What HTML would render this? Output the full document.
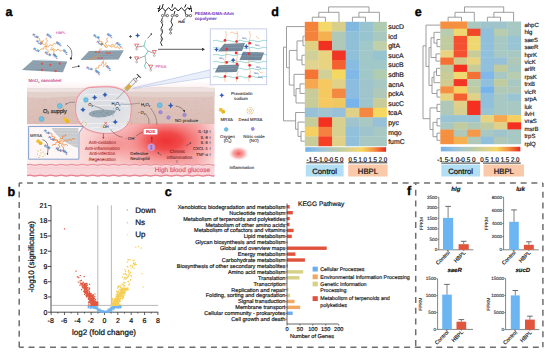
<!DOCTYPE html><html><head><meta charset="utf-8"><style>html,body{margin:0;padding:0;background:#fff;}svg{display:block;font-family:"Liberation Sans",sans-serif;text-rendering:geometricPrecision;}</style></head><body><svg width="550" height="352" viewBox="0 0 550 352"><defs><linearGradient id="derm" x1="0" x2="0" y1="0" y2="1"><stop offset="0" stop-color="#dfc7c0"/><stop offset="1" stop-color="#dbbdb5"/></linearGradient><linearGradient id="tis" x1="0" x2="1" y1="0" y2="0"><stop offset="0" stop-color="#fdf0f0"/><stop offset="0.28" stop-color="#fbdada"/><stop offset="0.9" stop-color="#f6b4b4"/><stop offset="1" stop-color="#fbdede"/></linearGradient><radialGradient id="gel" cx="0.5" cy="0.45" r="0.55"><stop offset="0" stop-color="#d8dadf"/><stop offset="0.85" stop-color="#e2e3e7"/><stop offset="1" stop-color="#ececef"/></radialGradient><radialGradient id="leg" cx="0.5" cy="0.5" r="0.5"><stop offset="0" stop-color="#f25a5a"/><stop offset="0.55" stop-color="#f79a9a" stop-opacity="0.8"/><stop offset="1" stop-color="#ffe8e8" stop-opacity="0"/></radialGradient><radialGradient id="inf1" cx="0.5" cy="0.5" r="0.5"><stop offset="0" stop-color="#ee3232"/><stop offset="0.25" stop-color="#f04444" stop-opacity="0.95"/><stop offset="0.6" stop-color="#f47c7c" stop-opacity="0.5"/><stop offset="1" stop-color="#f8a8a8" stop-opacity="0"/></radialGradient><linearGradient id="haze" x1="0" x2="0" y1="0" y2="1"><stop offset="0" stop-color="#fde8ea" stop-opacity="0"/><stop offset="1" stop-color="#fbe0e2" stop-opacity="1"/></linearGradient><clipPath id="skclip"><rect x="27.0" y="80" width="187.5" height="100"/></clipPath><clipPath id="tisclip"><rect x="27" y="123.5" width="187.5" height="41"/></clipPath></defs>
<rect x="27.00" y="80.00" width="187.50" height="8.50" fill="url(#haze)" opacity="0.5"/>
<path d="M27.0 88.4 Q60 87.6 90 88.6 T150 87.8 T214.5 88.2 V124.2 H27.0 Z" fill="url(#derm)"/>
<path d="M27.0 88.4 Q60 87.6 90 88.6 T150 87.8 T214.5 88.2 V96.5 Q170 97.2 130 96.4 T60 96.9 T27.0 96.6 Z" fill="#e7d6d1"/>
<path d="M27.0 88.4 Q60 87.6 90 88.6 T150 87.8 T214.5 88.2 V91.5 Q170 92 130 91.4 T60 91.8 T27.0 91.5 Z" fill="#ede2df"/>
<path d="M143.8 116.4h0.7v0.6h-0.7zM176.1 121.5h0.7v0.6h-0.7zM165.7 121.0h0.7v0.6h-0.7zM32.4 109.4h0.7v0.6h-0.7zM203.9 114.0h0.7v0.6h-0.7zM195.9 100.4h0.7v0.6h-0.7zM115.0 103.8h0.7v0.6h-0.7zM129.0 112.1h0.7v0.6h-0.7zM29.5 103.0h0.7v0.6h-0.7zM79.4 120.9h0.7v0.6h-0.7zM170.6 101.6h0.7v0.6h-0.7zM176.5 101.0h0.7v0.6h-0.7zM142.8 100.7h0.7v0.6h-0.7zM27.3 119.7h0.7v0.6h-0.7zM66.3 103.0h0.7v0.6h-0.7zM211.2 119.7h0.7v0.6h-0.7zM81.2 122.0h0.7v0.6h-0.7zM128.1 114.8h0.7v0.6h-0.7zM65.4 121.5h0.7v0.6h-0.7zM156.5 122.1h0.7v0.6h-0.7zM194.6 105.1h0.7v0.6h-0.7zM94.7 101.7h0.7v0.6h-0.7zM54.3 99.2h0.7v0.6h-0.7zM83.5 112.9h0.7v0.6h-0.7zM27.6 114.8h0.7v0.6h-0.7zM90.4 105.4h0.7v0.6h-0.7zM180.5 109.8h0.7v0.6h-0.7zM86.2 109.8h0.7v0.6h-0.7zM159.1 99.0h0.7v0.6h-0.7zM209.8 98.1h0.7v0.6h-0.7zM167.6 119.0h0.7v0.6h-0.7zM30.4 117.6h0.7v0.6h-0.7zM95.7 112.3h0.7v0.6h-0.7zM28.7 98.7h0.7v0.6h-0.7zM60.9 121.9h0.7v0.6h-0.7zM63.8 116.8h0.7v0.6h-0.7zM201.3 121.5h0.7v0.6h-0.7zM91.6 106.5h0.7v0.6h-0.7zM125.4 117.3h0.7v0.6h-0.7zM47.3 116.6h0.7v0.6h-0.7zM176.5 119.4h0.7v0.6h-0.7zM33.9 121.6h0.7v0.6h-0.7zM44.1 106.2h0.7v0.6h-0.7zM141.5 120.9h0.7v0.6h-0.7zM90.7 121.1h0.7v0.6h-0.7zM129.2 105.5h0.7v0.6h-0.7zM86.4 102.0h0.7v0.6h-0.7zM41.7 101.3h0.7v0.6h-0.7zM156.2 122.9h0.7v0.6h-0.7zM57.3 98.7h0.7v0.6h-0.7zM212.0 111.1h0.7v0.6h-0.7zM103.1 103.6h0.7v0.6h-0.7zM138.4 118.6h0.7v0.6h-0.7zM112.4 108.3h0.7v0.6h-0.7zM37.4 120.9h0.7v0.6h-0.7zM33.1 110.1h0.7v0.6h-0.7zM184.2 100.8h0.7v0.6h-0.7zM164.2 121.7h0.7v0.6h-0.7zM145.2 117.6h0.7v0.6h-0.7zM47.0 108.6h0.7v0.6h-0.7zM55.0 119.0h0.7v0.6h-0.7zM82.3 109.1h0.7v0.6h-0.7zM214.4 119.2h0.7v0.6h-0.7zM210.0 109.1h0.7v0.6h-0.7zM118.5 116.1h0.7v0.6h-0.7zM116.8 104.9h0.7v0.6h-0.7zM102.7 101.2h0.7v0.6h-0.7zM97.7 122.7h0.7v0.6h-0.7zM207.0 113.5h0.7v0.6h-0.7zM120.6 106.1h0.7v0.6h-0.7zM43.7 104.4h0.7v0.6h-0.7zM173.6 119.6h0.7v0.6h-0.7zM94.7 117.5h0.7v0.6h-0.7zM172.3 115.2h0.7v0.6h-0.7zM151.5 116.9h0.7v0.6h-0.7zM95.1 115.5h0.7v0.6h-0.7zM79.7 109.9h0.7v0.6h-0.7zM171.3 115.1h0.7v0.6h-0.7zM82.1 121.6h0.7v0.6h-0.7zM148.8 112.3h0.7v0.6h-0.7zM29.2 111.4h0.7v0.6h-0.7zM74.0 114.6h0.7v0.6h-0.7zM113.8 118.3h0.7v0.6h-0.7zM148.4 117.8h0.7v0.6h-0.7zM92.2 113.9h0.7v0.6h-0.7zM165.3 118.6h0.7v0.6h-0.7zM92.6 119.0h0.7v0.6h-0.7zM190.1 115.1h0.7v0.6h-0.7zM210.0 121.9h0.7v0.6h-0.7zM124.2 111.0h0.7v0.6h-0.7zM58.2 118.8h0.7v0.6h-0.7zM202.8 109.7h0.7v0.6h-0.7zM156.6 115.9h0.7v0.6h-0.7zM163.9 101.9h0.7v0.6h-0.7zM173.3 112.3h0.7v0.6h-0.7zM151.8 108.2h0.7v0.6h-0.7zM144.0 117.3h0.7v0.6h-0.7zM146.4 115.9h0.7v0.6h-0.7zM32.2 101.6h0.7v0.6h-0.7zM109.7 114.1h0.7v0.6h-0.7zM68.1 115.0h0.7v0.6h-0.7zM145.3 98.6h0.7v0.6h-0.7zM115.4 103.3h0.7v0.6h-0.7zM37.2 100.9h0.7v0.6h-0.7zM86.5 102.1h0.7v0.6h-0.7zM63.3 98.4h0.7v0.6h-0.7zM114.2 107.2h0.7v0.6h-0.7zM141.7 112.5h0.7v0.6h-0.7zM71.6 120.5h0.7v0.6h-0.7zM27.1 107.8h0.7v0.6h-0.7zM79.2 108.0h0.7v0.6h-0.7zM48.6 118.7h0.7v0.6h-0.7zM97.1 98.4h0.7v0.6h-0.7zM142.0 99.9h0.7v0.6h-0.7zM129.2 106.2h0.7v0.6h-0.7zM135.9 121.9h0.7v0.6h-0.7zM180.5 108.2h0.7v0.6h-0.7zM179.4 113.9h0.7v0.6h-0.7zM96.3 101.1h0.7v0.6h-0.7zM138.7 111.9h0.7v0.6h-0.7zM206.5 122.2h0.7v0.6h-0.7zM141.1 106.5h0.7v0.6h-0.7zM194.5 97.5h0.7v0.6h-0.7zM47.2 111.9h0.7v0.6h-0.7zM142.3 101.1h0.7v0.6h-0.7zM145.0 120.2h0.7v0.6h-0.7zM97.5 108.5h0.7v0.6h-0.7zM69.4 104.9h0.7v0.6h-0.7zM209.3 107.2h0.7v0.6h-0.7zM207.2 120.8h0.7v0.6h-0.7zM138.7 104.1h0.7v0.6h-0.7zM210.9 110.2h0.7v0.6h-0.7zM104.9 105.6h0.7v0.6h-0.7zM211.6 110.0h0.7v0.6h-0.7zM80.7 109.7h0.7v0.6h-0.7zM49.9 113.4h0.7v0.6h-0.7zM110.2 105.0h0.7v0.6h-0.7zM173.6 118.6h0.7v0.6h-0.7zM29.5 111.1h0.7v0.6h-0.7zM78.3 121.3h0.7v0.6h-0.7zM173.6 103.8h0.7v0.6h-0.7zM77.2 101.4h0.7v0.6h-0.7zM212.4 105.0h0.7v0.6h-0.7zM141.0 109.6h0.7v0.6h-0.7zM147.9 112.9h0.7v0.6h-0.7zM166.4 100.5h0.7v0.6h-0.7zM169.6 105.2h0.7v0.6h-0.7zM127.0 106.1h0.7v0.6h-0.7zM82.7 111.0h0.7v0.6h-0.7zM114.1 106.7h0.7v0.6h-0.7zM166.7 112.6h0.7v0.6h-0.7zM33.8 103.9h0.7v0.6h-0.7zM112.4 120.9h0.7v0.6h-0.7zM193.5 111.4h0.7v0.6h-0.7zM29.7 117.3h0.7v0.6h-0.7zM107.2 112.2h0.7v0.6h-0.7zM159.8 113.6h0.7v0.6h-0.7zM117.4 120.7h0.7v0.6h-0.7zM99.3 107.5h0.7v0.6h-0.7zM186.7 102.5h0.7v0.6h-0.7zM82.6 118.7h0.7v0.6h-0.7zM39.4 118.8h0.7v0.6h-0.7zM157.2 108.5h0.7v0.6h-0.7zM80.7 117.4h0.7v0.6h-0.7zM197.8 101.1h0.7v0.6h-0.7zM116.7 111.5h0.7v0.6h-0.7zM120.3 105.9h0.7v0.6h-0.7zM55.8 112.4h0.7v0.6h-0.7zM179.2 99.2h0.7v0.6h-0.7zM70.1 118.4h0.7v0.6h-0.7zM175.5 114.4h0.7v0.6h-0.7zM31.8 115.9h0.7v0.6h-0.7zM210.5 123.0h0.7v0.6h-0.7zM158.5 98.7h0.7v0.6h-0.7zM184.9 103.1h0.7v0.6h-0.7zM148.1 121.8h0.7v0.6h-0.7zM160.6 100.9h0.7v0.6h-0.7zM81.8 120.9h0.7v0.6h-0.7zM55.1 113.1h0.7v0.6h-0.7zM104.6 101.6h0.7v0.6h-0.7zM143.7 98.6h0.7v0.6h-0.7zM47.3 107.2h0.7v0.6h-0.7zM40.5 99.0h0.7v0.6h-0.7zM134.9 116.4h0.7v0.6h-0.7zM191.7 100.9h0.7v0.6h-0.7zM107.9 105.5h0.7v0.6h-0.7zM139.5 110.0h0.7v0.6h-0.7zM203.0 107.0h0.7v0.6h-0.7zM37.5 115.3h0.7v0.6h-0.7zM55.3 113.6h0.7v0.6h-0.7zM121.8 120.7h0.7v0.6h-0.7zM131.0 113.3h0.7v0.6h-0.7zM76.4 111.6h0.7v0.6h-0.7zM74.7 116.6h0.7v0.6h-0.7zM123.9 100.9h0.7v0.6h-0.7zM71.0 107.0h0.7v0.6h-0.7zM165.1 102.1h0.7v0.6h-0.7zM160.7 114.2h0.7v0.6h-0.7zM43.0 114.5h0.7v0.6h-0.7zM44.1 100.7h0.7v0.6h-0.7zM138.4 103.6h0.7v0.6h-0.7zM191.4 109.8h0.7v0.6h-0.7zM87.6 117.8h0.7v0.6h-0.7zM32.5 116.0h0.7v0.6h-0.7zM37.1 101.3h0.7v0.6h-0.7zM205.5 114.9h0.7v0.6h-0.7zM68.8 100.5h0.7v0.6h-0.7zM209.4 114.5h0.7v0.6h-0.7zM180.9 101.1h0.7v0.6h-0.7zM144.1 106.5h0.7v0.6h-0.7zM71.1 106.0h0.7v0.6h-0.7zM142.1 106.4h0.7v0.6h-0.7zM99.3 101.0h0.7v0.6h-0.7zM182.8 114.0h0.7v0.6h-0.7zM177.8 108.6h0.7v0.6h-0.7zM186.7 110.7h0.7v0.6h-0.7zM138.1 112.1h0.7v0.6h-0.7zM165.8 107.6h0.7v0.6h-0.7zM45.2 98.3h0.7v0.6h-0.7zM65.0 98.5h0.7v0.6h-0.7zM193.7 109.8h0.7v0.6h-0.7zM169.6 97.5h0.7v0.6h-0.7zM115.2 120.2h0.7v0.6h-0.7zM143.1 108.4h0.7v0.6h-0.7zM114.3 100.0h0.7v0.6h-0.7zM56.0 101.6h0.7v0.6h-0.7zM97.2 107.3h0.7v0.6h-0.7zM192.1 101.4h0.7v0.6h-0.7zM74.6 104.6h0.7v0.6h-0.7zM57.3 104.8h0.7v0.6h-0.7zM71.1 109.8h0.7v0.6h-0.7zM33.0 121.1h0.7v0.6h-0.7zM96.2 121.4h0.7v0.6h-0.7zM155.9 114.7h0.7v0.6h-0.7zM115.4 121.6h0.7v0.6h-0.7zM49.1 114.5h0.7v0.6h-0.7zM81.6 114.7h0.7v0.6h-0.7zM163.7 101.7h0.7v0.6h-0.7zM64.7 98.1h0.7v0.6h-0.7zM70.2 99.5h0.7v0.6h-0.7zM102.2 122.3h0.7v0.6h-0.7zM95.3 105.5h0.7v0.6h-0.7zM114.8 104.7h0.7v0.6h-0.7zM164.3 115.8h0.7v0.6h-0.7zM57.6 103.6h0.7v0.6h-0.7zM153.0 121.5h0.7v0.6h-0.7zM148.1 108.5h0.7v0.6h-0.7zM209.9 97.7h0.7v0.6h-0.7zM38.4 117.4h0.7v0.6h-0.7zM103.9 98.6h0.7v0.6h-0.7zM129.8 122.7h0.7v0.6h-0.7zM124.3 106.4h0.7v0.6h-0.7zM44.6 99.3h0.7v0.6h-0.7zM195.5 110.0h0.7v0.6h-0.7zM202.5 98.9h0.7v0.6h-0.7zM72.6 98.8h0.7v0.6h-0.7zM101.5 99.0h0.7v0.6h-0.7zM74.9 107.9h0.7v0.6h-0.7zM84.4 98.8h0.7v0.6h-0.7zM34.1 122.3h0.7v0.6h-0.7zM60.6 110.5h0.7v0.6h-0.7zM102.4 111.0h0.7v0.6h-0.7zM42.8 105.5h0.7v0.6h-0.7zM47.2 111.3h0.7v0.6h-0.7zM199.7 112.8h0.7v0.6h-0.7zM187.6 103.0h0.7v0.6h-0.7zM30.3 111.3h0.7v0.6h-0.7zM118.2 112.1h0.7v0.6h-0.7zM97.6 113.4h0.7v0.6h-0.7zM163.1 120.8h0.7v0.6h-0.7zM84.7 109.0h0.7v0.6h-0.7zM182.0 103.2h0.7v0.6h-0.7zM48.7 105.4h0.7v0.6h-0.7zM43.4 117.2h0.7v0.6h-0.7zM180.6 105.5h0.7v0.6h-0.7zM51.3 99.6h0.7v0.6h-0.7zM72.9 99.7h0.7v0.6h-0.7zM107.4 112.2h0.7v0.6h-0.7zM73.0 99.1h0.7v0.6h-0.7zM158.4 98.7h0.7v0.6h-0.7zM64.5 104.8h0.7v0.6h-0.7zM97.1 100.0h0.7v0.6h-0.7zM105.9 105.5h0.7v0.6h-0.7zM168.1 111.7h0.7v0.6h-0.7zM195.0 114.2h0.7v0.6h-0.7zM169.4 112.2h0.7v0.6h-0.7zM109.9 118.3h0.7v0.6h-0.7zM149.9 121.8h0.7v0.6h-0.7zM163.5 115.4h0.7v0.6h-0.7zM77.2 118.2h0.7v0.6h-0.7zM98.7 100.8h0.7v0.6h-0.7zM39.4 101.8h0.7v0.6h-0.7zM76.2 114.7h0.7v0.6h-0.7zM80.5 99.1h0.7v0.6h-0.7zM170.2 111.7h0.7v0.6h-0.7zM32.2 98.8h0.7v0.6h-0.7zM51.4 106.6h0.7v0.6h-0.7zM188.2 121.7h0.7v0.6h-0.7zM141.8 103.4h0.7v0.6h-0.7zM107.4 106.7h0.7v0.6h-0.7zM88.9 97.8h0.7v0.6h-0.7zM136.6 118.6h0.7v0.6h-0.7zM163.3 99.9h0.7v0.6h-0.7zM126.4 101.9h0.7v0.6h-0.7zM160.0 108.9h0.7v0.6h-0.7zM203.0 117.8h0.7v0.6h-0.7zM49.2 105.6h0.7v0.6h-0.7zM198.6 109.3h0.7v0.6h-0.7zM108.4 108.8h0.7v0.6h-0.7zM170.9 121.4h0.7v0.6h-0.7zM126.9 122.2h0.7v0.6h-0.7zM138.8 100.1h0.7v0.6h-0.7zM179.7 108.2h0.7v0.6h-0.7zM36.8 122.4h0.7v0.6h-0.7zM33.2 112.2h0.7v0.6h-0.7zM117.4 120.0h0.7v0.6h-0.7zM100.6 103.0h0.7v0.6h-0.7zM78.9 102.6h0.7v0.6h-0.7zM132.5 106.6h0.7v0.6h-0.7zM167.8 103.7h0.7v0.6h-0.7zM93.0 103.8h0.7v0.6h-0.7zM211.2 118.9h0.7v0.6h-0.7zM186.3 113.3h0.7v0.6h-0.7zM102.2 101.1h0.7v0.6h-0.7zM182.9 110.0h0.7v0.6h-0.7zM34.1 101.8h0.7v0.6h-0.7zM45.5 115.8h0.7v0.6h-0.7zM195.8 102.6h0.7v0.6h-0.7zM176.4 105.8h0.7v0.6h-0.7zM155.0 119.5h0.7v0.6h-0.7zM143.8 117.9h0.7v0.6h-0.7zM97.6 97.8h0.7v0.6h-0.7zM123.0 112.5h0.7v0.6h-0.7zM61.6 107.4h0.7v0.6h-0.7zM86.5 98.2h0.7v0.6h-0.7zM85.5 107.3h0.7v0.6h-0.7zM116.3 115.4h0.7v0.6h-0.7zM101.8 122.6h0.7v0.6h-0.7zM179.9 121.1h0.7v0.6h-0.7zM156.9 114.6h0.7v0.6h-0.7zM127.6 117.9h0.7v0.6h-0.7zM95.0 112.6h0.7v0.6h-0.7zM154.4 110.8h0.7v0.6h-0.7zM80.3 99.5h0.7v0.6h-0.7zM43.4 106.6h0.7v0.6h-0.7zM135.8 116.9h0.7v0.6h-0.7zM161.0 105.3h0.7v0.6h-0.7zM201.2 104.5h0.7v0.6h-0.7zM161.3 99.3h0.7v0.6h-0.7zM168.3 114.6h0.7v0.6h-0.7zM206.4 120.4h0.7v0.6h-0.7zM155.9 118.9h0.7v0.6h-0.7zM165.5 113.1h0.7v0.6h-0.7zM66.1 110.7h0.7v0.6h-0.7zM195.0 103.6h0.7v0.6h-0.7zM209.7 111.4h0.7v0.6h-0.7zM100.8 97.6h0.7v0.6h-0.7zM100.2 102.0h0.7v0.6h-0.7zM149.5 120.4h0.7v0.6h-0.7zM197.7 113.1h0.7v0.6h-0.7zM99.5 100.3h0.7v0.6h-0.7zM156.1 111.6h0.7v0.6h-0.7zM161.1 107.0h0.7v0.6h-0.7zM193.3 102.9h0.7v0.6h-0.7zM84.3 104.3h0.7v0.6h-0.7zM143.7 120.4h0.7v0.6h-0.7zM58.4 113.6h0.7v0.6h-0.7zM170.7 103.2h0.7v0.6h-0.7zM38.8 111.9h0.7v0.6h-0.7zM182.7 119.9h0.7v0.6h-0.7zM163.5 108.1h0.7v0.6h-0.7zM106.8 111.0h0.7v0.6h-0.7zM196.6 105.2h0.7v0.6h-0.7zM79.6 112.9h0.7v0.6h-0.7zM208.2 102.3h0.7v0.6h-0.7zM32.7 100.4h0.7v0.6h-0.7zM132.5 112.9h0.7v0.6h-0.7zM61.5 102.4h0.7v0.6h-0.7zM138.5 114.0h0.7v0.6h-0.7zM156.4 116.1h0.7v0.6h-0.7zM38.5 109.9h0.7v0.6h-0.7zM183.5 121.9h0.7v0.6h-0.7zM86.7 119.2h0.7v0.6h-0.7zM148.0 121.1h0.7v0.6h-0.7zM70.0 115.3h0.7v0.6h-0.7zM184.6 109.7h0.7v0.6h-0.7zM45.9 102.4h0.7v0.6h-0.7zM56.4 99.9h0.7v0.6h-0.7zM55.5 113.2h0.7v0.6h-0.7zM46.7 116.8h0.7v0.6h-0.7zM165.0 118.3h0.7v0.6h-0.7zM177.7 115.7h0.7v0.6h-0.7zM200.3 121.9h0.7v0.6h-0.7zM144.2 122.1h0.7v0.6h-0.7zM46.4 100.1h0.7v0.6h-0.7zM39.1 102.8h0.7v0.6h-0.7zM97.2 109.2h0.7v0.6h-0.7zM154.6 116.4h0.7v0.6h-0.7zM42.7 107.8h0.7v0.6h-0.7zM128.9 107.1h0.7v0.6h-0.7zM49.0 112.7h0.7v0.6h-0.7zM97.2 114.9h0.7v0.6h-0.7zM119.9 122.0h0.7v0.6h-0.7zM204.2 99.3h0.7v0.6h-0.7zM169.5 115.9h0.7v0.6h-0.7zM82.5 100.5h0.7v0.6h-0.7zM116.8 106.5h0.7v0.6h-0.7zM165.2 120.9h0.7v0.6h-0.7zM98.6 104.9h0.7v0.6h-0.7zM120.5 115.3h0.7v0.6h-0.7zM174.9 112.2h0.7v0.6h-0.7zM82.5 106.1h0.7v0.6h-0.7zM186.0 110.7h0.7v0.6h-0.7zM36.4 108.2h0.7v0.6h-0.7zM71.6 114.5h0.7v0.6h-0.7zM40.8 104.4h0.7v0.6h-0.7zM45.0 109.7h0.7v0.6h-0.7zM211.6 111.3h0.7v0.6h-0.7zM99.4 121.3h0.7v0.6h-0.7zM44.2 106.6h0.7v0.6h-0.7zM179.0 97.6h0.7v0.6h-0.7zM170.6 106.7h0.7v0.6h-0.7zM30.1 103.9h0.7v0.6h-0.7zM112.9 107.3h0.7v0.6h-0.7zM123.9 98.9h0.7v0.6h-0.7zM68.0 122.3h0.7v0.6h-0.7zM110.0 109.5h0.7v0.6h-0.7zM43.0 104.6h0.7v0.6h-0.7zM206.0 115.0h0.7v0.6h-0.7zM122.2 98.9h0.7v0.6h-0.7zM100.6 117.4h0.7v0.6h-0.7zM108.5 112.6h0.7v0.6h-0.7zM196.2 114.0h0.7v0.6h-0.7zM146.2 98.4h0.7v0.6h-0.7zM31.5 117.1h0.7v0.6h-0.7zM104.5 119.8h0.7v0.6h-0.7zM181.8 120.8h0.7v0.6h-0.7zM98.0 123.0h0.7v0.6h-0.7zM168.8 120.2h0.7v0.6h-0.7zM54.8 117.4h0.7v0.6h-0.7zM106.2 122.3h0.7v0.6h-0.7zM213.4 103.0h0.7v0.6h-0.7zM106.0 104.4h0.7v0.6h-0.7zM115.1 104.8h0.7v0.6h-0.7zM152.0 100.6h0.7v0.6h-0.7zM58.7 109.2h0.7v0.6h-0.7zM40.9 107.2h0.7v0.6h-0.7zM195.3 120.1h0.7v0.6h-0.7zM63.8 98.0h0.7v0.6h-0.7zM182.3 122.0h0.7v0.6h-0.7zM139.3 101.0h0.7v0.6h-0.7zM71.4 121.0h0.7v0.6h-0.7zM202.8 98.3h0.7v0.6h-0.7zM61.7 108.4h0.7v0.6h-0.7zM77.0 116.7h0.7v0.6h-0.7zM96.9 117.3h0.7v0.6h-0.7zM55.5 110.7h0.7v0.6h-0.7zM209.8 115.4h0.7v0.6h-0.7zM43.9 100.3h0.7v0.6h-0.7zM147.7 107.1h0.7v0.6h-0.7zM96.1 109.7h0.7v0.6h-0.7zM136.1 122.1h0.7v0.6h-0.7zM72.2 112.0h0.7v0.6h-0.7zM76.3 111.4h0.7v0.6h-0.7zM164.1 100.9h0.7v0.6h-0.7zM117.2 115.5h0.7v0.6h-0.7zM28.5 117.2h0.7v0.6h-0.7zM105.5 110.4h0.7v0.6h-0.7zM141.5 117.7h0.7v0.6h-0.7zM37.5 110.3h0.7v0.6h-0.7zM34.2 107.3h0.7v0.6h-0.7zM91.8 98.0h0.7v0.6h-0.7zM82.8 109.0h0.7v0.6h-0.7zM149.8 121.1h0.7v0.6h-0.7zM96.5 111.0h0.7v0.6h-0.7zM160.7 121.4h0.7v0.6h-0.7zM205.1 122.7h0.7v0.6h-0.7zM83.6 101.7h0.7v0.6h-0.7zM201.7 99.5h0.7v0.6h-0.7zM111.1 116.3h0.7v0.6h-0.7zM126.1 107.4h0.7v0.6h-0.7zM200.3 105.1h0.7v0.6h-0.7zM130.4 118.7h0.7v0.6h-0.7zM52.9 106.4h0.7v0.6h-0.7zM119.7 111.9h0.7v0.6h-0.7zM65.9 109.1h0.7v0.6h-0.7zM38.2 99.7h0.7v0.6h-0.7zM91.1 101.2h0.7v0.6h-0.7zM208.4 104.2h0.7v0.6h-0.7zM78.7 117.5h0.7v0.6h-0.7zM166.0 104.2h0.7v0.6h-0.7zM182.5 113.5h0.7v0.6h-0.7zM99.9 113.5h0.7v0.6h-0.7zM73.1 104.2h0.7v0.6h-0.7zM191.3 108.7h0.7v0.6h-0.7zM195.2 102.0h0.7v0.6h-0.7zM52.7 98.8h0.7v0.6h-0.7zM165.7 111.8h0.7v0.6h-0.7zM28.8 98.6h0.7v0.6h-0.7zM181.5 110.1h0.7v0.6h-0.7zM190.4 98.5h0.7v0.6h-0.7zM137.4 100.5h0.7v0.6h-0.7zM162.2 113.1h0.7v0.6h-0.7zM141.8 103.1h0.7v0.6h-0.7zM204.9 100.3h0.7v0.6h-0.7zM39.0 114.9h0.7v0.6h-0.7zM44.4 99.2h0.7v0.6h-0.7zM113.3 114.0h0.7v0.6h-0.7zM194.3 115.9h0.7v0.6h-0.7zM40.0 113.9h0.7v0.6h-0.7zM185.2 100.6h0.7v0.6h-0.7zM168.5 104.1h0.7v0.6h-0.7zM83.0 97.5h0.7v0.6h-0.7zM169.2 110.7h0.7v0.6h-0.7zM196.1 109.4h0.7v0.6h-0.7zM56.1 103.0h0.7v0.6h-0.7zM76.4 121.6h0.7v0.6h-0.7zM65.5 99.7h0.7v0.6h-0.7zM93.1 99.5h0.7v0.6h-0.7zM106.7 113.4h0.7v0.6h-0.7z" fill="#c7a9a1" opacity="0.5"/>
<path d="M27.0 92.5 Q80 93.1 130 92.5 T214.5 92.5" stroke="#d9c3bd" stroke-width="0.35" fill="none"/>
<path d="M27.0 93.7 Q80 94.3 130 93.7 T214.5 93.7" stroke="#d9c3bd" stroke-width="0.35" fill="none"/>
<path d="M27.0 94.9 Q80 95.5 130 94.9 T214.5 94.9" stroke="#d9c3bd" stroke-width="0.35" fill="none"/>
<path d="M27.0 96.1 Q80 96.7 130 96.1 T214.5 96.1" stroke="#d9c3bd" stroke-width="0.35" fill="none"/>
<rect x="27.00" y="124.00" width="187.50" height="40.80" fill="url(#tis)" />
<g clip-path="url(#tisclip)">
<ellipse cx="166" cy="141" rx="62" ry="34" fill="url(#inf1)"/>
<ellipse cx="112" cy="145" rx="36" ry="24" fill="url(#inf1)" opacity="0.3"/>
</g>
<rect x="27.00" y="164.60" width="187.50" height="11.60" fill="#f9d6da" />
<g clip-path="url(#skclip)">
<path d="M27.0 164.7 q2.62 -0.9 5.25 0 t5.25 0 q2.62 -0.9 5.25 0 t5.25 0 q2.62 -0.9 5.25 0 t5.25 0 q2.62 -0.9 5.25 0 t5.25 0 q2.62 -0.9 5.25 0 t5.25 0 q2.62 -0.9 5.25 0 t5.25 0 q2.62 -0.9 5.25 0 t5.25 0 q2.62 -0.9 5.25 0 t5.25 0 q2.62 -0.9 5.25 0 t5.25 0 q2.62 -0.9 5.25 0 t5.25 0 q2.62 -0.9 5.25 0 t5.25 0 q2.62 -0.9 5.25 0 t5.25 0 q2.62 -0.9 5.25 0 t5.25 0 q2.62 -0.9 5.25 0 t5.25 0 q2.62 -0.9 5.25 0 t5.25 0 q2.62 -0.9 5.25 0 t5.25 0 q2.62 -0.9 5.25 0 t5.25 0 q2.62 -0.9 5.25 0 t5.25 0" fill="none" stroke="#e78d98" stroke-width="1.1"/>
<path d="M27.0 168.0 q3.50 -0.5 7.00 0 t7.00 0 q3.50 -0.5 7.00 0 t7.00 0 q3.50 -0.5 7.00 0 t7.00 0 q3.50 -0.5 7.00 0 t7.00 0 q3.50 -0.5 7.00 0 t7.00 0 q3.50 -0.5 7.00 0 t7.00 0 q3.50 -0.5 7.00 0 t7.00 0 q3.50 -0.5 7.00 0 t7.00 0 q3.50 -0.5 7.00 0 t7.00 0 q3.50 -0.5 7.00 0 t7.00 0 q3.50 -0.5 7.00 0 t7.00 0 q3.50 -0.5 7.00 0 t7.00 0 q3.50 -0.5 7.00 0 t7.00 0 q3.50 -0.5 7.00 0 t7.00 0" fill="none" stroke="#f4c0c6" stroke-width="0.5"/>
<path d="M27.0 175.6 q2.62 -0.8 5.25 0 t5.25 0 q2.62 -0.8 5.25 0 t5.25 0 q2.62 -0.8 5.25 0 t5.25 0 q2.62 -0.8 5.25 0 t5.25 0 q2.62 -0.8 5.25 0 t5.25 0 q2.62 -0.8 5.25 0 t5.25 0 q2.62 -0.8 5.25 0 t5.25 0 q2.62 -0.8 5.25 0 t5.25 0 q2.62 -0.8 5.25 0 t5.25 0 q2.62 -0.8 5.25 0 t5.25 0 q2.62 -0.8 5.25 0 t5.25 0 q2.62 -0.8 5.25 0 t5.25 0 q2.62 -0.8 5.25 0 t5.25 0 q2.62 -0.8 5.25 0 t5.25 0 q2.62 -0.8 5.25 0 t5.25 0 q2.62 -0.8 5.25 0 t5.25 0 q2.62 -0.8 5.25 0 t5.25 0 q2.62 -0.8 5.25 0 t5.25 0" fill="none" stroke="#e6808e" stroke-width="1.3"/>
</g>
<text x="182.40" y="171.80" font-size="6.5" fill="#e05a6a" text-anchor="middle" font-weight="normal" font-style="normal"  stroke="#e05a6a" stroke-width="0.195">High blood glucose</text>
<path d="M133 88 L210.3 69.8 L210.3 77.2 Z" fill="#e3e9f7" opacity="0.75"/>
<line x1="133.00" y1="88.00" x2="210.30" y2="69.80" stroke="#aebde6" stroke-width="0.6" />
<line x1="133.00" y1="88.60" x2="210.30" y2="77.20" stroke="#aebde6" stroke-width="0.6" />
<path d="M82.7 91.2 C86 88.5 88 87.6 90.7 87.5 C97 87 104 86.8 109.8 86.9 C115 87.2 119 88.5 122.5 90.4 C126 93 128.5 96 129.7 99.9 C131 103 131.5 106 131.2 109.5 C131 113 130.8 117 129.7 120.6 C128 124 125.5 127 122.5 129.3 C118 132 114 133 109.8 133.3 C105 133.6 101 133.2 97 132.5 C93 131.6 89 130.4 85.9 128.5 C82.5 126 80.2 123.5 78.7 120.6 C76.5 117 75.6 113.5 75.6 109.5 C75.6 105.5 76 101.5 77.2 98.3 C78.5 95.5 80.5 93 82.7 91.2 Z" fill="none" stroke="#f3b6be" stroke-width="2.6" opacity="0.7"/>
<path d="M82.7 91.2 C86 88.5 88 87.6 90.7 87.5 C97 87 104 86.8 109.8 86.9 C115 87.2 119 88.5 122.5 90.4 C126 93 128.5 96 129.7 99.9 C131 103 131.5 106 131.2 109.5 C131 113 130.8 117 129.7 120.6 C128 124 125.5 127 122.5 129.3 C118 132 114 133 109.8 133.3 C105 133.6 101 133.2 97 132.5 C93 131.6 89 130.4 85.9 128.5 C82.5 126 80.2 123.5 78.7 120.6 C76.5 117 75.6 113.5 75.6 109.5 C75.6 105.5 76 101.5 77.2 98.3 C78.5 95.5 80.5 93 82.7 91.2 Z" fill="url(#gel)" stroke="#e78894" stroke-width="0.9"/>
<path d="M84 95 Q102.0 93.5 120 95" stroke="#f4f4f6" stroke-width="1.2" fill="none" opacity="0.8"/>
<path d="M80 101 Q103.0 99.5 126 101" stroke="#f4f4f6" stroke-width="1.2" fill="none" opacity="0.8"/>
<path d="M92 106 Q110.0 104.5 128 106" stroke="#f4f4f6" stroke-width="1.2" fill="none" opacity="0.8"/>
<path d="M84 124 Q103.0 122.5 122 124" stroke="#f4f4f6" stroke-width="1.2" fill="none" opacity="0.8"/>
<path d="M90 128 Q104.0 126.5 118 128" stroke="#f4f4f6" stroke-width="1.2" fill="none" opacity="0.8"/>
<path d="M89 113 C93 109.5 103 109.2 116 110.5 C115 114.5 108 117.5 98 117.4 C92 117.2 88 115.5 89 113 Z" fill="#93a5b0"/>
<path d="M106.0 111.9h0.6v0.5h-0.6zM94.2 113.5h0.6v0.5h-0.6zM106.8 113.2h0.6v0.5h-0.6zM104.2 115.6h0.6v0.5h-0.6zM94.3 112.3h0.6v0.5h-0.6zM102.4 113.7h0.6v0.5h-0.6zM111.7 113.8h0.6v0.5h-0.6zM106.2 113.1h0.6v0.5h-0.6zM109.0 115.2h0.6v0.5h-0.6zM97.8 111.5h0.6v0.5h-0.6zM97.0 112.8h0.6v0.5h-0.6zM111.5 112.3h0.6v0.5h-0.6zM105.5 114.2h0.6v0.5h-0.6zM113.0 111.6h0.6v0.5h-0.6zM108.7 112.7h0.6v0.5h-0.6zM93.4 114.2h0.6v0.5h-0.6zM110.4 113.9h0.6v0.5h-0.6zM92.1 115.9h0.6v0.5h-0.6zM99.8 114.2h0.6v0.5h-0.6zM107.7 112.3h0.6v0.5h-0.6zM100.4 112.6h0.6v0.5h-0.6zM93.2 111.3h0.6v0.5h-0.6zM107.5 113.1h0.6v0.5h-0.6zM111.0 111.3h0.6v0.5h-0.6zM97.9 111.9h0.6v0.5h-0.6zM112.7 115.0h0.6v0.5h-0.6zM111.6 113.5h0.6v0.5h-0.6zM93.4 113.1h0.6v0.5h-0.6zM96.2 111.1h0.6v0.5h-0.6zM104.0 112.4h0.6v0.5h-0.6zM93.5 113.6h0.6v0.5h-0.6zM112.5 115.7h0.6v0.5h-0.6zM101.7 111.5h0.6v0.5h-0.6zM108.7 111.6h0.6v0.5h-0.6zM103.4 111.4h0.6v0.5h-0.6zM113.7 113.7h0.6v0.5h-0.6zM101.1 112.4h0.6v0.5h-0.6zM103.7 115.9h0.6v0.5h-0.6zM100.8 112.0h0.6v0.5h-0.6zM102.8 115.6h0.6v0.5h-0.6z" fill="#6f838f"/>
<path d="M94.7 94.8 Q95.132 97.068 97.4 97.5 Q95.132 97.932 94.7 100.2 Q94.268 97.932 92.0 97.5 Q94.268 97.068 94.7 94.8 Z" fill="#2f5db5"/>
<path d="M105 92.1 Q105.432 94.368 107.7 94.8 Q105.432 95.232 105 97.5 Q104.568 95.232 102.3 94.8 Q104.568 94.368 105 92.1 Z" fill="#2f5db5"/>
<path d="M83 107.1 Q83.432 109.368 85.7 109.8 Q83.432 110.232 83 112.5 Q82.568 110.232 80.3 109.8 Q82.568 109.368 83 107.1 Z" fill="#2f5db5"/>
<path d="M115.3 119.2 Q115.732 121.468 118.0 121.9 Q115.732 122.33200000000001 115.3 124.60000000000001 Q114.868 122.33200000000001 112.6 121.9 Q114.868 121.468 115.3 119.2 Z" fill="#2f5db5"/>
<circle cx="85.9" cy="99.9" r="2.4" fill="#70c2e2" stroke="#3f9ccb" stroke-width="0.4"/>
<text x="88.3" y="106.2" font-size="4.2" fill="#222" stroke="#222" stroke-width="0.076">O<tspan font-size="2.52" dy="0.92">2</tspan><tspan dy="-0.92"></tspan></text>
<text x="111.4" y="104.6" font-size="4.2" fill="#222" stroke="#222" stroke-width="0.076">H<tspan font-size="2.5" dy="0.9">2</tspan><tspan dy="-0.9">O</tspan><tspan font-size="2.5" dy="0.9">2</tspan></text>
<text x="113" y="110.2" font-size="4.2" fill="#222" stroke="#222" stroke-width="0.076">· O<tspan font-size="2.52" dy="0.92">2</tspan><tspan dy="-0.92"></tspan></text>
<path d="M92 105 Q98 107 104 110" stroke="#333" stroke-width="0.35" fill="none"/>
<text x="100.20" y="127.70" font-size="4.0" fill="#222" text-anchor="start" font-weight="normal" font-style="normal"  stroke="#222" stroke-width="0.072">· OH</text>
<path d="M104.2 122 l3 2.6 M107.2 122 l-3 2.6" stroke="#e05050" stroke-width="0.7"/>
<circle cx="86.6" cy="124.0" r="0.45" fill="#d8a020"/>
<circle cx="85.8" cy="125.8" r="0.45" fill="#d8a020"/>
<circle cx="84.0" cy="126.6" r="0.45" fill="#d8a020"/>
<circle cx="82.2" cy="125.8" r="0.45" fill="#d8a020"/>
<circle cx="81.4" cy="124.0" r="0.45" fill="#d8a020"/>
<circle cx="82.2" cy="122.2" r="0.45" fill="#d8a020"/>
<circle cx="84.0" cy="121.4" r="0.45" fill="#d8a020"/>
<circle cx="85.8" cy="122.2" r="0.45" fill="#d8a020"/>
<circle cx="132.1" cy="123.0" r="0.45" fill="#d8a020"/>
<circle cx="131.3" cy="124.8" r="0.45" fill="#d8a020"/>
<circle cx="129.5" cy="125.6" r="0.45" fill="#d8a020"/>
<circle cx="127.7" cy="124.8" r="0.45" fill="#d8a020"/>
<circle cx="126.9" cy="123.0" r="0.45" fill="#d8a020"/>
<circle cx="127.7" cy="121.2" r="0.45" fill="#d8a020"/>
<circle cx="129.5" cy="120.4" r="0.45" fill="#d8a020"/>
<circle cx="131.3" cy="121.2" r="0.45" fill="#d8a020"/>
<circle cx="59.8" cy="105.9" r="2.5" fill="#70c2e2" stroke="#3f9ccb" stroke-width="0.4"/>
<circle cx="41.6" cy="119" r="2.5" fill="#70c2e2" stroke="#3f9ccb" stroke-width="0.4"/>
<circle cx="65.2" cy="119.4" r="2.0" fill="#f2c232"/>
<circle cx="67.5" cy="121.3" r="2.0" fill="#e9b624"/>
<text x="42.9" y="113" font-size="5.6" fill="#222" stroke="#222" stroke-width="0.168">O<tspan font-size="3.4" dy="1.1">2</tspan><tspan dy="-1.1"> supply</tspan></text>
<path d="M66 104 Q70 101.5 75 102.2" stroke="#333" stroke-width="0.4" fill="none"/>
<circle cx="66" cy="104" r="0.5" fill="#222"/>
<text x="140.9" y="105.8" font-size="4.3" fill="#222" stroke="#222" stroke-width="0.077">H<tspan font-size="2.6" dy="0.9">2</tspan><tspan dy="-0.9">O</tspan><tspan font-size="2.6" dy="0.9">2</tspan></text>
<text x="138" y="114.2" font-size="4.3" fill="#222" stroke="#222" stroke-width="0.077">· O<tspan font-size="2.58" dy="0.95">2</tspan><tspan dy="-0.95"></tspan></text>
<circle cx="159.8" cy="105.2" r="2.5" fill="#70c2e2" stroke="#3f9ccb" stroke-width="0.4"/>
<path d="M170.7 102.5 Q171.17999999999998 105.02 173.7 105.5 Q171.17999999999998 105.98 170.7 108.5 Q170.22 105.98 167.7 105.5 Q170.22 105.02 170.7 102.5 Z" fill="#2f5db5"/>
<circle cx="160.5" cy="112.2" r="1.8" fill="#a08ce0" stroke="#7f68c8" stroke-width="0.4"/>
<circle cx="168.5" cy="117.5" r="1.8" fill="#a08ce0" stroke="#7f68c8" stroke-width="0.4"/>
<circle cx="184.5" cy="115" r="1.8" fill="#a08ce0" stroke="#7f68c8" stroke-width="0.4"/>
<text x="175.00" y="121.50" font-size="4.3" fill="#222" text-anchor="start" font-weight="normal" font-style="normal"  stroke="#222" stroke-width="0.077">NO produce</text>
<path d="M175.8 106 Q182 107 184 111" stroke="#333" stroke-width="0.45" fill="none"/><path d="M182.9 110.6 L184.6 112.4 L185 110.1 Z" fill="#222"/>
<path d="M150.4 108 Q157 116 157 125" stroke="#444" stroke-width="0.4" fill="none"/>
<path d="M146 114 Q150 119 149 124" stroke="#444" stroke-width="0.4" fill="none"/>
<path d="M121 104 Q128 105 140 103" stroke="#444" stroke-width="0.35" fill="none"/>
<text x="125.2" y="139.5" font-size="4.3" fill="#222" stroke="#222" stroke-width="0.077">· OH<tspan font-size="2.6" dy="-1.4">−</tspan></text>
<path d="M110.6 129.3 Q115 136 122.5 137.3" stroke="#333" stroke-width="0.4" fill="none"/>
<path d="M136 136 Q140 133 143.5 131.5" stroke="#333" stroke-width="0.4" fill="none"/>
<rect x="143.3" y="128.4" width="14.5" height="6.4" rx="1.6" fill="#fff" stroke="#e86060" stroke-width="0.6"/>
<text x="150.55" y="133.20" font-size="4.2" fill="#e02830" text-anchor="middle" font-weight="bold" font-style="normal"  stroke="#e02830" stroke-width="0.076">ROS</text>
<path d="M151.8 142.4 V137.5" stroke="#7a2a2a" stroke-width="0.7"/>
<path d="M150.8 138.3 L151.8 136.6 L152.8 138.3 Z" fill="#7a2a2a"/>
<circle cx="151.3" cy="147.3" r="3.7" fill="#c99ad8"/>
<path d="M152.4 145.6 Q150.2 145 150.6 146.8 Q152.5 147.5 151.8 149 Q150.5 149.6 150 148.6" stroke="#8a4fb0" stroke-width="0.9" fill="none"/>
<text x="139.30" y="154.50" font-size="4.3" fill="#222" text-anchor="middle" font-weight="normal" font-style="normal"  stroke="#222" stroke-width="0.077">Defective</text>
<text x="140.00" y="159.60" font-size="4.3" fill="#222" text-anchor="middle" font-weight="normal" font-style="normal"  stroke="#222" stroke-width="0.077">Neutrophil</text>
<text x="177.50" y="153.00" font-size="4.5" fill="#7a1c1c" text-anchor="middle" font-weight="normal" font-style="normal"  stroke="#7a1c1c" stroke-width="0.081">Chronic</text>
<text x="179.60" y="158.60" font-size="4.5" fill="#7a1c1c" text-anchor="middle" font-weight="normal" font-style="normal"  stroke="#7a1c1c" stroke-width="0.081">inflammation</text>
<text x="211.20" y="133.00" font-size="4.2" fill="#222" text-anchor="end" font-weight="normal" font-style="normal"  stroke="#222" stroke-width="0.076">IL-1β ↑</text>
<text x="211.20" y="138.65" font-size="4.2" fill="#222" text-anchor="end" font-weight="normal" font-style="normal"  stroke="#222" stroke-width="0.076">IL-8 ↑</text>
<text x="211.20" y="144.30" font-size="4.2" fill="#222" text-anchor="end" font-weight="normal" font-style="normal"  stroke="#222" stroke-width="0.076">IL-6 ↑</text>
<text x="211.20" y="149.95" font-size="4.2" fill="#222" text-anchor="end" font-weight="normal" font-style="normal"  stroke="#222" stroke-width="0.076">CXCL-1 ↑</text>
<text x="211.20" y="155.60" font-size="4.2" fill="#222" text-anchor="end" font-weight="normal" font-style="normal"  stroke="#222" stroke-width="0.076">TNF-α ↑</text>
<path d="M161.5 155.3 l-3 -2" stroke="#333" stroke-width="0.45"/><path d="M157.4 152.6 l1.8 0 l-0.9 1.4 Z" fill="#333"/>
<path d="M186.2 145.8 l4.2 -2.6" stroke="#333" stroke-width="0.45"/><path d="M191.4 142.6 l-1.8 -0.1 l0.8 1.5 Z" fill="#333"/>
<path d="M177 163 l0 -3" stroke="#333" stroke-width="0.4"/>
<path d="M103.4 133.3 V138" stroke="#c03030" stroke-width="0.7"/>
<path d="M102.3 137.2 L103.4 139 L104.5 137.2 Z" fill="#c03030"/>
<text x="102.30" y="144.10" font-size="4.5" fill="#a8282a" text-anchor="middle" font-weight="normal" font-style="normal"  stroke="#a8282a" stroke-width="0.081">Anti-oxidation</text>
<text x="102.30" y="149.65" font-size="4.5" fill="#a8282a" text-anchor="middle" font-weight="normal" font-style="normal"  stroke="#a8282a" stroke-width="0.081">Anti-inflammation</text>
<text x="102.30" y="155.20" font-size="4.5" fill="#a8282a" text-anchor="middle" font-weight="normal" font-style="normal"  stroke="#a8282a" stroke-width="0.081">Anti-infection</text>
<text x="102.30" y="160.75" font-size="4.5" fill="#a8282a" text-anchor="middle" font-weight="normal" font-style="normal"  stroke="#a8282a" stroke-width="0.081">Regeneration</text>
<path d="M28.6 126.5 H83.5 L78.9 133 V159.2 H28.6 Z" fill="#fdf6f6" stroke="#7b98c8" stroke-width="0.9"/>
<path d="M51.5 127.9 H78.3 V148 C68 145 58 138 51.5 127.9 Z" fill="#c9cacd"/>
<path d="M52.0 130.0 H78.3" stroke="#dcdcde" stroke-width="0.5"/>
<path d="M56.5 133.6 H78.3" stroke="#dcdcde" stroke-width="0.5"/>
<path d="M61.0 137.2 H78.3" stroke="#dcdcde" stroke-width="0.5"/>
<path d="M65.5 140.8 H78.3" stroke="#dcdcde" stroke-width="0.5"/>
<path d="M70.0 144.4 H78.3" stroke="#dcdcde" stroke-width="0.5"/>
<text x="29.9" y="137.4" font-size="4.2" fill="#333" stroke="#333" stroke-width="0.076">MRSA</text>
<circle cx="38.2" cy="141.2" r="1.9" fill="#f2c232"/>
<circle cx="40.6" cy="143.2" r="1.9" fill="#e9b624"/>
<path d="M42.3 139.6 Q50 141 47.5 154" stroke="#333" stroke-width="0.55" fill="none"/>
<circle cx="47.5" cy="154" r="0.7" fill="#222"/>
<circle cx="38" cy="151" r="0.5" fill="#d8a020"/>
<circle cx="40.5" cy="150" r="0.5" fill="#d8a020"/>
<circle cx="43" cy="152" r="0.5" fill="#d8a020"/>
<circle cx="37.5" cy="154" r="0.5" fill="#d8a020"/>
<circle cx="40" cy="155.5" r="0.5" fill="#d8a020"/>
<circle cx="43" cy="156.5" r="0.5" fill="#d8a020"/>
<circle cx="45" cy="154" r="0.5" fill="#d8a020"/>
<circle cx="39" cy="157.5" r="0.5" fill="#d8a020"/>
<circle cx="41" cy="153" r="0.5" fill="#d8a020"/>
<path d="M58.0 142.0 L57.3 139.9 L54.7 139.6 L54.7 136.9 L52.0 136.6 L52.0 133.9 L50.0 133.0 M58.0 142.0 L56.8 140.1 L54.2 140.4 L53.0 138.5 M58.0 142.0 L60.0 141.3 L60.0 138.7 L62.6 138.6 L62.7 136.0 L65.3 136.0 L66.0 134.0 M58.0 142.0 L60.0 142.6 L61.6 140.4 L63.8 141.9 L65.4 139.8 L67.6 141.2 L69.2 139.1 L71.4 140.6 L73.0 138.4 L75.0 139.0 M58.0 142.0 L59.7 143.6 L62.3 142.8 L63.7 145.2 L66.3 144.4 L68.0 146.0 M62.0 144.0 L61.6 146.2 L63.9 147.8 L62.6 150.2 L64.0 152.0 M58.0 142.0 L56.0 142.3 L55.5 144.7 L53.0 144.3 L52.0 146.0 M60.0 143.0 L58.6 144.8 L59.9 147.2 L57.6 148.8 L58.0 151.0 " stroke="#f07c28" stroke-width="0.7" fill="none" stroke-linejoin="round"/>
<text transform="translate(43.6,131) rotate(35)" font-size="3.4" fill="#3565b0" font-weight="bold" stroke="#3565b0" stroke-width="0.061">H₂N</text>
<text transform="translate(48,137.5) rotate(35)" font-size="3.4" fill="#3565b0" font-weight="bold" stroke="#3565b0" stroke-width="0.061">H₂N</text>
<text transform="translate(43.8,146.3) rotate(30)" font-size="3.4" fill="#3565b0" font-weight="bold" stroke="#3565b0" stroke-width="0.061">H₂N</text>
<text transform="translate(55.4,149) rotate(30)" font-size="3.4" fill="#3565b0" font-weight="bold" stroke="#3565b0" stroke-width="0.061">H₂N</text>
<text transform="translate(62,151) rotate(40)" font-size="3.4" fill="#3565b0" font-weight="bold" stroke="#3565b0" stroke-width="0.061">NH₂</text>
<path d="M46.2 46.5 L45.4 44.4 L42.7 44.1 L42.5 41.4 L39.8 41.1 L39.6 38.4 L37.5 37.5 M46.2 46.5 L47.3 44.8 L45.6 42.8 L47.6 41.2 L45.9 39.2 L47.0 37.5 M44.0 40.5 L41.9 41.4 L41.0 43.5 M46.2 46.5 L48.4 46.9 L49.9 44.6 L52.3 45.9 L53.8 43.6 L56.0 44.0 M46.2 46.5 L44.2 46.7 L43.6 49.3 L41.1 48.7 L40.0 50.5 M46.2 46.5 L45.9 48.9 L48.3 50.6 L48.0 53.0 M50.0 49.0 L51.9 50.1 L54.1 48.6 L55.9 50.6 L58.1 49.1 L59.9 51.1 L62.0 50.5 M52.0 47.0 L51.9 49.3 L54.3 50.7 L53.4 53.3 L55.0 55.0 " stroke="#f0943c" stroke-width="0.7" fill="none" stroke-linejoin="round"/>
<text transform="translate(32,35) rotate(35)" font-size="3.4" fill="#3565b0" font-weight="bold" stroke="#3565b0" stroke-width="0.061">H₂N</text>
<text transform="translate(46,35) rotate(35)" font-size="3.4" fill="#3565b0" font-weight="bold" stroke="#3565b0" stroke-width="0.061">NH₂</text>
<text transform="translate(35.8,41.5) rotate(35)" font-size="3.4" fill="#3565b0" font-weight="bold" stroke="#3565b0" stroke-width="0.061">H₂N</text>
<text transform="translate(55.5,43.3) rotate(30)" font-size="3.4" fill="#3565b0" font-weight="bold" stroke="#3565b0" stroke-width="0.061">NH₂</text>
<text transform="translate(33,49.6) rotate(25)" font-size="3.4" fill="#3565b0" font-weight="bold" stroke="#3565b0" stroke-width="0.061">H₂N</text>
<text transform="translate(62.3,50.5) rotate(45)" font-size="3.4" fill="#3565b0" font-weight="bold" stroke="#3565b0" stroke-width="0.061">NH₂</text>
<text transform="translate(44.5,53.3) rotate(30)" font-size="3.4" fill="#3565b0" font-weight="bold" stroke="#3565b0" stroke-width="0.061">H₂N</text>
<text transform="translate(52.2,55) rotate(40)" font-size="3.4" fill="#3565b0" font-weight="bold" stroke="#3565b0" stroke-width="0.061">NH₂</text>
<text x="56.00" y="33.50" font-size="3.7" fill="#d0409e" text-anchor="start" font-weight="normal" font-style="normal"  stroke="#d0409e" stroke-width="0.067">HBPL</text>
<path d="M22 70 L33 60.3 L67.3 61.5 L62.8 72.3 Z" fill="#8499a7"/>
<path d="M23.0 69.3 Q45 66.0 63.5 71.5" stroke="#a3b4bf" stroke-width="0.45" fill="none"/>
<path d="M24.8 67.7 Q45 64.4 64.1 69.8" stroke="#a3b4bf" stroke-width="0.45" fill="none"/>
<path d="M26.6 66.1 Q45 62.8 64.7 68.1" stroke="#a3b4bf" stroke-width="0.45" fill="none"/>
<path d="M28.4 64.5 Q45 61.2 65.3 66.4" stroke="#a3b4bf" stroke-width="0.45" fill="none"/>
<path d="M30.2 62.9 Q45 59.6 65.9 64.7" stroke="#a3b4bf" stroke-width="0.45" fill="none"/>
<path d="M32.0 61.3 Q45 58.0 66.5 63.0" stroke="#a3b4bf" stroke-width="0.45" fill="none"/>
<circle cx="42" cy="63.7" r="1.15" fill="#e8504a"/>
<circle cx="50.3" cy="64.9" r="1.15" fill="#e8504a"/>
<circle cx="59.7" cy="63.7" r="1.15" fill="#e8504a"/>
<circle cx="42" cy="70" r="1.15" fill="#e8504a"/>
<circle cx="55.6" cy="71" r="1.15" fill="#e8504a"/>
<text x="28.6" y="81.6" font-size="4.4" fill="#c42c84" stroke="#c42c84" stroke-width="0.079">MnO<tspan font-size="2.8" dy="0.9">2</tspan><tspan dy="-0.9"> nanosheet</tspan></text>
<path d="M67 45 Q74 50 71 59" stroke="#222" stroke-width="0.55" fill="none"/>
<path d="M69.6 57.8 L71 60.2 L72.2 57.6 Z" fill="#222"/>
<path d="M72 67.6 L78.5 66.3" stroke="#222" stroke-width="0.55"/>
<path d="M77.8 65.3 L80.2 66 L78.2 67.3 Z" fill="#222"/>
<path d="M80.6 60 L89 51 L123.8 50.2 L118.5 59.5 Z" fill="#8499a7"/>
<path d="M81.5 59.3 Q100 57.0 119.0 58.8" stroke="#a3b4bf" stroke-width="0.45" fill="none"/>
<path d="M83.1 57.6 Q100 55.3 119.9 57.0" stroke="#a3b4bf" stroke-width="0.45" fill="none"/>
<path d="M84.7 55.9 Q100 53.6 120.8 55.2" stroke="#a3b4bf" stroke-width="0.45" fill="none"/>
<path d="M86.3 54.2 Q100 51.9 121.7 53.4" stroke="#a3b4bf" stroke-width="0.45" fill="none"/>
<path d="M87.9 52.5 Q100 50.2 122.6 51.6" stroke="#a3b4bf" stroke-width="0.45" fill="none"/>
<path d="M105.0 47.0 L104.5 44.9 L101.9 44.3 L102.1 41.7 L99.5 41.1 L99.0 39.0 M105.0 47.0 L106.5 45.4 L105.3 42.9 L107.7 41.6 L106.5 39.1 L108.0 37.5 M103.0 44.0 L102.9 42.9 L102.0 43.5 M105.0 47.0 L107.1 47.4 L108.4 45.1 L110.7 46.4 L112.1 44.1 L114.4 45.4 L116.0 44.0 M110.0 46.0 L111.7 47.2 L113.9 45.8 L115.4 48.0 L117.6 46.5 L119.1 48.7 L121.3 47.3 L123.0 48.5 M102.0 49.0 L99.9 49.2 L99.1 51.8 L97.0 52.0 M106.0 50.0 L105.6 52.2 L107.0 54.0 M100.0 55.0 L97.9 55.0 L97.1 57.5 L94.6 56.7 L93.7 59.1 L91.3 58.4 L90.0 60.0 M104.0 60.0 L102.8 62.2 L104.2 64.8 L103.0 67.0 M104.0 62.0 L101.9 62.7 L101.6 65.3 L98.9 65.3 L98.6 68.0 L95.9 68.0 L95.0 70.0 M106.0 62.0 L105.6 64.7 L107.0 67.0 " stroke="#f0943c" stroke-width="0.7" fill="none" stroke-linejoin="round"/>
<text transform="translate(93,36) rotate(30)" font-size="3.4" fill="#3565b0" font-weight="bold" stroke="#3565b0" stroke-width="0.061">H₂N</text>
<text transform="translate(106.6,34.7) rotate(35)" font-size="3.4" fill="#3565b0" font-weight="bold" stroke="#3565b0" stroke-width="0.061">NH₂</text>
<text transform="translate(96.3,42.3) rotate(35)" font-size="3.4" fill="#3565b0" font-weight="bold" stroke="#3565b0" stroke-width="0.061">H₂N</text>
<text transform="translate(115.5,43.6) rotate(35)" font-size="3.4" fill="#3565b0" font-weight="bold" stroke="#3565b0" stroke-width="0.061">NH₂</text>
<text transform="translate(86,68.5) rotate(20)" font-size="3.4" fill="#3565b0" font-weight="bold" stroke="#3565b0" stroke-width="0.061">H₂N</text>
<text transform="translate(94.5,71.3) rotate(40)" font-size="3.4" fill="#3565b0" font-weight="bold" stroke="#3565b0" stroke-width="0.061">NH₂</text>
<text transform="translate(105.5,66.5) rotate(45)" font-size="3.4" fill="#3565b0" font-weight="bold" stroke="#3565b0" stroke-width="0.061">NH₂</text>
<text x="95.00" y="53.00" font-size="2.9" fill="#e04040" text-anchor="start" font-weight="bold" font-style="normal"  stroke="#e04040" stroke-width="0.052">O-O</text>
<text x="105.90" y="54.30" font-size="2.9" fill="#e04040" text-anchor="start" font-weight="bold" font-style="normal"  stroke="#e04040" stroke-width="0.052">O-O</text>
<text x="97.70" y="59.00" font-size="2.9" fill="#e04040" text-anchor="start" font-weight="bold" font-style="normal"  stroke="#e04040" stroke-width="0.052">O-O</text>
<path d="M129.1 36.5 h2.8 M130.5 35.1 v2.8" stroke="#222" stroke-width="0.65"/>
<path d="M137.6 32.9 Q138.016 35.084 140.2 35.5 Q138.016 35.916 137.6 38.1 Q137.184 35.916 135.0 35.5 Q137.184 35.084 137.6 32.9 Z" fill="#2f5db5"/>
<path d="M129.1 57.6 h2.8 M130.5 56.2 v2.8" stroke="#222" stroke-width="0.65"/>
<path d="M145.6 40.3 L144 46 L148 51 L145 56 L146 62 L144.5 66 L146 69" stroke="#5abcb4" stroke-width="0.8" fill="none"/>
<path d="M144 46 L137 47 M148 51 L153 53 M145 56 L137 59 M146 62 L150 66" stroke="#555" stroke-width="0.5" fill="none"/>
<path d="M134.6 44.1 H138.6 L136.6 47.6 Z" fill="none" stroke="#e04040" stroke-width="0.7"/>
<circle cx="136.6" cy="49.1" r="0.9" fill="none" stroke="#555" stroke-width="0.4"/>
<path d="M152.3 50.5 H156.3 L154.3 54.0 Z" fill="none" stroke="#e04040" stroke-width="0.7"/>
<circle cx="154.3" cy="55.5" r="0.9" fill="none" stroke="#555" stroke-width="0.4"/>
<path d="M134.6 56.9 H138.6 L136.6 60.4 Z" fill="none" stroke="#e04040" stroke-width="0.7"/>
<circle cx="136.6" cy="61.9" r="0.9" fill="none" stroke="#555" stroke-width="0.4"/>
<path d="M148.7 65.2 H152.7 L150.7 68.7 Z" fill="none" stroke="#e04040" stroke-width="0.7"/>
<circle cx="150.7" cy="70.2" r="0.9" fill="none" stroke="#555" stroke-width="0.4"/>
<text x="155.50" y="67.60" font-size="3.9" fill="#d0409e" text-anchor="start" font-weight="normal" font-style="normal"  stroke="#d0409e" stroke-width="0.070">PPGA</text>
<path d="M147.5 38.4 L151.3 34.2" stroke="#222" stroke-width="0.6"/>
<path d="M150.3 33.8 L152.2 33.2 L151.5 35.2 Z" fill="#222"/>
<path d="M159 11 l3.2 -3.4 l3.2 3.4 l3.2 -3.4 l3.2 3.4 l3.2 -3.4 l3.2 3.4 l3.2 -3.4 l3.2 3.4 l3.2 -3.4 l2 2.4 M162.2 7.6 l1 -3.6 M171.8 7.6 l1 -3.6 M184.6 7.6 l1.4 -3.2 M160 5.5 l-1.6 6.5 M190.5 5.5 l1.2 6.5 M157.5 8.5 l2 0 M189 8.5 l2.5 0" stroke="#111" stroke-width="0.95" fill="none"/>
<path d="M165.4 11 L164.6 14.5 M174.9 11 L174 14.5 M185 11 L185.6 14.5 M162.5 17.5 L161.2 21.5 L162.8 25 L161 28.5 L162.6 32 L160.8 35.5 L162.4 39 L160.6 42.5 L162.2 46 M172.3 17.5 L171 21.5 L172.6 25 L170.6 28.5 M185 18.5 L183 20.5" stroke="#111" stroke-width="0.85" fill="none"/>
<circle cx="162.6" cy="15.6" r="1.15" fill="none" stroke="#111" stroke-width="0.6"/>
<circle cx="172.3" cy="15.6" r="1.15" fill="none" stroke="#111" stroke-width="0.6"/>
<circle cx="186.7" cy="15.6" r="1.15" fill="none" stroke="#111" stroke-width="0.6"/>
<circle cx="167.4" cy="15.6" r="1.15" fill="none" stroke="#111" stroke-width="0.6"/>
<path d="M164.1 15.1 h2 M164.1 16.0 h2" stroke="#111" stroke-width="0.4"/>
<circle cx="177.0" cy="15.6" r="1.15" fill="none" stroke="#111" stroke-width="0.6"/>
<path d="M173.7 15.1 h2 M173.7 16.0 h2" stroke="#111" stroke-width="0.4"/>
<circle cx="190.5" cy="15.6" r="1.15" fill="none" stroke="#111" stroke-width="0.6"/>
<path d="M187.2 15.1 h2 M187.2 16.0 h2" stroke="#111" stroke-width="0.4"/>
<text x="178.2" y="22.6" font-size="3.6" fill="#111" font-weight="bold" stroke="#111" stroke-width="0.065">H<tspan font-size="2.2" dy="0.8">2</tspan><tspan dy="-0.8">N</tspan></text>
<path d="M169 29 L172.2 29 L170.6 31.4 Z" fill="none" stroke="#111" stroke-width="0.55"/>
<circle cx="170.6" cy="33.2" r="1" fill="none" stroke="#111" stroke-width="0.5"/>
<circle cx="161.8" cy="21.5" r="0.95" fill="#fff" stroke="#111" stroke-width="0.5"/>
<circle cx="161.8" cy="30" r="0.95" fill="#fff" stroke="#111" stroke-width="0.5"/>
<circle cx="161.8" cy="39" r="0.95" fill="#fff" stroke="#111" stroke-width="0.5"/>
<text x="194.70" y="14.70" font-size="4.35" fill="#7a3ec8" text-anchor="start" font-weight="bold" font-style="normal"  stroke="#7a3ec8" stroke-width="0.078">PEGMA-GMA-AAm</text>
<text x="194.70" y="19.90" font-size="4.35" fill="#7a3ec8" text-anchor="start" font-weight="bold" font-style="normal"  stroke="#7a3ec8" stroke-width="0.078">copolymer</text>
<line x1="158.00" y1="49.30" x2="202.50" y2="49.30" stroke="#333" stroke-width="0.8" />
<path d="M202 47.7 L205 49.3 L202 50.9 Z" fill="#333"/>
<rect x="210.30" y="28.90" width="56.40" height="55.80" fill="#ffffff" stroke="#c2cbe6" stroke-width="0.9"/>
<path d="M213 41 q3 -1.6 6 0 t6 0 t6 0 t6 0 t6 0 t6 0 t6 0 t6 0 t6 0" stroke="#62c0b8" stroke-width="0.6" fill="none"/>
<path d="M213 48 q3 -1.6 6 0 t6 0 t6 0 t6 0 t6 0 t6 0 t6 0 t6 0 t6 0" stroke="#62c0b8" stroke-width="0.6" fill="none"/>
<path d="M213 55 q3 -1.6 6 0 t6 0 t6 0 t6 0 t6 0 t6 0 t6 0 t6 0 t6 0" stroke="#62c0b8" stroke-width="0.6" fill="none"/>
<path d="M213 62 q3 -1.6 6 0 t6 0 t6 0 t6 0 t6 0 t6 0 t6 0 t6 0 t6 0" stroke="#62c0b8" stroke-width="0.6" fill="none"/>
<path d="M213 69 q3 -1.6 6 0 t6 0 t6 0 t6 0 t6 0 t6 0 t6 0 t6 0 t6 0" stroke="#62c0b8" stroke-width="0.6" fill="none"/>
<path d="M213 77 q3 -1.6 6 0 t6 0 t6 0 t6 0 t6 0 t6 0 t6 0 t6 0 t6 0" stroke="#62c0b8" stroke-width="0.6" fill="none"/>
<path d="M225.5 31 q1.6 4.5 0 9 t0 9 t0 9 t0 9 t0 9 t0 6" stroke="#f2a060" stroke-width="0.55" fill="none"/>
<path d="M237 31 q1.6 4.5 0 9 t0 9 t0 9 t0 9 t0 9 t0 6" stroke="#f2a060" stroke-width="0.55" fill="none"/>
<path d="M249.5 31 q1.6 4.5 0 9 t0 9 t0 9 t0 9 t0 9 t0 6" stroke="#f2a060" stroke-width="0.55" fill="none"/>
<path d="M230 33 q2 -2 4 0 t4 0 M256 36 l3 3 M258 70 l3 3 l2 -1" stroke="#f2a060" stroke-width="0.55" fill="none"/>
<path d="M224 44 L245 43 L242 51 L218 51.5 Z" fill="#72889a"/>
<path d="M225 45.5 L243 44.5 M224 48 L242 47" stroke="#93a6b4" stroke-width="0.5"/>
<path d="M243 51.7 L264.2 52.5 L261 60.2 L239.5 60 Z" fill="#72889a"/>
<path d="M244 53.2 L262.2 54.0 M243 55.7 L261.2 56.5" stroke="#93a6b4" stroke-width="0.5"/>
<path d="M218.5 65.3 L239.5 64.5 L236.5 72.1 L214.8 72.6 Z" fill="#72889a"/>
<path d="M219.5 66.8 L237.5 66.0 M218.5 69.3 L236.5 68.5" stroke="#93a6b4" stroke-width="0.5"/>
<circle cx="225" cy="40.3" r="1.35" fill="#ee2e34"/>
<circle cx="236.6" cy="41.5" r="1.35" fill="#ee2e34"/>
<circle cx="249.7" cy="43.2" r="1.35" fill="#ee2e34"/>
<circle cx="226.7" cy="49.1" r="1.35" fill="#ee2e34"/>
<circle cx="236.1" cy="52.9" r="1.35" fill="#ee2e34"/>
<circle cx="248.9" cy="53.9" r="1.35" fill="#ee2e34"/>
<circle cx="226.7" cy="62.4" r="1.35" fill="#ee2e34"/>
<circle cx="237" cy="64.1" r="1.35" fill="#ee2e34"/>
<circle cx="249.7" cy="65.3" r="1.35" fill="#ee2e34"/>
<circle cx="225" cy="76.4" r="1.35" fill="#ee2e34"/>
<circle cx="237" cy="78.1" r="1.35" fill="#ee2e34"/>
<circle cx="249.7" cy="76.4" r="1.35" fill="#ee2e34"/>
<path d="M216.5 46.9 Q216.916 49.084 219.1 49.5 Q216.916 49.916 216.5 52.1 Q216.084 49.916 213.9 49.5 Q216.084 49.084 216.5 46.9 Z" fill="#2f5db5"/>
<path d="M246.3 44.0 Q246.716 46.184000000000005 248.9 46.6 Q246.716 47.016 246.3 49.2 Q245.88400000000001 47.016 243.70000000000002 46.6 Q245.88400000000001 46.184000000000005 246.3 44.0 Z" fill="#2f5db5"/>
<path d="M233.2 57.6 Q233.61599999999999 59.784000000000006 235.79999999999998 60.2 Q233.61599999999999 60.616 233.2 62.800000000000004 Q232.784 60.616 230.6 60.2 Q232.784 59.784000000000006 233.2 57.6 Z" fill="#2f5db5"/>
<text x="242.00" y="38.50" font-size="2.6" fill="#3b68b0" text-anchor="start" font-weight="normal" font-style="normal"  stroke="#3b68b0" stroke-width="0.047">NH₂</text>
<text x="255.00" y="45.50" font-size="2.6" fill="#3b68b0" text-anchor="start" font-weight="normal" font-style="normal"  stroke="#3b68b0" stroke-width="0.047">NH₂</text>
<text x="219.00" y="59.00" font-size="2.6" fill="#3b68b0" text-anchor="start" font-weight="normal" font-style="normal"  stroke="#3b68b0" stroke-width="0.047">NH₂</text>
<text x="242.00" y="55.00" font-size="2.6" fill="#3b68b0" text-anchor="start" font-weight="normal" font-style="normal"  stroke="#3b68b0" stroke-width="0.047">NH₂</text>
<text x="256.00" y="68.00" font-size="2.6" fill="#3b68b0" text-anchor="start" font-weight="normal" font-style="normal"  stroke="#3b68b0" stroke-width="0.047">NH₂</text>
<text x="254.00" y="73.50" font-size="2.6" fill="#3b68b0" text-anchor="start" font-weight="normal" font-style="normal"  stroke="#3b68b0" stroke-width="0.047">NH₂</text>
<text x="258.00" y="77.50" font-size="2.6" fill="#3b68b0" text-anchor="start" font-weight="normal" font-style="normal"  stroke="#3b68b0" stroke-width="0.047">NH₂</text>
<g transform="translate(126,89.4) rotate(-46)"><rect x="0" y="-1.8" width="14.5" height="3.6" fill="#f4f4f4" stroke="#555" stroke-width="0.5"/><rect x="0.2" y="-1.5" width="6" height="3.0" fill="#e2a82a"/><line x1="14.5" y1="0" x2="18.5" y2="0" stroke="#444" stroke-width="0.8"/><line x1="18.5" y1="-2.7" x2="18.5" y2="2.7" stroke="#444" stroke-width="1.1"/><line x1="0" y1="0" x2="-14" y2="0" stroke="#666" stroke-width="0.45"/><line x1="12.5" y1="-2.6" x2="12.5" y2="2.6" stroke="#555" stroke-width="0.6"/></g>
<path d="M221.8 92.7 Q222.216 94.884 224.4 95.3 Q222.216 95.716 221.8 97.89999999999999 Q221.38400000000001 95.716 219.20000000000002 95.3 Q221.38400000000001 94.884 221.8 92.7 Z" fill="#2f5db5"/>
<text x="231.00" y="94.80" font-size="4.3" fill="#222" text-anchor="start" font-weight="normal" font-style="normal"  stroke="#222" stroke-width="0.077">Pravastatin</text>
<text x="234.00" y="99.60" font-size="4.3" fill="#222" text-anchor="start" font-weight="normal" font-style="normal"  stroke="#222" stroke-width="0.077">sodium</text>
<circle cx="220.8" cy="109.8" r="2.0" fill="#f2c232"/>
<circle cx="223.2" cy="111.8" r="2.0" fill="#e9b624"/>
<circle cx="253.4" cy="110.8" r="0.5" fill="#d8a020"/>
<circle cx="252.8" cy="112.7" r="0.5" fill="#d8a020"/>
<circle cx="251.2" cy="113.8" r="0.5" fill="#d8a020"/>
<circle cx="249.2" cy="113.8" r="0.5" fill="#d8a020"/>
<circle cx="247.6" cy="112.7" r="0.5" fill="#d8a020"/>
<circle cx="247.0" cy="110.8" r="0.5" fill="#d8a020"/>
<circle cx="247.6" cy="108.9" r="0.5" fill="#d8a020"/>
<circle cx="249.2" cy="107.8" r="0.5" fill="#d8a020"/>
<circle cx="251.2" cy="107.8" r="0.5" fill="#d8a020"/>
<circle cx="252.8" cy="108.9" r="0.5" fill="#d8a020"/>
<circle cx="250.2" cy="110.8" r="1.4" fill="none" stroke="#d8a020" stroke-width="0.5"/>
<text x="220.50" y="121.40" font-size="4.3" fill="#222" text-anchor="start" font-weight="normal" font-style="normal"  stroke="#222" stroke-width="0.077">MRSA</text>
<text x="238.60" y="121.40" font-size="4.3" fill="#222" text-anchor="start" font-weight="normal" font-style="normal"  stroke="#222" stroke-width="0.077">Dead MRSA</text>
<circle cx="226.2" cy="129.4" r="1.9" fill="#70c2e2" stroke="#3f9ccb" stroke-width="0.4"/>
<circle cx="252.8" cy="128.9" r="1.6" fill="#a08ce0" stroke="#7f68c8" stroke-width="0.4"/>
<text x="227.50" y="137.60" font-size="4.3" fill="#222" text-anchor="middle" font-weight="normal" font-style="normal"  stroke="#222" stroke-width="0.077">Oxygen</text>
<text x="227.5" y="142.4" font-size="4.3" fill="#222" text-anchor="middle" stroke="#222" stroke-width="0.077">(O<tspan font-size="2.6" dy="0.8">2</tspan><tspan dy="-0.8">)</tspan></text>
<text x="254.00" y="137.60" font-size="4.3" fill="#222" text-anchor="middle" font-weight="normal" font-style="normal"  stroke="#222" stroke-width="0.077">Nitric oxide</text>
<text x="254.00" y="142.40" font-size="4.3" fill="#222" text-anchor="middle" font-weight="normal" font-style="normal"  stroke="#222" stroke-width="0.077">(NO)</text>
<ellipse cx="238.6" cy="153.5" rx="10.5" ry="7.5" fill="url(#leg)"/>
<text x="241.80" y="168.60" font-size="4.3" fill="#222" text-anchor="middle" font-weight="normal" font-style="normal"  stroke="#222" stroke-width="0.077">Inflammation</text>
<text x="5.50" y="16.00" font-size="12.5" fill="#000" text-anchor="start" font-weight="bold" font-style="normal"  stroke="#000" stroke-width="0.375">a</text>
<text x="271.30" y="15.80" font-size="12.5" fill="#000" text-anchor="start" font-weight="bold" font-style="normal"  stroke="#000" stroke-width="0.375">d</text>
<text x="414.80" y="16.00" font-size="12.5" fill="#000" text-anchor="start" font-weight="bold" font-style="normal"  stroke="#000" stroke-width="0.375">e</text>
<text x="7.50" y="195.50" font-size="12.5" fill="#000" text-anchor="start" font-weight="bold" font-style="normal"  stroke="#000" stroke-width="0.375">b</text>
<text x="164.70" y="195.50" font-size="12.5" fill="#000" text-anchor="start" font-weight="bold" font-style="normal"  stroke="#000" stroke-width="0.375">c</text>
<text x="407.00" y="195.00" font-size="12.5" fill="#000" text-anchor="start" font-weight="bold" font-style="normal"  stroke="#000" stroke-width="0.375">f</text>
<line x1="19.2" y1="183" x2="542.9" y2="183" stroke="#6e6e6e" stroke-width="1.5" stroke-dasharray="6.0 4.73" stroke-dashoffset="2.88"/>
<line x1="19.2" y1="347.2" x2="542.9" y2="347.2" stroke="#6e6e6e" stroke-width="1.5" stroke-dasharray="6.0 4.73" stroke-dashoffset="1.40"/>
<line x1="19.2" y1="347.2" x2="19.2" y2="183" stroke="#6e6e6e" stroke-width="1.5" stroke-dasharray="6.0 4.73" stroke-dashoffset="0.40"/>
<line x1="415.7" y1="183" x2="415.7" y2="347.2" stroke="#6e6e6e" stroke-width="1.5" stroke-dasharray="6.0 4.73" stroke-dashoffset="3.93"/>
<line x1="542.9" y1="183" x2="542.9" y2="347.2" stroke="#6e6e6e" stroke-width="1.5" stroke-dasharray="6.0 4.73" stroke-dashoffset="1.93"/>
<defs><linearGradient id="cbar" x1="0" x2="1" y1="0" y2="0"><stop offset="0" stop-color="#72b2ec"/><stop offset="0.2" stop-color="#9cc4d8"/><stop offset="0.42" stop-color="#bccca8"/><stop offset="0.6" stop-color="#e2d384"/><stop offset="0.7" stop-color="#f5d860"/><stop offset="0.85" stop-color="#f59040"/><stop offset="1" stop-color="#e82a20"/></linearGradient><radialGradient id="infl" cx="0.5" cy="0.5" r="0.5"><stop offset="0" stop-color="#f03a3a"/><stop offset="0.45" stop-color="#f46464" stop-opacity="0.85"/><stop offset="1" stop-color="#f9c8c8" stop-opacity="0"/></radialGradient><radialGradient id="infl2" cx="0.5" cy="0.5" r="0.5"><stop offset="0" stop-color="#f25050"/><stop offset="0.6" stop-color="#f79090" stop-opacity="0.7"/><stop offset="1" stop-color="#fde0e0" stop-opacity="0"/></radialGradient></defs>
<rect x="304.80" y="21.80" width="13.93" height="9.85" fill="#f5823a" />
<rect x="318.43" y="21.80" width="13.93" height="9.85" fill="#f5d86a" />
<rect x="332.06" y="21.80" width="13.93" height="9.85" fill="#d8cf8a" />
<rect x="345.69" y="21.80" width="13.93" height="9.85" fill="#80b8e0" />
<rect x="359.32" y="21.80" width="13.93" height="9.85" fill="#98c4d0" />
<rect x="372.95" y="21.80" width="13.93" height="9.85" fill="#b0ccb0" />
<rect x="304.80" y="31.35" width="13.93" height="9.85" fill="#f5823a" />
<rect x="318.43" y="31.35" width="13.93" height="9.85" fill="#f5b050" />
<rect x="332.06" y="31.35" width="13.93" height="9.85" fill="#b0c8b8" />
<rect x="345.69" y="31.35" width="13.93" height="9.85" fill="#90c0d8" />
<rect x="359.32" y="31.35" width="13.93" height="9.85" fill="#98c4d0" />
<rect x="372.95" y="31.35" width="13.93" height="9.85" fill="#a8c8c0" />
<rect x="304.80" y="40.90" width="13.93" height="9.85" fill="#e0d080" />
<rect x="318.43" y="40.90" width="13.93" height="9.85" fill="#f03020" />
<rect x="332.06" y="40.90" width="13.93" height="9.85" fill="#b0c8b8" />
<rect x="345.69" y="40.90" width="13.93" height="9.85" fill="#90c0d8" />
<rect x="359.32" y="40.90" width="13.93" height="9.85" fill="#a0c8c8" />
<rect x="372.95" y="40.90" width="13.93" height="9.85" fill="#c0d0a8" />
<rect x="304.80" y="50.45" width="13.93" height="9.85" fill="#d0d098" />
<rect x="318.43" y="50.45" width="13.93" height="9.85" fill="#e8d480" />
<rect x="332.06" y="50.45" width="13.93" height="9.85" fill="#f03525" />
<rect x="345.69" y="50.45" width="13.93" height="9.85" fill="#90c0d8" />
<rect x="359.32" y="50.45" width="13.93" height="9.85" fill="#a0c8c8" />
<rect x="372.95" y="50.45" width="13.93" height="9.85" fill="#98c4d0" />
<rect x="304.80" y="60.00" width="13.93" height="9.85" fill="#e0d490" />
<rect x="318.43" y="60.00" width="13.93" height="9.85" fill="#e8d480" />
<rect x="332.06" y="60.00" width="13.93" height="9.85" fill="#f56030" />
<rect x="345.69" y="60.00" width="13.93" height="9.85" fill="#88bce0" />
<rect x="359.32" y="60.00" width="13.93" height="9.85" fill="#a0c8c8" />
<rect x="372.95" y="60.00" width="13.93" height="9.85" fill="#a0c8c8" />
<rect x="304.80" y="69.55" width="13.93" height="9.85" fill="#f57535" />
<rect x="318.43" y="69.55" width="13.93" height="9.85" fill="#d0d098" />
<rect x="332.06" y="69.55" width="13.93" height="9.85" fill="#f5d860" />
<rect x="345.69" y="69.55" width="13.93" height="9.85" fill="#80b8e8" />
<rect x="359.32" y="69.55" width="13.93" height="9.85" fill="#a0c8c8" />
<rect x="372.95" y="69.55" width="13.93" height="9.85" fill="#b0ccb0" />
<rect x="304.80" y="79.10" width="13.93" height="9.85" fill="#f5a850" />
<rect x="318.43" y="79.10" width="13.93" height="9.85" fill="#f5c860" />
<rect x="332.06" y="79.10" width="13.93" height="9.85" fill="#e0d088" />
<rect x="345.69" y="79.10" width="13.93" height="9.85" fill="#8cbce0" />
<rect x="359.32" y="79.10" width="13.93" height="9.85" fill="#a0c4cc" />
<rect x="372.95" y="79.10" width="13.93" height="9.85" fill="#a8c8c4" />
<rect x="304.80" y="88.65" width="13.93" height="9.85" fill="#c8cc98" />
<rect x="318.43" y="88.65" width="13.93" height="9.85" fill="#f5c860" />
<rect x="332.06" y="88.65" width="13.93" height="9.85" fill="#f58840" />
<rect x="345.69" y="88.65" width="13.93" height="9.85" fill="#8cbce0" />
<rect x="359.32" y="88.65" width="13.93" height="9.85" fill="#a0c4cc" />
<rect x="372.95" y="88.65" width="13.93" height="9.85" fill="#b0c8b8" />
<rect x="304.80" y="98.20" width="13.93" height="9.85" fill="#c8cc98" />
<rect x="318.43" y="98.20" width="13.93" height="9.85" fill="#f5c860" />
<rect x="332.06" y="98.20" width="13.93" height="9.85" fill="#f0c860" />
<rect x="345.69" y="98.20" width="13.93" height="9.85" fill="#78b4ec" />
<rect x="359.32" y="98.20" width="13.93" height="9.85" fill="#a0c4cc" />
<rect x="372.95" y="98.20" width="13.93" height="9.85" fill="#c8cc98" />
<rect x="304.80" y="107.75" width="13.93" height="9.85" fill="#98c0d8" />
<rect x="318.43" y="107.75" width="13.93" height="9.85" fill="#a0c4d0" />
<rect x="332.06" y="107.75" width="13.93" height="9.85" fill="#98c0d8" />
<rect x="345.69" y="107.75" width="13.93" height="9.85" fill="#e0d088" />
<rect x="359.32" y="107.75" width="13.93" height="9.85" fill="#f58840" />
<rect x="372.95" y="107.75" width="13.93" height="9.85" fill="#f5d860" />
<rect x="304.80" y="117.30" width="13.93" height="9.85" fill="#c8cc98" />
<rect x="318.43" y="117.30" width="13.93" height="9.85" fill="#f53020" />
<rect x="332.06" y="117.30" width="13.93" height="9.85" fill="#d8d090" />
<rect x="345.69" y="117.30" width="13.93" height="9.85" fill="#a0c4cc" />
<rect x="359.32" y="117.30" width="13.93" height="9.85" fill="#a8c8c4" />
<rect x="372.95" y="117.30" width="13.93" height="9.85" fill="#98c0d8" />
<rect x="304.80" y="126.85" width="13.93" height="9.85" fill="#f5d060" />
<rect x="318.43" y="126.85" width="13.93" height="9.85" fill="#f58040" />
<rect x="332.06" y="126.85" width="13.93" height="9.85" fill="#d8d090" />
<rect x="345.69" y="126.85" width="13.93" height="9.85" fill="#90c0dc" />
<rect x="359.32" y="126.85" width="13.93" height="9.85" fill="#a0c4cc" />
<rect x="372.95" y="126.85" width="13.93" height="9.85" fill="#a8c8c4" />
<rect x="304.80" y="136.40" width="13.93" height="9.85" fill="#c8cc98" />
<rect x="318.43" y="136.40" width="13.93" height="9.85" fill="#f54025" />
<rect x="332.06" y="136.40" width="13.93" height="9.85" fill="#e0d088" />
<rect x="345.69" y="136.40" width="13.93" height="9.85" fill="#90c0dc" />
<rect x="359.32" y="136.40" width="13.93" height="9.85" fill="#a8c8c4" />
<rect x="372.95" y="136.40" width="13.93" height="9.85" fill="#a8c8c4" />
<text x="388.20" y="29.00" font-size="6.9" fill="#222" text-anchor="start" font-weight="normal" font-style="normal"  stroke="#222" stroke-width="0.207">sucD</text>
<text x="388.20" y="38.61" font-size="6.9" fill="#222" text-anchor="start" font-weight="normal" font-style="normal"  stroke="#222" stroke-width="0.207">icd</text>
<text x="388.20" y="48.22" font-size="6.9" fill="#222" text-anchor="start" font-weight="normal" font-style="normal"  stroke="#222" stroke-width="0.207">gltA</text>
<text x="388.20" y="57.83" font-size="6.9" fill="#222" text-anchor="start" font-weight="normal" font-style="normal"  stroke="#222" stroke-width="0.207">sucA</text>
<text x="388.20" y="67.44" font-size="6.9" fill="#222" text-anchor="start" font-weight="normal" font-style="normal"  stroke="#222" stroke-width="0.207">sucB</text>
<text x="388.20" y="77.05" font-size="6.9" fill="#222" text-anchor="start" font-weight="normal" font-style="normal"  stroke="#222" stroke-width="0.207">sdhB</text>
<text x="388.20" y="86.66" font-size="6.9" fill="#222" text-anchor="start" font-weight="normal" font-style="normal"  stroke="#222" stroke-width="0.207">acnA</text>
<text x="388.20" y="96.27" font-size="6.9" fill="#222" text-anchor="start" font-weight="normal" font-style="normal"  stroke="#222" stroke-width="0.207">pckA</text>
<text x="388.20" y="105.88" font-size="6.9" fill="#222" text-anchor="start" font-weight="normal" font-style="normal"  stroke="#222" stroke-width="0.207">sucC</text>
<text x="388.20" y="115.49" font-size="6.9" fill="#222" text-anchor="start" font-weight="normal" font-style="normal"  stroke="#222" stroke-width="0.207">tcaA</text>
<text x="388.20" y="125.10" font-size="6.9" fill="#222" text-anchor="start" font-weight="normal" font-style="normal"  stroke="#222" stroke-width="0.207">pyc</text>
<text x="388.20" y="134.71" font-size="6.9" fill="#222" text-anchor="start" font-weight="normal" font-style="normal"  stroke="#222" stroke-width="0.207">mqo</text>
<text x="388.20" y="144.32" font-size="6.9" fill="#222" text-anchor="start" font-weight="normal" font-style="normal"  stroke="#222" stroke-width="0.207">fumC</text>
<rect x="305.30" y="147.20" width="80.78" height="4.60" fill="url(#cbar)" />
<line x1="328.60" y1="6.90" x2="369.00" y2="6.90" stroke="#8c8c8c" stroke-width="0.85" />
<line x1="328.60" y1="6.90" x2="328.60" y2="12.30" stroke="#8c8c8c" stroke-width="0.85" />
<line x1="369.00" y1="6.90" x2="369.00" y2="12.30" stroke="#8c8c8c" stroke-width="0.85" />
<line x1="318.80" y1="12.30" x2="339.00" y2="12.30" stroke="#8c8c8c" stroke-width="0.85" />
<line x1="318.80" y1="12.30" x2="318.80" y2="17.20" stroke="#8c8c8c" stroke-width="0.85" />
<line x1="339.00" y1="12.30" x2="339.00" y2="21.80" stroke="#8c8c8c" stroke-width="0.85" />
<line x1="312.30" y1="17.20" x2="325.40" y2="17.20" stroke="#8c8c8c" stroke-width="0.85" />
<line x1="312.30" y1="17.20" x2="312.30" y2="21.80" stroke="#8c8c8c" stroke-width="0.85" />
<line x1="325.40" y1="17.20" x2="325.40" y2="21.80" stroke="#8c8c8c" stroke-width="0.85" />
<line x1="358.90" y1="12.30" x2="379.40" y2="12.30" stroke="#8c8c8c" stroke-width="0.85" />
<line x1="358.90" y1="12.30" x2="358.90" y2="17.20" stroke="#8c8c8c" stroke-width="0.85" />
<line x1="379.40" y1="12.30" x2="379.40" y2="21.80" stroke="#8c8c8c" stroke-width="0.85" />
<line x1="352.40" y1="17.20" x2="365.50" y2="17.20" stroke="#8c8c8c" stroke-width="0.85" />
<line x1="352.40" y1="17.20" x2="352.40" y2="21.80" stroke="#8c8c8c" stroke-width="0.85" />
<line x1="365.50" y1="17.20" x2="365.50" y2="21.80" stroke="#8c8c8c" stroke-width="0.85" />
<line x1="303.00" y1="36.12" x2="304.80" y2="36.12" stroke="#8c8c8c" stroke-width="0.85" />
<line x1="303.00" y1="45.68" x2="304.80" y2="45.68" stroke="#8c8c8c" stroke-width="0.85" />
<line x1="303.00" y1="36.12" x2="303.00" y2="45.68" stroke="#8c8c8c" stroke-width="0.85" />
<line x1="302.00" y1="55.23" x2="304.80" y2="55.23" stroke="#8c8c8c" stroke-width="0.85" />
<line x1="302.00" y1="64.78" x2="304.80" y2="64.78" stroke="#8c8c8c" stroke-width="0.85" />
<line x1="302.00" y1="55.23" x2="302.00" y2="64.78" stroke="#8c8c8c" stroke-width="0.85" />
<line x1="297.00" y1="40.90" x2="303.00" y2="40.90" stroke="#8c8c8c" stroke-width="0.85" />
<line x1="297.00" y1="60.00" x2="302.00" y2="60.00" stroke="#8c8c8c" stroke-width="0.85" />
<line x1="297.00" y1="40.90" x2="297.00" y2="60.00" stroke="#8c8c8c" stroke-width="0.85" />
<line x1="300.00" y1="83.88" x2="304.80" y2="83.88" stroke="#8c8c8c" stroke-width="0.85" />
<line x1="300.00" y1="93.43" x2="304.80" y2="93.43" stroke="#8c8c8c" stroke-width="0.85" />
<line x1="300.00" y1="83.88" x2="300.00" y2="93.43" stroke="#8c8c8c" stroke-width="0.85" />
<line x1="296.00" y1="88.65" x2="300.00" y2="88.65" stroke="#8c8c8c" stroke-width="0.85" />
<line x1="296.00" y1="102.98" x2="304.80" y2="102.98" stroke="#8c8c8c" stroke-width="0.85" />
<line x1="296.00" y1="88.65" x2="296.00" y2="102.98" stroke="#8c8c8c" stroke-width="0.85" />
<line x1="294.00" y1="74.33" x2="304.80" y2="74.33" stroke="#8c8c8c" stroke-width="0.85" />
<line x1="294.00" y1="95.81" x2="296.00" y2="95.81" stroke="#8c8c8c" stroke-width="0.85" />
<line x1="294.00" y1="74.33" x2="294.00" y2="95.81" stroke="#8c8c8c" stroke-width="0.85" />
<line x1="289.30" y1="50.45" x2="297.00" y2="50.45" stroke="#8c8c8c" stroke-width="0.85" />
<line x1="289.30" y1="85.07" x2="294.00" y2="85.07" stroke="#8c8c8c" stroke-width="0.85" />
<line x1="289.30" y1="50.45" x2="289.30" y2="85.07" stroke="#8c8c8c" stroke-width="0.85" />
<line x1="286.50" y1="26.58" x2="304.80" y2="26.58" stroke="#8c8c8c" stroke-width="0.85" />
<line x1="286.50" y1="67.76" x2="289.30" y2="67.76" stroke="#8c8c8c" stroke-width="0.85" />
<line x1="286.50" y1="26.58" x2="286.50" y2="67.76" stroke="#8c8c8c" stroke-width="0.85" />
<line x1="301.00" y1="131.62" x2="304.80" y2="131.62" stroke="#8c8c8c" stroke-width="0.85" />
<line x1="301.00" y1="141.18" x2="304.80" y2="141.18" stroke="#8c8c8c" stroke-width="0.85" />
<line x1="301.00" y1="131.62" x2="301.00" y2="141.18" stroke="#8c8c8c" stroke-width="0.85" />
<line x1="298.00" y1="122.08" x2="304.80" y2="122.08" stroke="#8c8c8c" stroke-width="0.85" />
<line x1="298.00" y1="136.40" x2="301.00" y2="136.40" stroke="#8c8c8c" stroke-width="0.85" />
<line x1="298.00" y1="122.08" x2="298.00" y2="136.40" stroke="#8c8c8c" stroke-width="0.85" />
<line x1="295.60" y1="112.53" x2="304.80" y2="112.53" stroke="#8c8c8c" stroke-width="0.85" />
<line x1="295.60" y1="129.24" x2="298.00" y2="129.24" stroke="#8c8c8c" stroke-width="0.85" />
<line x1="295.60" y1="112.53" x2="295.60" y2="129.24" stroke="#8c8c8c" stroke-width="0.85" />
<line x1="283.50" y1="47.17" x2="286.50" y2="47.17" stroke="#8c8c8c" stroke-width="0.85" />
<line x1="283.50" y1="120.88" x2="295.60" y2="120.88" stroke="#8c8c8c" stroke-width="0.85" />
<line x1="283.50" y1="47.17" x2="283.50" y2="120.88" stroke="#8c8c8c" stroke-width="0.85" />
<rect x="440.30" y="21.50" width="13.72" height="7.50" fill="#f59040" />
<rect x="453.72" y="21.50" width="13.72" height="7.50" fill="#f59040" />
<rect x="467.14" y="21.50" width="13.72" height="7.50" fill="#a8c8c0" />
<rect x="480.56" y="21.50" width="13.72" height="7.50" fill="#a0c4cc" />
<rect x="493.98" y="21.50" width="13.72" height="7.50" fill="#a0c4cc" />
<rect x="507.40" y="21.50" width="13.72" height="7.50" fill="#a8c8c4" />
<rect x="440.30" y="28.70" width="13.72" height="7.50" fill="#b8ccb0" />
<rect x="453.72" y="28.70" width="13.72" height="7.50" fill="#f0d870" />
<rect x="467.14" y="28.70" width="13.72" height="7.50" fill="#f04828" />
<rect x="480.56" y="28.70" width="13.72" height="7.50" fill="#90c0dc" />
<rect x="493.98" y="28.70" width="13.72" height="7.50" fill="#b8ccb0" />
<rect x="507.40" y="28.70" width="13.72" height="7.50" fill="#a8c8c4" />
<rect x="440.30" y="35.90" width="13.72" height="7.50" fill="#c0cca0" />
<rect x="453.72" y="35.90" width="13.72" height="7.50" fill="#f55030" />
<rect x="467.14" y="35.90" width="13.72" height="7.50" fill="#f0d870" />
<rect x="480.56" y="35.90" width="13.72" height="7.50" fill="#90c0dc" />
<rect x="493.98" y="35.90" width="13.72" height="7.50" fill="#a8c8c4" />
<rect x="507.40" y="35.90" width="13.72" height="7.50" fill="#98c4d4" />
<rect x="440.30" y="43.10" width="13.72" height="7.50" fill="#c0cca0" />
<rect x="453.72" y="43.10" width="13.72" height="7.50" fill="#f55030" />
<rect x="467.14" y="43.10" width="13.72" height="7.50" fill="#f0d870" />
<rect x="480.56" y="43.10" width="13.72" height="7.50" fill="#90c0dc" />
<rect x="493.98" y="43.10" width="13.72" height="7.50" fill="#a8c8c4" />
<rect x="507.40" y="43.10" width="13.72" height="7.50" fill="#98c4d4" />
<rect x="440.30" y="50.30" width="13.72" height="7.50" fill="#e8d480" />
<rect x="453.72" y="50.30" width="13.72" height="7.50" fill="#f55030" />
<rect x="467.14" y="50.30" width="13.72" height="7.50" fill="#c8cc98" />
<rect x="480.56" y="50.30" width="13.72" height="7.50" fill="#90c0dc" />
<rect x="493.98" y="50.30" width="13.72" height="7.50" fill="#a8c8c4" />
<rect x="507.40" y="50.30" width="13.72" height="7.50" fill="#a8c8c4" />
<rect x="440.30" y="57.50" width="13.72" height="7.50" fill="#f57035" />
<rect x="453.72" y="57.50" width="13.72" height="7.50" fill="#d0cc90" />
<rect x="467.14" y="57.50" width="13.72" height="7.50" fill="#e8d480" />
<rect x="480.56" y="57.50" width="13.72" height="7.50" fill="#90c0dc" />
<rect x="493.98" y="57.50" width="13.72" height="7.50" fill="#98c0d8" />
<rect x="507.40" y="57.50" width="13.72" height="7.50" fill="#b0c8b8" />
<rect x="440.30" y="64.70" width="13.72" height="7.50" fill="#c0cca0" />
<rect x="453.72" y="64.70" width="13.72" height="7.50" fill="#f53020" />
<rect x="467.14" y="64.70" width="13.72" height="7.50" fill="#c8cc98" />
<rect x="480.56" y="64.70" width="13.72" height="7.50" fill="#90c0dc" />
<rect x="493.98" y="64.70" width="13.72" height="7.50" fill="#c0cca0" />
<rect x="507.40" y="64.70" width="13.72" height="7.50" fill="#a8c8c4" />
<rect x="440.30" y="71.90" width="13.72" height="7.50" fill="#c8cc98" />
<rect x="453.72" y="71.90" width="13.72" height="7.50" fill="#f0d870" />
<rect x="467.14" y="71.90" width="13.72" height="7.50" fill="#f57035" />
<rect x="480.56" y="71.90" width="13.72" height="7.50" fill="#80b8ec" />
<rect x="493.98" y="71.90" width="13.72" height="7.50" fill="#a8c8c4" />
<rect x="507.40" y="71.90" width="13.72" height="7.50" fill="#b8ccb0" />
<rect x="440.30" y="79.10" width="13.72" height="7.50" fill="#d0cc90" />
<rect x="453.72" y="79.10" width="13.72" height="7.50" fill="#f53525" />
<rect x="467.14" y="79.10" width="13.72" height="7.50" fill="#b8ccb0" />
<rect x="480.56" y="79.10" width="13.72" height="7.50" fill="#90c0dc" />
<rect x="493.98" y="79.10" width="13.72" height="7.50" fill="#c0cca0" />
<rect x="507.40" y="79.10" width="13.72" height="7.50" fill="#a8c8c4" />
<rect x="440.30" y="86.30" width="13.72" height="7.50" fill="#f59040" />
<rect x="453.72" y="86.30" width="13.72" height="7.50" fill="#f5d060" />
<rect x="467.14" y="86.30" width="13.72" height="7.50" fill="#c0cca0" />
<rect x="480.56" y="86.30" width="13.72" height="7.50" fill="#78b4ec" />
<rect x="493.98" y="86.30" width="13.72" height="7.50" fill="#b0c8b8" />
<rect x="507.40" y="86.30" width="13.72" height="7.50" fill="#b0c8b8" />
<rect x="440.30" y="93.50" width="13.72" height="7.50" fill="#e8d480" />
<rect x="453.72" y="93.50" width="13.72" height="7.50" fill="#f56030" />
<rect x="467.14" y="93.50" width="13.72" height="7.50" fill="#e0d088" />
<rect x="480.56" y="93.50" width="13.72" height="7.50" fill="#90c0dc" />
<rect x="493.98" y="93.50" width="13.72" height="7.50" fill="#a8c8c4" />
<rect x="507.40" y="93.50" width="13.72" height="7.50" fill="#98c4d4" />
<rect x="440.30" y="100.70" width="13.72" height="7.50" fill="#b0c8b8" />
<rect x="453.72" y="100.70" width="13.72" height="7.50" fill="#e0d088" />
<rect x="467.14" y="100.70" width="13.72" height="7.50" fill="#f53020" />
<rect x="480.56" y="100.70" width="13.72" height="7.50" fill="#90c0dc" />
<rect x="493.98" y="100.70" width="13.72" height="7.50" fill="#a8c8c4" />
<rect x="507.40" y="100.70" width="13.72" height="7.50" fill="#a8c8c4" />
<rect x="440.30" y="107.90" width="13.72" height="7.50" fill="#b0c8b8" />
<rect x="453.72" y="107.90" width="13.72" height="7.50" fill="#d8d090" />
<rect x="467.14" y="107.90" width="13.72" height="7.50" fill="#f53020" />
<rect x="480.56" y="107.90" width="13.72" height="7.50" fill="#98c4d4" />
<rect x="493.98" y="107.90" width="13.72" height="7.50" fill="#a8c8c4" />
<rect x="507.40" y="107.90" width="13.72" height="7.50" fill="#a8c8c4" />
<rect x="440.30" y="115.10" width="13.72" height="7.50" fill="#98c4d4" />
<rect x="453.72" y="115.10" width="13.72" height="7.50" fill="#98c4d4" />
<rect x="467.14" y="115.10" width="13.72" height="7.50" fill="#98c4d4" />
<rect x="480.56" y="115.10" width="13.72" height="7.50" fill="#e8d480" />
<rect x="493.98" y="115.10" width="13.72" height="7.50" fill="#f5a850" />
<rect x="507.40" y="115.10" width="13.72" height="7.50" fill="#f5d060" />
<rect x="440.30" y="122.30" width="13.72" height="7.50" fill="#a8c8c4" />
<rect x="453.72" y="122.30" width="13.72" height="7.50" fill="#c0cca0" />
<rect x="467.14" y="122.30" width="13.72" height="7.50" fill="#b0c8b8" />
<rect x="480.56" y="122.30" width="13.72" height="7.50" fill="#c0cca0" />
<rect x="493.98" y="122.30" width="13.72" height="7.50" fill="#e0d088" />
<rect x="507.40" y="122.30" width="13.72" height="7.50" fill="#f53020" />
<rect x="440.30" y="129.50" width="13.72" height="7.50" fill="#f59040" />
<rect x="453.72" y="129.50" width="13.72" height="7.50" fill="#b0c8b8" />
<rect x="467.14" y="129.50" width="13.72" height="7.50" fill="#f59848" />
<rect x="480.56" y="129.50" width="13.72" height="7.50" fill="#a8c8c4" />
<rect x="493.98" y="129.50" width="13.72" height="7.50" fill="#a0c4cc" />
<rect x="507.40" y="129.50" width="13.72" height="7.50" fill="#a8c8c4" />
<rect x="440.30" y="136.70" width="13.72" height="7.50" fill="#f59040" />
<rect x="453.72" y="136.70" width="13.72" height="7.50" fill="#f5b050" />
<rect x="467.14" y="136.70" width="13.72" height="7.50" fill="#b0c8b8" />
<rect x="480.56" y="136.70" width="13.72" height="7.50" fill="#90c0dc" />
<rect x="493.98" y="136.70" width="13.72" height="7.50" fill="#b0c8b8" />
<rect x="507.40" y="136.70" width="13.72" height="7.50" fill="#a8c8c4" />
<text x="524.40" y="26.90" font-size="6.0" fill="#222" text-anchor="start" font-weight="normal" font-style="normal"  stroke="#222" stroke-width="0.180">ahpC</text>
<text x="524.40" y="34.32" font-size="6.0" fill="#222" text-anchor="start" font-weight="normal" font-style="normal"  stroke="#222" stroke-width="0.180">hlg</text>
<text x="524.40" y="41.74" font-size="6.0" fill="#222" text-anchor="start" font-weight="normal" font-style="normal"  stroke="#222" stroke-width="0.180">saeS</text>
<text x="524.40" y="49.16" font-size="6.0" fill="#222" text-anchor="start" font-weight="normal" font-style="normal"  stroke="#222" stroke-width="0.180">saeR</text>
<text x="524.40" y="56.58" font-size="6.0" fill="#222" text-anchor="start" font-weight="normal" font-style="normal"  stroke="#222" stroke-width="0.180">hprK</text>
<text x="524.40" y="64.00" font-size="6.0" fill="#222" text-anchor="start" font-weight="normal" font-style="normal"  stroke="#222" stroke-width="0.180">vicK</text>
<text x="524.40" y="71.42" font-size="6.0" fill="#222" text-anchor="start" font-weight="normal" font-style="normal"  stroke="#222" stroke-width="0.180">arlR</text>
<text x="524.40" y="78.84" font-size="6.0" fill="#222" text-anchor="start" font-weight="normal" font-style="normal"  stroke="#222" stroke-width="0.180">rpsK</text>
<text x="524.40" y="86.26" font-size="6.0" fill="#222" text-anchor="start" font-weight="normal" font-style="normal"  stroke="#222" stroke-width="0.180">trxB</text>
<text x="524.40" y="93.68" font-size="6.0" fill="#222" text-anchor="start" font-weight="normal" font-style="normal"  stroke="#222" stroke-width="0.180">vicR</text>
<text x="524.40" y="101.10" font-size="6.0" fill="#222" text-anchor="start" font-weight="normal" font-style="normal"  stroke="#222" stroke-width="0.180">srpA</text>
<text x="524.40" y="108.52" font-size="6.0" fill="#222" text-anchor="start" font-weight="normal" font-style="normal"  stroke="#222" stroke-width="0.180">luk</text>
<text x="524.40" y="115.94" font-size="6.0" fill="#222" text-anchor="start" font-weight="normal" font-style="normal"  stroke="#222" stroke-width="0.180">ilvH</text>
<text x="524.40" y="123.36" font-size="6.0" fill="#222" text-anchor="start" font-weight="normal" font-style="normal"  stroke="#222" stroke-width="0.180">vraS</text>
<text x="524.40" y="130.78" font-size="6.0" fill="#222" text-anchor="start" font-weight="normal" font-style="normal"  stroke="#222" stroke-width="0.180">msrB</text>
<text x="524.40" y="138.20" font-size="6.0" fill="#222" text-anchor="start" font-weight="normal" font-style="normal"  stroke="#222" stroke-width="0.180">trpS</text>
<text x="524.40" y="145.62" font-size="6.0" fill="#222" text-anchor="start" font-weight="normal" font-style="normal"  stroke="#222" stroke-width="0.180">rplQ</text>
<rect x="440.80" y="146.80" width="79.52" height="4.60" fill="url(#cbar)" />
<line x1="464.50" y1="6.90" x2="503.70" y2="6.90" stroke="#8c8c8c" stroke-width="0.85" />
<line x1="464.50" y1="6.90" x2="464.50" y2="12.30" stroke="#8c8c8c" stroke-width="0.85" />
<line x1="503.70" y1="6.90" x2="503.70" y2="12.30" stroke="#8c8c8c" stroke-width="0.85" />
<line x1="455.00" y1="12.30" x2="474.30" y2="12.30" stroke="#8c8c8c" stroke-width="0.85" />
<line x1="455.00" y1="12.30" x2="455.00" y2="17.20" stroke="#8c8c8c" stroke-width="0.85" />
<line x1="474.30" y1="12.30" x2="474.30" y2="21.50" stroke="#8c8c8c" stroke-width="0.85" />
<line x1="448.10" y1="17.20" x2="461.50" y2="17.20" stroke="#8c8c8c" stroke-width="0.85" />
<line x1="448.10" y1="17.20" x2="448.10" y2="21.50" stroke="#8c8c8c" stroke-width="0.85" />
<line x1="461.50" y1="17.20" x2="461.50" y2="21.50" stroke="#8c8c8c" stroke-width="0.85" />
<line x1="493.90" y1="12.30" x2="513.60" y2="12.30" stroke="#8c8c8c" stroke-width="0.85" />
<line x1="493.90" y1="12.30" x2="493.90" y2="17.20" stroke="#8c8c8c" stroke-width="0.85" />
<line x1="513.60" y1="12.30" x2="513.60" y2="21.50" stroke="#8c8c8c" stroke-width="0.85" />
<line x1="487.40" y1="17.20" x2="500.50" y2="17.20" stroke="#8c8c8c" stroke-width="0.85" />
<line x1="487.40" y1="17.20" x2="487.40" y2="21.50" stroke="#8c8c8c" stroke-width="0.85" />
<line x1="500.50" y1="17.20" x2="500.50" y2="21.50" stroke="#8c8c8c" stroke-width="0.85" />
<line x1="437.00" y1="39.50" x2="440.30" y2="39.50" stroke="#8c8c8c" stroke-width="0.85" />
<line x1="437.00" y1="46.70" x2="440.30" y2="46.70" stroke="#8c8c8c" stroke-width="0.85" />
<line x1="437.00" y1="39.50" x2="437.00" y2="46.70" stroke="#8c8c8c" stroke-width="0.85" />
<line x1="434.00" y1="32.30" x2="440.30" y2="32.30" stroke="#8c8c8c" stroke-width="0.85" />
<line x1="434.00" y1="43.10" x2="437.00" y2="43.10" stroke="#8c8c8c" stroke-width="0.85" />
<line x1="434.00" y1="32.30" x2="434.00" y2="43.10" stroke="#8c8c8c" stroke-width="0.85" />
<line x1="436.00" y1="53.90" x2="440.30" y2="53.90" stroke="#8c8c8c" stroke-width="0.85" />
<line x1="436.00" y1="61.10" x2="440.30" y2="61.10" stroke="#8c8c8c" stroke-width="0.85" />
<line x1="436.00" y1="53.90" x2="436.00" y2="61.10" stroke="#8c8c8c" stroke-width="0.85" />
<line x1="431.00" y1="37.70" x2="434.00" y2="37.70" stroke="#8c8c8c" stroke-width="0.85" />
<line x1="431.00" y1="57.50" x2="436.00" y2="57.50" stroke="#8c8c8c" stroke-width="0.85" />
<line x1="431.00" y1="37.70" x2="431.00" y2="57.50" stroke="#8c8c8c" stroke-width="0.85" />
<line x1="436.50" y1="68.30" x2="440.30" y2="68.30" stroke="#8c8c8c" stroke-width="0.85" />
<line x1="436.50" y1="75.50" x2="440.30" y2="75.50" stroke="#8c8c8c" stroke-width="0.85" />
<line x1="436.50" y1="68.30" x2="436.50" y2="75.50" stroke="#8c8c8c" stroke-width="0.85" />
<line x1="434.00" y1="71.90" x2="436.50" y2="71.90" stroke="#8c8c8c" stroke-width="0.85" />
<line x1="434.00" y1="82.70" x2="440.30" y2="82.70" stroke="#8c8c8c" stroke-width="0.85" />
<line x1="434.00" y1="71.90" x2="434.00" y2="82.70" stroke="#8c8c8c" stroke-width="0.85" />
<line x1="437.00" y1="89.90" x2="440.30" y2="89.90" stroke="#8c8c8c" stroke-width="0.85" />
<line x1="437.00" y1="97.10" x2="440.30" y2="97.10" stroke="#8c8c8c" stroke-width="0.85" />
<line x1="437.00" y1="89.90" x2="437.00" y2="97.10" stroke="#8c8c8c" stroke-width="0.85" />
<line x1="432.00" y1="77.30" x2="434.00" y2="77.30" stroke="#8c8c8c" stroke-width="0.85" />
<line x1="432.00" y1="93.50" x2="437.00" y2="93.50" stroke="#8c8c8c" stroke-width="0.85" />
<line x1="432.00" y1="77.30" x2="432.00" y2="93.50" stroke="#8c8c8c" stroke-width="0.85" />
<line x1="429.00" y1="47.60" x2="431.00" y2="47.60" stroke="#8c8c8c" stroke-width="0.85" />
<line x1="429.00" y1="85.40" x2="432.00" y2="85.40" stroke="#8c8c8c" stroke-width="0.85" />
<line x1="429.00" y1="47.60" x2="429.00" y2="85.40" stroke="#8c8c8c" stroke-width="0.85" />
<line x1="426.00" y1="25.10" x2="440.30" y2="25.10" stroke="#8c8c8c" stroke-width="0.85" />
<line x1="426.00" y1="66.50" x2="429.00" y2="66.50" stroke="#8c8c8c" stroke-width="0.85" />
<line x1="426.00" y1="25.10" x2="426.00" y2="66.50" stroke="#8c8c8c" stroke-width="0.85" />
<line x1="437.00" y1="104.30" x2="440.30" y2="104.30" stroke="#8c8c8c" stroke-width="0.85" />
<line x1="437.00" y1="111.50" x2="440.30" y2="111.50" stroke="#8c8c8c" stroke-width="0.85" />
<line x1="437.00" y1="104.30" x2="437.00" y2="111.50" stroke="#8c8c8c" stroke-width="0.85" />
<line x1="437.00" y1="118.70" x2="440.30" y2="118.70" stroke="#8c8c8c" stroke-width="0.85" />
<line x1="437.00" y1="125.90" x2="440.30" y2="125.90" stroke="#8c8c8c" stroke-width="0.85" />
<line x1="437.00" y1="118.70" x2="437.00" y2="125.90" stroke="#8c8c8c" stroke-width="0.85" />
<line x1="437.00" y1="133.10" x2="440.30" y2="133.10" stroke="#8c8c8c" stroke-width="0.85" />
<line x1="437.00" y1="140.30" x2="440.30" y2="140.30" stroke="#8c8c8c" stroke-width="0.85" />
<line x1="437.00" y1="133.10" x2="437.00" y2="140.30" stroke="#8c8c8c" stroke-width="0.85" />
<line x1="433.00" y1="122.30" x2="437.00" y2="122.30" stroke="#8c8c8c" stroke-width="0.85" />
<line x1="433.00" y1="136.70" x2="437.00" y2="136.70" stroke="#8c8c8c" stroke-width="0.85" />
<line x1="433.00" y1="122.30" x2="433.00" y2="136.70" stroke="#8c8c8c" stroke-width="0.85" />
<line x1="430.00" y1="107.90" x2="437.00" y2="107.90" stroke="#8c8c8c" stroke-width="0.85" />
<line x1="430.00" y1="129.50" x2="433.00" y2="129.50" stroke="#8c8c8c" stroke-width="0.85" />
<line x1="430.00" y1="107.90" x2="430.00" y2="129.50" stroke="#8c8c8c" stroke-width="0.85" />
<line x1="423.00" y1="45.80" x2="426.00" y2="45.80" stroke="#8c8c8c" stroke-width="0.85" />
<line x1="423.00" y1="118.70" x2="430.00" y2="118.70" stroke="#8c8c8c" stroke-width="0.85" />
<line x1="423.00" y1="45.80" x2="423.00" y2="118.70" stroke="#8c8c8c" stroke-width="0.85" />
<text x="306.6" y="161.5" font-size="6.8" fill="#111" textLength="36.8" lengthAdjust="spacingAndGlyphs" stroke="#111" stroke-width="0.204">-1.5-1.0-0.5 0</text>
<text x="348.4" y="161.5" font-size="6.8" fill="#111" textLength="38.7" lengthAdjust="spacingAndGlyphs" stroke="#111" stroke-width="0.204">0.5 1.0 1.5 2.0</text>
<line x1="306.40" y1="162.80" x2="343.60" y2="162.80" stroke="#222" stroke-width="0.9" />
<line x1="348.20" y1="162.80" x2="387.30" y2="162.80" stroke="#222" stroke-width="0.9" />
<rect x="305.80" y="164.50" width="37.80" height="12.00" fill="#b3dff4" />
<rect x="348.20" y="164.50" width="39.40" height="12.00" fill="#f9c9aa" />
<text x="324.70" y="173.90" font-size="7.7" fill="#111" text-anchor="middle" font-weight="normal" font-style="normal"  stroke="#111" stroke-width="0.231">Control</text>
<text x="367.90" y="173.90" font-size="7.7" fill="#111" text-anchor="middle" font-weight="normal" font-style="normal"  stroke="#111" stroke-width="0.231">HBPL</text>
<text x="437.2" y="162" font-size="6.8" fill="#111" textLength="38.4" lengthAdjust="spacingAndGlyphs" stroke="#111" stroke-width="0.204">-1.5-1.0-0.5 0</text>
<text x="480.2" y="162" font-size="6.8" fill="#111" textLength="39.3" lengthAdjust="spacingAndGlyphs" stroke="#111" stroke-width="0.204">0.5 1.0 1.5 2.0</text>
<line x1="441.30" y1="163.10" x2="480.00" y2="163.10" stroke="#222" stroke-width="0.9" />
<line x1="483.00" y1="163.10" x2="520.80" y2="163.10" stroke="#222" stroke-width="0.9" />
<rect x="441.30" y="164.50" width="38.70" height="12.00" fill="#b3dff4" />
<rect x="483.50" y="164.50" width="40.50" height="12.00" fill="#f9c9aa" />
<text x="460.65" y="173.90" font-size="7.7" fill="#111" text-anchor="middle" font-weight="normal" font-style="normal"  stroke="#111" stroke-width="0.231">Control</text>
<text x="503.75" y="173.90" font-size="7.7" fill="#111" text-anchor="middle" font-weight="normal" font-style="normal"  stroke="#111" stroke-width="0.231">HBPL</text>
<line x1="51.00" y1="205.30" x2="51.00" y2="312.20" stroke="#222" stroke-width="0.8" />
<line x1="51.00" y1="312.20" x2="158.20" y2="312.20" stroke="#222" stroke-width="0.8" />
<line x1="47.80" y1="312.20" x2="51.00" y2="312.20" stroke="#222" stroke-width="0.8" />
<text x="47.30" y="314.65" font-size="7" fill="#111" text-anchor="end" font-weight="normal" font-style="normal"  stroke="#111" stroke-width="0.210">0</text>
<line x1="47.80" y1="296.96" x2="51.00" y2="296.96" stroke="#222" stroke-width="0.8" />
<text x="47.30" y="299.41" font-size="7" fill="#111" text-anchor="end" font-weight="normal" font-style="normal"  stroke="#111" stroke-width="0.210">3</text>
<line x1="47.80" y1="281.72" x2="51.00" y2="281.72" stroke="#222" stroke-width="0.8" />
<text x="47.30" y="284.17" font-size="7" fill="#111" text-anchor="end" font-weight="normal" font-style="normal"  stroke="#111" stroke-width="0.210">6</text>
<line x1="47.80" y1="266.48" x2="51.00" y2="266.48" stroke="#222" stroke-width="0.8" />
<text x="47.30" y="268.93" font-size="7" fill="#111" text-anchor="end" font-weight="normal" font-style="normal"  stroke="#111" stroke-width="0.210">9</text>
<line x1="47.80" y1="251.24" x2="51.00" y2="251.24" stroke="#222" stroke-width="0.8" />
<text x="47.30" y="253.69" font-size="7" fill="#111" text-anchor="end" font-weight="normal" font-style="normal"  stroke="#111" stroke-width="0.210">12</text>
<line x1="47.80" y1="236.00" x2="51.00" y2="236.00" stroke="#222" stroke-width="0.8" />
<text x="47.30" y="238.45" font-size="7" fill="#111" text-anchor="end" font-weight="normal" font-style="normal"  stroke="#111" stroke-width="0.210">15</text>
<line x1="47.80" y1="220.76" x2="51.00" y2="220.76" stroke="#222" stroke-width="0.8" />
<text x="47.30" y="223.21" font-size="7" fill="#111" text-anchor="end" font-weight="normal" font-style="normal"  stroke="#111" stroke-width="0.210">18</text>
<line x1="47.80" y1="205.52" x2="51.00" y2="205.52" stroke="#222" stroke-width="0.8" />
<text x="47.30" y="207.97" font-size="7" fill="#111" text-anchor="end" font-weight="normal" font-style="normal"  stroke="#111" stroke-width="0.210">21</text>
<line x1="51.14" y1="312.20" x2="51.14" y2="315.00" stroke="#222" stroke-width="0.7" />
<line x1="57.81" y1="312.20" x2="57.81" y2="313.60" stroke="#222" stroke-width="0.7" />
<line x1="64.48" y1="312.20" x2="64.48" y2="315.00" stroke="#222" stroke-width="0.7" />
<line x1="71.15" y1="312.20" x2="71.15" y2="313.60" stroke="#222" stroke-width="0.7" />
<line x1="77.82" y1="312.20" x2="77.82" y2="315.00" stroke="#222" stroke-width="0.7" />
<line x1="84.49" y1="312.20" x2="84.49" y2="313.60" stroke="#222" stroke-width="0.7" />
<line x1="91.16" y1="312.20" x2="91.16" y2="315.00" stroke="#222" stroke-width="0.7" />
<line x1="97.83" y1="312.20" x2="97.83" y2="313.60" stroke="#222" stroke-width="0.7" />
<line x1="104.50" y1="312.20" x2="104.50" y2="315.00" stroke="#222" stroke-width="0.7" />
<line x1="111.17" y1="312.20" x2="111.17" y2="313.60" stroke="#222" stroke-width="0.7" />
<line x1="117.84" y1="312.20" x2="117.84" y2="315.00" stroke="#222" stroke-width="0.7" />
<line x1="124.51" y1="312.20" x2="124.51" y2="313.60" stroke="#222" stroke-width="0.7" />
<line x1="131.18" y1="312.20" x2="131.18" y2="315.00" stroke="#222" stroke-width="0.7" />
<line x1="137.85" y1="312.20" x2="137.85" y2="313.60" stroke="#222" stroke-width="0.7" />
<line x1="144.52" y1="312.20" x2="144.52" y2="315.00" stroke="#222" stroke-width="0.7" />
<line x1="151.19" y1="312.20" x2="151.19" y2="313.60" stroke="#222" stroke-width="0.7" />
<line x1="157.86" y1="312.20" x2="157.86" y2="315.00" stroke="#222" stroke-width="0.7" />
<text x="50.74" y="322.70" font-size="7" fill="#111" text-anchor="middle" font-weight="normal" font-style="normal"  stroke="#111" stroke-width="0.210">-8</text>
<text x="64.08" y="322.70" font-size="7" fill="#111" text-anchor="middle" font-weight="normal" font-style="normal"  stroke="#111" stroke-width="0.210">-6</text>
<text x="77.42" y="322.70" font-size="7" fill="#111" text-anchor="middle" font-weight="normal" font-style="normal"  stroke="#111" stroke-width="0.210">-4</text>
<text x="90.76" y="322.70" font-size="7" fill="#111" text-anchor="middle" font-weight="normal" font-style="normal"  stroke="#111" stroke-width="0.210">-2</text>
<text x="104.50" y="322.70" font-size="7" fill="#111" text-anchor="middle" font-weight="normal" font-style="normal"  stroke="#111" stroke-width="0.210">0</text>
<text x="117.84" y="322.70" font-size="7" fill="#111" text-anchor="middle" font-weight="normal" font-style="normal"  stroke="#111" stroke-width="0.210">2</text>
<text x="131.18" y="322.70" font-size="7" fill="#111" text-anchor="middle" font-weight="normal" font-style="normal"  stroke="#111" stroke-width="0.210">4</text>
<text x="144.52" y="322.70" font-size="7" fill="#111" text-anchor="middle" font-weight="normal" font-style="normal"  stroke="#111" stroke-width="0.210">6</text>
<text x="157.86" y="322.70" font-size="7" fill="#111" text-anchor="middle" font-weight="normal" font-style="normal"  stroke="#111" stroke-width="0.210">8</text>
<text x="104.00" y="334.50" font-size="8" fill="#111" text-anchor="middle" font-weight="normal" font-style="normal"  stroke="#111" stroke-width="0.240">log2 (fold change)</text>
<text transform="translate(34.2,256.8) rotate(-90)" font-size="8" fill="#111" text-anchor="middle" stroke="#111" stroke-width="0.240">-log10 (significance)</text>
<line x1="97.80" y1="205.30" x2="97.80" y2="312.20" stroke="#8a8a8a" stroke-width="0.6" />
<line x1="111.40" y1="205.30" x2="111.40" y2="312.20" stroke="#8a8a8a" stroke-width="0.6" />
<line x1="51.00" y1="305.40" x2="158.20" y2="305.40" stroke="#8a8a8a" stroke-width="0.6" />
<path d="M102.3 311.5h1.2v1.2h-1.2zM102.8 311.5h1.2v1.2h-1.2zM104.2 311.5h1.2v1.2h-1.2zM104.3 311.5h1.2v1.2h-1.2zM108.2 310.2h1.2v1.2h-1.2zM97.3 308.9h1.2v1.2h-1.2zM90.2 306.9h1.2v1.2h-1.2zM88.6 305.7h1.2v1.2h-1.2zM109.0 310.1h1.2v1.2h-1.2zM87.7 305.8h1.2v1.2h-1.2zM93.6 305.4h1.2v1.2h-1.2zM102.7 311.3h1.2v1.2h-1.2zM101.9 310.8h1.2v1.2h-1.2zM108.6 310.9h1.2v1.2h-1.2zM103.9 311.5h1.2v1.2h-1.2zM96.5 311.5h1.2v1.2h-1.2zM115.2 305.6h1.2v1.2h-1.2zM94.9 306.6h1.2v1.2h-1.2zM112.8 307.3h1.2v1.2h-1.2zM100.1 309.7h1.2v1.2h-1.2zM119.2 305.4h1.2v1.2h-1.2zM94.2 306.0h1.2v1.2h-1.2zM119.9 305.6h1.2v1.2h-1.2zM108.2 310.2h1.2v1.2h-1.2zM90.1 306.7h1.2v1.2h-1.2zM112.5 306.0h1.2v1.2h-1.2zM90.6 307.1h1.2v1.2h-1.2zM93.2 306.4h1.2v1.2h-1.2zM93.6 305.5h1.2v1.2h-1.2zM108.7 310.4h1.2v1.2h-1.2zM91.1 305.7h1.2v1.2h-1.2zM96.2 306.3h1.2v1.2h-1.2zM97.4 308.2h1.2v1.2h-1.2zM100.4 311.1h1.2v1.2h-1.2zM115.7 305.8h1.2v1.2h-1.2zM120.2 306.2h1.2v1.2h-1.2zM113.0 306.8h1.2v1.2h-1.2zM89.7 306.1h1.2v1.2h-1.2zM95.3 307.6h1.2v1.2h-1.2zM102.3 310.5h1.2v1.2h-1.2zM106.4 311.4h1.2v1.2h-1.2zM116.1 305.9h1.2v1.2h-1.2zM117.5 306.1h1.2v1.2h-1.2zM93.6 307.8h1.2v1.2h-1.2zM93.8 306.1h1.2v1.2h-1.2zM107.4 311.1h1.2v1.2h-1.2zM88.5 306.1h1.2v1.2h-1.2zM110.7 308.4h1.2v1.2h-1.2zM95.8 307.7h1.2v1.2h-1.2zM97.0 307.7h1.2v1.2h-1.2zM89.5 305.6h1.2v1.2h-1.2zM115.7 306.0h1.2v1.2h-1.2zM117.8 305.5h1.2v1.2h-1.2zM96.2 307.6h1.2v1.2h-1.2zM93.1 306.3h1.2v1.2h-1.2zM91.6 306.8h1.2v1.2h-1.2zM119.9 306.3h1.2v1.2h-1.2zM106.7 311.5h1.2v1.2h-1.2zM91.9 305.4h1.2v1.2h-1.2zM117.6 307.9h1.2v1.2h-1.2zM87.9 306.3h1.2v1.2h-1.2zM111.6 311.5h1.2v1.2h-1.2zM89.7 305.9h1.2v1.2h-1.2zM117.2 307.0h1.2v1.2h-1.2zM113.7 305.9h1.2v1.2h-1.2zM110.1 307.6h1.2v1.2h-1.2zM101.1 311.5h1.2v1.2h-1.2zM113.6 306.4h1.2v1.2h-1.2zM108.1 311.2h1.2v1.2h-1.2zM107.5 309.9h1.2v1.2h-1.2zM89.9 307.9h1.2v1.2h-1.2zM116.6 306.4h1.2v1.2h-1.2zM111.7 308.5h1.2v1.2h-1.2zM115.2 306.3h1.2v1.2h-1.2zM88.2 306.1h1.2v1.2h-1.2zM94.9 307.3h1.2v1.2h-1.2zM107.7 310.0h1.2v1.2h-1.2zM87.6 305.9h1.2v1.2h-1.2zM94.0 306.5h1.2v1.2h-1.2zM109.2 308.0h1.2v1.2h-1.2zM102.0 310.8h1.2v1.2h-1.2zM109.4 309.9h1.2v1.2h-1.2zM93.8 306.6h1.2v1.2h-1.2zM117.7 306.1h1.2v1.2h-1.2zM106.7 311.2h1.2v1.2h-1.2zM103.8 311.2h1.2v1.2h-1.2zM115.1 306.7h1.2v1.2h-1.2zM118.9 306.0h1.2v1.2h-1.2zM102.3 311.5h1.2v1.2h-1.2zM101.0 310.5h1.2v1.2h-1.2zM108.1 311.1h1.2v1.2h-1.2zM115.2 306.5h1.2v1.2h-1.2zM89.7 307.4h1.2v1.2h-1.2zM88.6 305.7h1.2v1.2h-1.2zM97.5 309.7h1.2v1.2h-1.2zM113.6 305.5h1.2v1.2h-1.2zM102.4 309.9h1.2v1.2h-1.2zM95.1 306.1h1.2v1.2h-1.2zM108.2 310.1h1.2v1.2h-1.2zM102.1 311.5h1.2v1.2h-1.2zM114.2 306.9h1.2v1.2h-1.2zM93.9 306.0h1.2v1.2h-1.2zM87.6 307.0h1.2v1.2h-1.2zM93.2 305.5h1.2v1.2h-1.2zM110.5 307.8h1.2v1.2h-1.2zM104.6 311.5h1.2v1.2h-1.2zM100.3 311.5h1.2v1.2h-1.2zM113.6 305.6h1.2v1.2h-1.2zM118.3 305.9h1.2v1.2h-1.2zM102.4 311.5h1.2v1.2h-1.2zM99.8 311.5h1.2v1.2h-1.2zM106.2 310.2h1.2v1.2h-1.2zM118.7 306.8h1.2v1.2h-1.2zM94.1 305.7h1.2v1.2h-1.2zM108.6 311.5h1.2v1.2h-1.2zM111.2 309.6h1.2v1.2h-1.2zM119.9 305.6h1.2v1.2h-1.2zM113.6 307.7h1.2v1.2h-1.2zM115.8 305.7h1.2v1.2h-1.2zM101.9 311.5h1.2v1.2h-1.2zM103.5 311.5h1.2v1.2h-1.2zM88.2 305.7h1.2v1.2h-1.2zM113.9 306.2h1.2v1.2h-1.2zM113.5 305.8h1.2v1.2h-1.2zM104.5 311.5h1.2v1.2h-1.2zM110.2 310.3h1.2v1.2h-1.2zM118.8 305.5h1.2v1.2h-1.2zM90.1 306.6h1.2v1.2h-1.2zM96.9 308.3h1.2v1.2h-1.2zM104.7 311.5h1.2v1.2h-1.2zM115.4 305.7h1.2v1.2h-1.2zM99.9 309.5h1.2v1.2h-1.2zM94.2 307.9h1.2v1.2h-1.2zM104.7 311.5h1.2v1.2h-1.2zM106.3 310.9h1.2v1.2h-1.2zM104.0 310.6h1.2v1.2h-1.2zM107.4 308.6h1.2v1.2h-1.2zM104.4 311.2h1.2v1.2h-1.2zM100.6 310.5h1.2v1.2h-1.2zM103.6 311.5h1.2v1.2h-1.2zM110.3 307.8h1.2v1.2h-1.2zM101.0 310.6h1.2v1.2h-1.2zM119.1 305.8h1.2v1.2h-1.2zM103.0 310.9h1.2v1.2h-1.2zM114.4 306.3h1.2v1.2h-1.2zM97.8 309.5h1.2v1.2h-1.2zM93.6 307.0h1.2v1.2h-1.2zM91.5 305.6h1.2v1.2h-1.2zM93.7 306.9h1.2v1.2h-1.2zM98.0 309.8h1.2v1.2h-1.2zM90.7 305.5h1.2v1.2h-1.2zM104.2 311.5h1.2v1.2h-1.2zM95.6 307.6h1.2v1.2h-1.2zM101.8 311.5h1.2v1.2h-1.2zM104.9 310.9h1.2v1.2h-1.2zM92.6 306.8h1.2v1.2h-1.2zM108.5 311.5h1.2v1.2h-1.2zM107.6 310.9h1.2v1.2h-1.2zM115.8 307.1h1.2v1.2h-1.2zM114.3 305.9h1.2v1.2h-1.2zM97.7 308.4h1.2v1.2h-1.2zM120.5 305.8h1.2v1.2h-1.2zM95.2 306.6h1.2v1.2h-1.2zM90.5 305.9h1.2v1.2h-1.2zM113.6 306.4h1.2v1.2h-1.2zM110.1 308.3h1.2v1.2h-1.2zM87.8 306.9h1.2v1.2h-1.2zM117.6 305.5h1.2v1.2h-1.2zM104.1 311.5h1.2v1.2h-1.2zM110.1 309.8h1.2v1.2h-1.2zM93.5 305.6h1.2v1.2h-1.2zM88.5 305.8h1.2v1.2h-1.2zM106.2 310.9h1.2v1.2h-1.2zM94.0 307.1h1.2v1.2h-1.2zM118.1 305.7h1.2v1.2h-1.2zM119.0 307.1h1.2v1.2h-1.2zM98.1 308.9h1.2v1.2h-1.2zM102.8 311.5h1.2v1.2h-1.2zM107.3 310.9h1.2v1.2h-1.2zM87.7 307.3h1.2v1.2h-1.2zM93.3 305.9h1.2v1.2h-1.2zM100.7 310.7h1.2v1.2h-1.2zM104.3 311.1h1.2v1.2h-1.2zM87.7 306.5h1.2v1.2h-1.2zM110.7 307.6h1.2v1.2h-1.2zM100.7 311.5h1.2v1.2h-1.2zM107.2 311.5h1.2v1.2h-1.2zM114.1 305.5h1.2v1.2h-1.2zM112.1 305.7h1.2v1.2h-1.2zM100.8 311.5h1.2v1.2h-1.2zM117.1 306.5h1.2v1.2h-1.2zM112.8 306.9h1.2v1.2h-1.2zM111.3 307.4h1.2v1.2h-1.2zM102.9 310.8h1.2v1.2h-1.2zM108.5 310.0h1.2v1.2h-1.2zM108.0 310.2h1.2v1.2h-1.2zM109.4 307.5h1.2v1.2h-1.2zM98.5 310.1h1.2v1.2h-1.2zM105.0 311.5h1.2v1.2h-1.2zM100.2 309.5h1.2v1.2h-1.2zM110.6 308.4h1.2v1.2h-1.2zM112.6 306.1h1.2v1.2h-1.2zM107.7 310.6h1.2v1.2h-1.2zM100.6 311.5h1.2v1.2h-1.2zM88.9 306.3h1.2v1.2h-1.2zM90.5 307.6h1.2v1.2h-1.2zM105.6 311.5h1.2v1.2h-1.2zM106.2 311.3h1.2v1.2h-1.2zM120.4 306.8h1.2v1.2h-1.2zM89.8 306.4h1.2v1.2h-1.2zM88.7 305.7h1.2v1.2h-1.2zM103.0 311.1h1.2v1.2h-1.2zM107.6 309.8h1.2v1.2h-1.2zM89.2 305.8h1.2v1.2h-1.2zM104.8 311.5h1.2v1.2h-1.2zM96.8 309.2h1.2v1.2h-1.2zM96.7 309.0h1.2v1.2h-1.2zM87.7 305.4h1.2v1.2h-1.2zM92.4 305.4h1.2v1.2h-1.2zM117.2 305.4h1.2v1.2h-1.2zM120.2 305.8h1.2v1.2h-1.2zM117.4 306.4h1.2v1.2h-1.2zM119.7 305.5h1.2v1.2h-1.2zM118.5 305.6h1.2v1.2h-1.2zM119.9 306.0h1.2v1.2h-1.2zM91.1 306.2h1.2v1.2h-1.2zM94.0 306.6h1.2v1.2h-1.2zM91.4 306.8h1.2v1.2h-1.2zM102.4 311.0h1.2v1.2h-1.2zM96.0 308.4h1.2v1.2h-1.2zM113.2 309.0h1.2v1.2h-1.2zM119.0 306.1h1.2v1.2h-1.2zM91.0 306.5h1.2v1.2h-1.2zM108.1 310.8h1.2v1.2h-1.2zM110.1 308.4h1.2v1.2h-1.2zM106.1 311.5h1.2v1.2h-1.2zM112.3 307.5h1.2v1.2h-1.2zM119.9 307.2h1.2v1.2h-1.2zM88.5 306.2h1.2v1.2h-1.2zM101.4 310.9h1.2v1.2h-1.2zM108.0 309.6h1.2v1.2h-1.2zM89.6 306.7h1.2v1.2h-1.2zM105.6 310.8h1.2v1.2h-1.2zM108.3 310.9h1.2v1.2h-1.2zM94.2 306.3h1.2v1.2h-1.2zM115.2 305.9h1.2v1.2h-1.2zM114.2 306.6h1.2v1.2h-1.2zM94.3 306.8h1.2v1.2h-1.2zM114.2 306.4h1.2v1.2h-1.2zM120.2 306.0h1.2v1.2h-1.2zM112.1 306.9h1.2v1.2h-1.2zM99.5 310.7h1.2v1.2h-1.2zM90.5 305.7h1.2v1.2h-1.2zM90.0 305.9h1.2v1.2h-1.2zM110.1 309.3h1.2v1.2h-1.2zM89.8 305.7h1.2v1.2h-1.2zM89.9 305.9h1.2v1.2h-1.2zM110.4 307.4h1.2v1.2h-1.2zM96.7 308.2h1.2v1.2h-1.2zM111.4 308.2h1.2v1.2h-1.2zM110.9 309.8h1.2v1.2h-1.2zM118.6 306.3h1.2v1.2h-1.2zM114.0 305.7h1.2v1.2h-1.2zM100.6 310.1h1.2v1.2h-1.2zM118.4 305.9h1.2v1.2h-1.2zM99.3 310.6h1.2v1.2h-1.2zM100.4 310.2h1.2v1.2h-1.2zM100.2 310.2h1.2v1.2h-1.2zM113.8 307.3h1.2v1.2h-1.2zM106.0 311.5h1.2v1.2h-1.2zM93.1 307.5h1.2v1.2h-1.2zM96.6 307.0h1.2v1.2h-1.2zM105.4 311.5h1.2v1.2h-1.2zM108.9 310.7h1.2v1.2h-1.2zM114.0 305.9h1.2v1.2h-1.2zM113.5 305.6h1.2v1.2h-1.2zM111.8 307.2h1.2v1.2h-1.2zM108.4 309.4h1.2v1.2h-1.2zM108.9 308.8h1.2v1.2h-1.2zM95.4 307.9h1.2v1.2h-1.2zM104.6 311.5h1.2v1.2h-1.2zM98.5 310.3h1.2v1.2h-1.2zM119.5 306.4h1.2v1.2h-1.2zM105.1 311.5h1.2v1.2h-1.2zM117.7 307.0h1.2v1.2h-1.2zM109.5 308.6h1.2v1.2h-1.2zM115.7 307.2h1.2v1.2h-1.2zM116.9 305.8h1.2v1.2h-1.2zM104.7 311.5h1.2v1.2h-1.2zM101.3 311.5h1.2v1.2h-1.2zM101.2 310.3h1.2v1.2h-1.2zM120.3 305.8h1.2v1.2h-1.2zM94.0 306.2h1.2v1.2h-1.2zM119.6 306.2h1.2v1.2h-1.2zM91.1 306.5h1.2v1.2h-1.2zM93.2 306.4h1.2v1.2h-1.2zM106.7 310.7h1.2v1.2h-1.2zM117.5 305.5h1.2v1.2h-1.2zM93.4 306.1h1.2v1.2h-1.2zM111.1 308.8h1.2v1.2h-1.2zM93.4 306.0h1.2v1.2h-1.2zM112.5 308.0h1.2v1.2h-1.2zM114.5 305.5h1.2v1.2h-1.2zM116.8 305.9h1.2v1.2h-1.2zM105.5 310.5h1.2v1.2h-1.2zM94.6 308.1h1.2v1.2h-1.2zM114.0 306.3h1.2v1.2h-1.2zM104.4 310.9h1.2v1.2h-1.2zM96.4 306.5h1.2v1.2h-1.2zM95.1 305.5h1.2v1.2h-1.2zM99.6 309.9h1.2v1.2h-1.2zM107.4 311.5h1.2v1.2h-1.2zM92.5 306.1h1.2v1.2h-1.2zM95.9 307.3h1.2v1.2h-1.2zM108.5 309.5h1.2v1.2h-1.2zM105.1 311.5h1.2v1.2h-1.2zM92.2 305.5h1.2v1.2h-1.2zM114.6 307.0h1.2v1.2h-1.2zM90.0 307.0h1.2v1.2h-1.2zM90.5 305.5h1.2v1.2h-1.2zM119.1 306.4h1.2v1.2h-1.2zM97.3 308.4h1.2v1.2h-1.2zM117.8 307.0h1.2v1.2h-1.2zM94.2 306.6h1.2v1.2h-1.2zM92.5 305.8h1.2v1.2h-1.2zM97.6 309.4h1.2v1.2h-1.2zM89.8 306.5h1.2v1.2h-1.2zM111.1 309.9h1.2v1.2h-1.2zM90.8 306.1h1.2v1.2h-1.2zM119.5 306.7h1.2v1.2h-1.2zM87.6 306.5h1.2v1.2h-1.2zM95.1 307.4h1.2v1.2h-1.2zM87.6 305.5h1.2v1.2h-1.2zM94.1 306.0h1.2v1.2h-1.2zM99.8 311.1h1.2v1.2h-1.2zM98.5 309.7h1.2v1.2h-1.2zM100.3 311.0h1.2v1.2h-1.2zM93.9 305.5h1.2v1.2h-1.2zM118.7 306.9h1.2v1.2h-1.2zM98.3 309.9h1.2v1.2h-1.2zM114.8 305.7h1.2v1.2h-1.2zM90.4 306.8h1.2v1.2h-1.2zM93.2 306.5h1.2v1.2h-1.2zM107.0 310.4h1.2v1.2h-1.2zM92.5 306.1h1.2v1.2h-1.2zM89.6 306.3h1.2v1.2h-1.2zM104.3 311.5h1.2v1.2h-1.2zM108.8 309.7h1.2v1.2h-1.2zM100.1 311.5h1.2v1.2h-1.2zM98.3 309.5h1.2v1.2h-1.2zM100.6 310.7h1.2v1.2h-1.2zM110.6 307.0h1.2v1.2h-1.2zM109.2 309.7h1.2v1.2h-1.2zM107.5 309.9h1.2v1.2h-1.2zM98.6 309.6h1.2v1.2h-1.2zM108.9 309.2h1.2v1.2h-1.2zM104.2 311.1h1.2v1.2h-1.2zM113.5 306.6h1.2v1.2h-1.2zM92.5 307.6h1.2v1.2h-1.2zM105.5 311.5h1.2v1.2h-1.2zM92.0 306.1h1.2v1.2h-1.2zM104.4 311.5h1.2v1.2h-1.2zM111.1 308.2h1.2v1.2h-1.2zM118.7 305.9h1.2v1.2h-1.2zM90.0 306.7h1.2v1.2h-1.2zM110.5 309.4h1.2v1.2h-1.2zM99.3 308.4h1.2v1.2h-1.2zM102.7 309.9h1.2v1.2h-1.2zM91.7 306.5h1.2v1.2h-1.2zM105.9 311.5h1.2v1.2h-1.2zM105.9 311.5h1.2v1.2h-1.2zM120.3 306.0h1.2v1.2h-1.2zM91.3 305.8h1.2v1.2h-1.2zM117.1 305.5h1.2v1.2h-1.2zM114.9 305.9h1.2v1.2h-1.2zM89.8 306.0h1.2v1.2h-1.2zM120.1 306.8h1.2v1.2h-1.2zM97.5 309.1h1.2v1.2h-1.2zM109.6 309.4h1.2v1.2h-1.2zM107.0 311.5h1.2v1.2h-1.2z" fill="#6fb4ee"/>
<path d="M87.5 289.8h1.2v1.2h-1.2zM91.5 299.2h1.2v1.2h-1.2zM92.2 304.2h1.2v1.2h-1.2zM95.7 303.9h1.2v1.2h-1.2zM90.5 298.0h1.2v1.2h-1.2zM95.4 301.8h1.2v1.2h-1.2zM91.9 294.8h1.2v1.2h-1.2zM94.8 304.2h1.2v1.2h-1.2zM81.2 284.2h1.2v1.2h-1.2zM90.7 300.4h1.2v1.2h-1.2zM88.0 295.3h1.2v1.2h-1.2zM84.0 291.5h1.2v1.2h-1.2zM95.0 298.8h1.2v1.2h-1.2zM85.1 288.0h1.2v1.2h-1.2zM89.7 300.4h1.2v1.2h-1.2zM85.2 286.2h1.2v1.2h-1.2zM88.5 297.9h1.2v1.2h-1.2zM83.9 286.2h1.2v1.2h-1.2zM95.9 302.0h1.2v1.2h-1.2zM85.4 286.4h1.2v1.2h-1.2zM84.7 292.1h1.2v1.2h-1.2zM91.1 302.3h1.2v1.2h-1.2zM90.6 296.2h1.2v1.2h-1.2zM92.1 299.6h1.2v1.2h-1.2zM90.4 298.4h1.2v1.2h-1.2zM88.5 293.3h1.2v1.2h-1.2zM90.7 297.9h1.2v1.2h-1.2zM93.9 300.7h1.2v1.2h-1.2zM96.9 303.2h1.2v1.2h-1.2zM84.7 283.9h1.2v1.2h-1.2zM90.0 294.1h1.2v1.2h-1.2zM84.6 289.8h1.2v1.2h-1.2zM93.6 303.4h1.2v1.2h-1.2zM81.7 286.3h1.2v1.2h-1.2zM94.6 304.5h1.2v1.2h-1.2zM89.5 297.6h1.2v1.2h-1.2zM84.7 284.5h1.2v1.2h-1.2zM93.1 302.3h1.2v1.2h-1.2zM96.8 301.9h1.2v1.2h-1.2zM87.6 289.4h1.2v1.2h-1.2zM90.5 300.7h1.2v1.2h-1.2zM96.5 304.8h1.2v1.2h-1.2zM95.9 304.9h1.2v1.2h-1.2zM90.0 298.5h1.2v1.2h-1.2zM85.8 285.1h1.2v1.2h-1.2zM93.5 303.6h1.2v1.2h-1.2zM96.9 302.4h1.2v1.2h-1.2zM91.9 303.7h1.2v1.2h-1.2zM84.2 288.6h1.2v1.2h-1.2zM95.8 304.0h1.2v1.2h-1.2zM86.1 287.1h1.2v1.2h-1.2zM89.1 295.1h1.2v1.2h-1.2zM94.3 303.8h1.2v1.2h-1.2zM93.9 304.5h1.2v1.2h-1.2zM85.9 292.3h1.2v1.2h-1.2zM88.9 287.5h1.2v1.2h-1.2zM89.8 292.7h1.2v1.2h-1.2zM85.8 285.0h1.2v1.2h-1.2zM92.9 299.7h1.2v1.2h-1.2zM93.7 302.2h1.2v1.2h-1.2zM88.3 292.8h1.2v1.2h-1.2zM94.8 303.2h1.2v1.2h-1.2zM89.1 294.2h1.2v1.2h-1.2zM86.8 294.3h1.2v1.2h-1.2zM83.4 287.0h1.2v1.2h-1.2zM92.3 302.3h1.2v1.2h-1.2zM83.0 285.4h1.2v1.2h-1.2zM87.6 294.9h1.2v1.2h-1.2zM96.5 304.6h1.2v1.2h-1.2zM90.4 297.8h1.2v1.2h-1.2zM93.2 297.7h1.2v1.2h-1.2zM94.0 302.6h1.2v1.2h-1.2zM93.8 303.0h1.2v1.2h-1.2zM92.4 302.6h1.2v1.2h-1.2zM87.1 291.4h1.2v1.2h-1.2zM91.9 297.3h1.2v1.2h-1.2zM95.8 303.8h1.2v1.2h-1.2zM90.9 304.8h1.2v1.2h-1.2zM91.4 299.3h1.2v1.2h-1.2zM81.7 285.3h1.2v1.2h-1.2zM92.1 298.5h1.2v1.2h-1.2zM91.2 294.7h1.2v1.2h-1.2zM90.6 301.3h1.2v1.2h-1.2zM87.8 298.1h1.2v1.2h-1.2zM92.6 298.3h1.2v1.2h-1.2zM88.2 298.0h1.2v1.2h-1.2zM84.8 284.5h1.2v1.2h-1.2zM97.1 304.0h1.2v1.2h-1.2zM89.7 295.8h1.2v1.2h-1.2zM88.9 290.8h1.2v1.2h-1.2zM86.9 290.4h1.2v1.2h-1.2zM89.7 298.7h1.2v1.2h-1.2zM91.6 303.4h1.2v1.2h-1.2zM93.3 304.8h1.2v1.2h-1.2zM89.1 296.1h1.2v1.2h-1.2zM82.3 287.4h1.2v1.2h-1.2zM94.2 303.9h1.2v1.2h-1.2zM91.3 298.6h1.2v1.2h-1.2zM90.3 299.9h1.2v1.2h-1.2zM86.8 290.0h1.2v1.2h-1.2zM96.6 304.7h1.2v1.2h-1.2zM89.0 297.4h1.2v1.2h-1.2zM86.5 290.2h1.2v1.2h-1.2zM94.1 302.2h1.2v1.2h-1.2zM93.4 304.8h1.2v1.2h-1.2zM93.2 297.9h1.2v1.2h-1.2zM92.6 302.9h1.2v1.2h-1.2zM85.4 289.2h1.2v1.2h-1.2zM94.0 304.0h1.2v1.2h-1.2zM89.4 293.4h1.2v1.2h-1.2zM85.8 288.9h1.2v1.2h-1.2zM91.3 300.4h1.2v1.2h-1.2zM93.6 301.3h1.2v1.2h-1.2zM94.8 304.8h1.2v1.2h-1.2zM91.5 298.7h1.2v1.2h-1.2zM88.3 304.2h1.2v1.2h-1.2zM91.5 299.5h1.2v1.2h-1.2zM93.0 303.2h1.2v1.2h-1.2zM85.8 286.8h1.2v1.2h-1.2zM94.7 302.4h1.2v1.2h-1.2zM92.3 300.1h1.2v1.2h-1.2zM82.5 282.7h1.2v1.2h-1.2zM86.8 291.1h1.2v1.2h-1.2zM92.0 303.0h1.2v1.2h-1.2zM90.4 297.2h1.2v1.2h-1.2zM85.9 285.2h1.2v1.2h-1.2zM89.6 301.3h1.2v1.2h-1.2zM94.2 295.7h1.2v1.2h-1.2zM92.1 304.8h1.2v1.2h-1.2zM96.1 304.8h1.2v1.2h-1.2zM91.3 301.6h1.2v1.2h-1.2zM86.0 296.2h1.2v1.2h-1.2zM82.6 286.9h1.2v1.2h-1.2zM85.9 288.5h1.2v1.2h-1.2zM92.6 301.0h1.2v1.2h-1.2zM91.3 301.6h1.2v1.2h-1.2zM92.8 303.8h1.2v1.2h-1.2zM93.4 303.6h1.2v1.2h-1.2zM92.1 303.5h1.2v1.2h-1.2zM92.0 299.6h1.2v1.2h-1.2zM80.6 282.8h1.2v1.2h-1.2zM90.2 303.6h1.2v1.2h-1.2zM95.1 300.9h1.2v1.2h-1.2zM93.9 301.3h1.2v1.2h-1.2zM94.6 302.7h1.2v1.2h-1.2zM93.5 302.9h1.2v1.2h-1.2zM95.0 300.7h1.2v1.2h-1.2zM91.9 302.8h1.2v1.2h-1.2zM95.2 301.3h1.2v1.2h-1.2zM96.4 301.3h1.2v1.2h-1.2zM86.2 291.1h1.2v1.2h-1.2zM90.2 304.9h1.2v1.2h-1.2zM92.3 302.0h1.2v1.2h-1.2zM85.2 287.0h1.2v1.2h-1.2zM93.2 301.9h1.2v1.2h-1.2zM92.0 304.8h1.2v1.2h-1.2zM92.2 300.7h1.2v1.2h-1.2zM94.7 304.2h1.2v1.2h-1.2zM91.4 296.1h1.2v1.2h-1.2zM92.2 300.1h1.2v1.2h-1.2zM92.4 297.4h1.2v1.2h-1.2zM95.8 302.9h1.2v1.2h-1.2zM87.0 292.4h1.2v1.2h-1.2zM92.8 303.6h1.2v1.2h-1.2zM92.8 302.6h1.2v1.2h-1.2zM90.3 300.9h1.2v1.2h-1.2zM85.2 287.6h1.2v1.2h-1.2zM94.3 301.6h1.2v1.2h-1.2zM94.2 303.5h1.2v1.2h-1.2zM89.2 295.2h1.2v1.2h-1.2zM92.1 296.9h1.2v1.2h-1.2zM88.0 302.4h1.2v1.2h-1.2zM89.7 294.0h1.2v1.2h-1.2zM87.5 293.5h1.2v1.2h-1.2zM92.4 294.1h1.2v1.2h-1.2zM92.5 303.3h1.2v1.2h-1.2zM90.9 295.1h1.2v1.2h-1.2zM93.3 300.7h1.2v1.2h-1.2zM93.1 304.8h1.2v1.2h-1.2zM92.2 298.5h1.2v1.2h-1.2zM94.4 302.6h1.2v1.2h-1.2zM93.0 299.0h1.2v1.2h-1.2zM93.3 304.0h1.2v1.2h-1.2zM93.1 304.6h1.2v1.2h-1.2zM91.7 301.7h1.2v1.2h-1.2zM90.4 296.4h1.2v1.2h-1.2zM85.1 293.1h1.2v1.2h-1.2zM93.5 304.9h1.2v1.2h-1.2zM91.8 300.8h1.2v1.2h-1.2zM92.6 300.5h1.2v1.2h-1.2zM91.8 304.8h1.2v1.2h-1.2zM91.4 299.2h1.2v1.2h-1.2zM92.9 301.9h1.2v1.2h-1.2zM93.1 301.6h1.2v1.2h-1.2zM83.0 286.7h1.2v1.2h-1.2zM87.9 294.1h1.2v1.2h-1.2zM91.2 303.8h1.2v1.2h-1.2zM83.7 284.3h1.2v1.2h-1.2zM88.3 301.3h1.2v1.2h-1.2zM84.6 290.9h1.2v1.2h-1.2zM87.7 295.2h1.2v1.2h-1.2zM90.6 300.3h1.2v1.2h-1.2zM95.3 302.7h1.2v1.2h-1.2zM88.7 300.9h1.2v1.2h-1.2zM85.2 286.0h1.2v1.2h-1.2zM91.1 298.3h1.2v1.2h-1.2zM89.5 302.2h1.2v1.2h-1.2zM96.1 304.2h1.2v1.2h-1.2zM94.3 303.7h1.2v1.2h-1.2zM96.6 303.3h1.2v1.2h-1.2zM92.6 304.9h1.2v1.2h-1.2zM93.0 303.2h1.2v1.2h-1.2zM89.6 298.6h1.2v1.2h-1.2zM87.2 295.3h1.2v1.2h-1.2zM92.7 297.0h1.2v1.2h-1.2zM88.2 301.8h1.2v1.2h-1.2zM94.0 301.6h1.2v1.2h-1.2zM86.6 292.6h1.2v1.2h-1.2zM86.1 293.3h1.2v1.2h-1.2zM81.0 289.1h1.2v1.2h-1.2zM92.4 304.1h1.2v1.2h-1.2zM88.5 296.9h1.2v1.2h-1.2zM91.7 301.2h1.2v1.2h-1.2zM93.8 297.7h1.2v1.2h-1.2zM93.6 303.2h1.2v1.2h-1.2zM95.7 303.9h1.2v1.2h-1.2zM91.3 298.2h1.2v1.2h-1.2zM94.9 304.7h1.2v1.2h-1.2zM94.0 304.5h1.2v1.2h-1.2zM90.6 299.6h1.2v1.2h-1.2zM85.6 290.9h1.2v1.2h-1.2zM85.1 287.6h1.2v1.2h-1.2zM86.4 287.5h1.2v1.2h-1.2zM91.4 298.3h1.2v1.2h-1.2zM83.8 290.1h1.2v1.2h-1.2zM95.5 303.0h1.2v1.2h-1.2zM86.9 292.7h1.2v1.2h-1.2zM88.6 291.3h1.2v1.2h-1.2zM86.7 288.5h1.2v1.2h-1.2zM89.6 300.2h1.2v1.2h-1.2zM85.2 292.9h1.2v1.2h-1.2zM83.6 289.9h1.2v1.2h-1.2zM92.1 304.4h1.2v1.2h-1.2zM95.7 303.3h1.2v1.2h-1.2zM96.6 303.8h1.2v1.2h-1.2zM83.7 284.9h1.2v1.2h-1.2zM84.9 283.7h1.2v1.2h-1.2zM94.2 300.2h1.2v1.2h-1.2zM85.4 295.1h1.2v1.2h-1.2zM85.2 283.0h1.2v1.2h-1.2zM94.2 304.8h1.2v1.2h-1.2zM93.5 304.8h1.2v1.2h-1.2zM92.5 302.5h1.2v1.2h-1.2zM87.9 304.4h1.2v1.2h-1.2zM95.3 301.9h1.2v1.2h-1.2zM91.6 298.9h1.2v1.2h-1.2zM91.1 301.1h1.2v1.2h-1.2zM88.9 288.6h1.2v1.2h-1.2zM91.1 302.6h1.2v1.2h-1.2zM88.6 291.1h1.2v1.2h-1.2zM80.2 283.3h1.2v1.2h-1.2zM92.3 297.4h1.2v1.2h-1.2zM87.0 289.9h1.2v1.2h-1.2zM95.3 304.5h1.2v1.2h-1.2zM83.6 285.1h1.2v1.2h-1.2zM96.5 304.4h1.2v1.2h-1.2zM95.5 302.0h1.2v1.2h-1.2zM94.4 304.2h1.2v1.2h-1.2zM89.0 295.3h1.2v1.2h-1.2zM92.6 298.9h1.2v1.2h-1.2zM92.4 301.2h1.2v1.2h-1.2zM95.1 304.7h1.2v1.2h-1.2zM84.2 286.7h1.2v1.2h-1.2zM94.7 303.8h1.2v1.2h-1.2zM92.5 298.9h1.2v1.2h-1.2zM84.9 287.6h1.2v1.2h-1.2zM88.0 298.8h1.2v1.2h-1.2zM94.0 300.7h1.2v1.2h-1.2zM91.7 304.8h1.2v1.2h-1.2zM88.3 295.4h1.2v1.2h-1.2zM97.0 302.7h1.2v1.2h-1.2zM80.8 282.8h1.2v1.2h-1.2zM93.3 299.7h1.2v1.2h-1.2zM91.2 303.9h1.2v1.2h-1.2zM95.0 304.9h1.2v1.2h-1.2zM95.3 304.7h1.2v1.2h-1.2zM92.6 301.4h1.2v1.2h-1.2zM89.1 298.1h1.2v1.2h-1.2zM95.8 304.9h1.2v1.2h-1.2zM95.1 304.9h1.2v1.2h-1.2zM91.9 297.8h1.2v1.2h-1.2zM84.1 292.0h1.2v1.2h-1.2zM93.4 300.6h1.2v1.2h-1.2zM83.3 291.0h1.2v1.2h-1.2zM86.4 283.1h1.2v1.2h-1.2zM95.0 300.6h1.2v1.2h-1.2zM87.9 293.0h1.2v1.2h-1.2zM95.6 304.9h1.2v1.2h-1.2zM90.2 296.6h1.2v1.2h-1.2zM94.4 301.2h1.2v1.2h-1.2zM89.4 294.4h1.2v1.2h-1.2zM87.2 294.9h1.2v1.2h-1.2zM91.8 301.4h1.2v1.2h-1.2zM97.2 302.0h1.2v1.2h-1.2zM92.7 304.6h1.2v1.2h-1.2zM96.6 303.5h1.2v1.2h-1.2zM84.4 291.8h1.2v1.2h-1.2zM93.1 303.9h1.2v1.2h-1.2zM95.4 304.5h1.2v1.2h-1.2zM93.3 300.0h1.2v1.2h-1.2zM92.5 304.9h1.2v1.2h-1.2zM92.9 302.0h1.2v1.2h-1.2zM91.8 297.6h1.2v1.2h-1.2zM84.3 287.1h1.2v1.2h-1.2zM92.9 302.0h1.2v1.2h-1.2zM81.5 283.0h1.2v1.2h-1.2zM93.2 300.0h1.2v1.2h-1.2zM91.7 300.4h1.2v1.2h-1.2zM88.6 292.9h1.2v1.2h-1.2zM89.8 293.8h1.2v1.2h-1.2zM82.8 284.6h1.2v1.2h-1.2zM93.7 301.4h1.2v1.2h-1.2zM84.1 283.0h1.2v1.2h-1.2zM94.6 301.0h1.2v1.2h-1.2zM89.6 294.8h1.2v1.2h-1.2zM87.3 286.9h1.2v1.2h-1.2zM83.5 288.0h1.2v1.2h-1.2zM88.3 296.8h1.2v1.2h-1.2zM95.9 304.4h1.2v1.2h-1.2zM88.9 299.5h1.2v1.2h-1.2zM86.9 294.2h1.2v1.2h-1.2zM94.6 303.3h1.2v1.2h-1.2zM87.4 296.0h1.2v1.2h-1.2zM93.4 304.8h1.2v1.2h-1.2zM86.6 295.2h1.2v1.2h-1.2zM90.6 296.1h1.2v1.2h-1.2zM85.0 285.2h1.2v1.2h-1.2zM84.2 282.8h1.2v1.2h-1.2zM86.1 292.0h1.2v1.2h-1.2zM85.4 283.0h1.2v1.2h-1.2zM92.8 300.6h1.2v1.2h-1.2zM81.6 282.9h1.2v1.2h-1.2zM91.5 298.7h1.2v1.2h-1.2zM92.7 294.6h1.2v1.2h-1.2zM85.2 285.0h1.2v1.2h-1.2zM87.7 298.2h1.2v1.2h-1.2zM86.0 282.8h1.2v1.2h-1.2zM89.4 292.8h1.2v1.2h-1.2zM94.3 303.0h1.2v1.2h-1.2zM88.4 297.6h1.2v1.2h-1.2zM85.5 287.7h1.2v1.2h-1.2zM90.5 294.8h1.2v1.2h-1.2zM91.1 304.7h1.2v1.2h-1.2zM89.9 298.7h1.2v1.2h-1.2zM94.8 303.2h1.2v1.2h-1.2zM83.1 290.9h1.2v1.2h-1.2zM93.3 297.3h1.2v1.2h-1.2zM92.1 304.1h1.2v1.2h-1.2zM92.9 301.2h1.2v1.2h-1.2zM93.0 301.6h1.2v1.2h-1.2zM85.5 287.7h1.2v1.2h-1.2zM93.1 303.9h1.2v1.2h-1.2zM93.9 300.8h1.2v1.2h-1.2zM82.0 286.3h1.2v1.2h-1.2zM95.8 304.7h1.2v1.2h-1.2zM89.0 295.2h1.2v1.2h-1.2zM84.6 287.3h1.2v1.2h-1.2zM87.2 294.1h1.2v1.2h-1.2zM93.6 300.0h1.2v1.2h-1.2zM93.1 302.1h1.2v1.2h-1.2zM88.7 295.2h1.2v1.2h-1.2zM90.8 293.3h1.2v1.2h-1.2zM96.1 303.9h1.2v1.2h-1.2zM93.6 299.2h1.2v1.2h-1.2zM96.7 304.3h1.2v1.2h-1.2zM92.6 295.7h1.2v1.2h-1.2zM94.7 301.4h1.2v1.2h-1.2zM94.3 293.4h1.2v1.2h-1.2zM86.3 292.0h1.2v1.2h-1.2zM93.4 300.4h1.2v1.2h-1.2zM92.7 304.2h1.2v1.2h-1.2zM84.3 289.3h1.2v1.2h-1.2zM89.7 300.4h1.2v1.2h-1.2zM84.1 284.8h1.2v1.2h-1.2zM92.3 301.6h1.2v1.2h-1.2zM88.5 296.5h1.2v1.2h-1.2zM94.4 302.6h1.2v1.2h-1.2zM84.0 288.1h1.2v1.2h-1.2zM83.9 293.8h1.2v1.2h-1.2zM93.6 300.8h1.2v1.2h-1.2zM85.5 291.8h1.2v1.2h-1.2zM93.1 304.7h1.2v1.2h-1.2zM91.5 300.2h1.2v1.2h-1.2zM85.3 284.3h1.2v1.2h-1.2zM92.1 302.4h1.2v1.2h-1.2zM90.7 303.1h1.2v1.2h-1.2zM94.9 300.4h1.2v1.2h-1.2zM96.6 303.0h1.2v1.2h-1.2zM89.9 300.2h1.2v1.2h-1.2zM88.4 288.2h1.2v1.2h-1.2zM88.8 296.2h1.2v1.2h-1.2zM84.1 286.5h1.2v1.2h-1.2zM93.1 304.6h1.2v1.2h-1.2zM89.1 292.4h1.2v1.2h-1.2zM86.1 294.0h1.2v1.2h-1.2zM86.8 284.5h1.2v1.2h-1.2zM93.0 304.9h1.2v1.2h-1.2zM90.9 301.3h1.2v1.2h-1.2zM90.2 299.3h1.2v1.2h-1.2zM92.2 295.8h1.2v1.2h-1.2zM89.0 283.7h1.2v1.2h-1.2zM91.3 300.7h1.2v1.2h-1.2zM83.9 289.0h1.2v1.2h-1.2zM79.7 282.6h1.2v1.2h-1.2zM92.4 304.7h1.2v1.2h-1.2zM89.2 294.4h1.2v1.2h-1.2zM95.1 303.5h1.2v1.2h-1.2zM92.4 301.2h1.2v1.2h-1.2zM91.5 304.2h1.2v1.2h-1.2zM96.4 304.6h1.2v1.2h-1.2zM92.4 304.0h1.2v1.2h-1.2zM85.1 291.8h1.2v1.2h-1.2zM94.7 303.0h1.2v1.2h-1.2zM83.7 290.7h1.2v1.2h-1.2zM93.9 304.4h1.2v1.2h-1.2zM85.2 287.9h1.2v1.2h-1.2zM83.7 284.7h1.2v1.2h-1.2zM92.4 301.5h1.2v1.2h-1.2zM89.5 297.6h1.2v1.2h-1.2zM86.3 290.3h1.2v1.2h-1.2zM82.1 282.7h1.2v1.2h-1.2zM83.3 284.7h1.2v1.2h-1.2zM79.4 284.7h1.2v1.2h-1.2zM79.6 280.2h1.2v1.2h-1.2zM78.2 277.1h1.2v1.2h-1.2zM78.1 281.4h1.2v1.2h-1.2zM82.0 283.7h1.2v1.2h-1.2zM80.8 279.7h1.2v1.2h-1.2zM76.8 276.3h1.2v1.2h-1.2zM77.2 276.3h1.2v1.2h-1.2zM79.7 274.9h1.2v1.2h-1.2zM82.6 281.5h1.2v1.2h-1.2zM83.6 276.1h1.2v1.2h-1.2zM77.7 281.4h1.2v1.2h-1.2zM75.5 270.5h1.2v1.2h-1.2zM63.9 228.3h1.2v1.2h-1.2z" fill="#e2573f"/>
<path d="M115.4 304.2h1.2v1.2h-1.2zM116.6 294.9h1.2v1.2h-1.2zM113.6 304.1h1.2v1.2h-1.2zM113.8 304.5h1.2v1.2h-1.2zM117.8 302.6h1.2v1.2h-1.2zM121.0 291.5h1.2v1.2h-1.2zM113.0 304.8h1.2v1.2h-1.2zM115.1 303.1h1.2v1.2h-1.2zM115.4 304.5h1.2v1.2h-1.2zM115.9 299.6h1.2v1.2h-1.2zM122.4 296.3h1.2v1.2h-1.2zM114.5 298.1h1.2v1.2h-1.2zM118.5 299.4h1.2v1.2h-1.2zM113.8 302.6h1.2v1.2h-1.2zM119.8 294.3h1.2v1.2h-1.2zM118.0 300.7h1.2v1.2h-1.2zM115.3 299.8h1.2v1.2h-1.2zM118.0 300.3h1.2v1.2h-1.2zM114.1 304.8h1.2v1.2h-1.2zM116.6 298.9h1.2v1.2h-1.2zM116.3 298.5h1.2v1.2h-1.2zM114.7 304.5h1.2v1.2h-1.2zM114.7 301.6h1.2v1.2h-1.2zM116.6 303.4h1.2v1.2h-1.2zM119.8 294.0h1.2v1.2h-1.2zM115.9 301.0h1.2v1.2h-1.2zM126.2 288.1h1.2v1.2h-1.2zM123.6 288.3h1.2v1.2h-1.2zM114.0 301.7h1.2v1.2h-1.2zM113.9 302.6h1.2v1.2h-1.2zM116.7 297.2h1.2v1.2h-1.2zM115.9 299.5h1.2v1.2h-1.2zM117.1 299.1h1.2v1.2h-1.2zM113.2 304.6h1.2v1.2h-1.2zM114.2 303.2h1.2v1.2h-1.2zM119.6 300.7h1.2v1.2h-1.2zM120.4 291.1h1.2v1.2h-1.2zM120.0 295.7h1.2v1.2h-1.2zM117.5 304.6h1.2v1.2h-1.2zM114.8 302.2h1.2v1.2h-1.2zM116.6 302.4h1.2v1.2h-1.2zM115.4 296.5h1.2v1.2h-1.2zM113.8 304.8h1.2v1.2h-1.2zM117.7 296.9h1.2v1.2h-1.2zM120.0 298.4h1.2v1.2h-1.2zM112.4 304.9h1.2v1.2h-1.2zM123.0 289.1h1.2v1.2h-1.2zM111.0 304.9h1.2v1.2h-1.2zM117.3 294.3h1.2v1.2h-1.2zM125.3 287.6h1.2v1.2h-1.2zM125.8 289.6h1.2v1.2h-1.2zM117.8 300.5h1.2v1.2h-1.2zM118.5 294.0h1.2v1.2h-1.2zM117.7 300.5h1.2v1.2h-1.2zM112.5 304.4h1.2v1.2h-1.2zM116.7 304.7h1.2v1.2h-1.2zM115.4 304.4h1.2v1.2h-1.2zM114.9 298.5h1.2v1.2h-1.2zM115.2 304.5h1.2v1.2h-1.2zM124.5 288.5h1.2v1.2h-1.2zM118.8 298.3h1.2v1.2h-1.2zM115.3 300.9h1.2v1.2h-1.2zM117.8 298.7h1.2v1.2h-1.2zM121.1 290.8h1.2v1.2h-1.2zM118.7 299.9h1.2v1.2h-1.2zM116.1 301.5h1.2v1.2h-1.2zM121.1 295.8h1.2v1.2h-1.2zM118.2 295.4h1.2v1.2h-1.2zM115.9 301.3h1.2v1.2h-1.2zM119.0 294.2h1.2v1.2h-1.2zM113.0 304.1h1.2v1.2h-1.2zM114.7 302.0h1.2v1.2h-1.2zM112.5 304.1h1.2v1.2h-1.2zM119.3 299.0h1.2v1.2h-1.2zM112.3 301.3h1.2v1.2h-1.2zM113.7 301.8h1.2v1.2h-1.2zM112.3 297.8h1.2v1.2h-1.2zM115.9 302.2h1.2v1.2h-1.2zM119.5 295.3h1.2v1.2h-1.2zM121.3 294.5h1.2v1.2h-1.2zM117.7 298.0h1.2v1.2h-1.2zM121.9 292.1h1.2v1.2h-1.2zM115.2 301.5h1.2v1.2h-1.2zM116.2 297.1h1.2v1.2h-1.2zM121.9 298.3h1.2v1.2h-1.2zM115.7 300.2h1.2v1.2h-1.2zM117.1 299.7h1.2v1.2h-1.2zM117.2 304.5h1.2v1.2h-1.2zM115.3 302.5h1.2v1.2h-1.2zM118.9 295.2h1.2v1.2h-1.2zM115.9 298.1h1.2v1.2h-1.2zM113.5 304.2h1.2v1.2h-1.2zM123.6 288.6h1.2v1.2h-1.2zM111.2 304.6h1.2v1.2h-1.2zM120.8 293.1h1.2v1.2h-1.2zM118.6 298.8h1.2v1.2h-1.2zM120.6 297.2h1.2v1.2h-1.2zM120.2 297.8h1.2v1.2h-1.2zM125.1 290.0h1.2v1.2h-1.2zM114.1 301.7h1.2v1.2h-1.2zM123.0 288.6h1.2v1.2h-1.2zM120.1 291.2h1.2v1.2h-1.2zM119.6 294.6h1.2v1.2h-1.2zM115.2 304.9h1.2v1.2h-1.2zM117.2 298.7h1.2v1.2h-1.2zM116.3 303.2h1.2v1.2h-1.2zM112.4 304.3h1.2v1.2h-1.2zM115.0 302.8h1.2v1.2h-1.2zM110.8 302.9h1.2v1.2h-1.2zM113.9 304.1h1.2v1.2h-1.2zM123.4 291.1h1.2v1.2h-1.2zM115.2 298.6h1.2v1.2h-1.2zM117.0 294.4h1.2v1.2h-1.2zM122.1 289.5h1.2v1.2h-1.2zM120.4 293.4h1.2v1.2h-1.2zM123.7 289.0h1.2v1.2h-1.2zM115.8 301.7h1.2v1.2h-1.2zM114.9 300.3h1.2v1.2h-1.2zM114.9 301.6h1.2v1.2h-1.2zM112.2 299.3h1.2v1.2h-1.2zM116.8 298.1h1.2v1.2h-1.2zM124.4 288.6h1.2v1.2h-1.2zM116.6 304.5h1.2v1.2h-1.2zM112.7 304.7h1.2v1.2h-1.2zM124.5 290.0h1.2v1.2h-1.2zM115.5 304.4h1.2v1.2h-1.2zM122.5 287.5h1.2v1.2h-1.2zM117.5 304.7h1.2v1.2h-1.2zM119.3 296.0h1.2v1.2h-1.2zM117.9 298.0h1.2v1.2h-1.2zM122.3 287.6h1.2v1.2h-1.2zM117.0 293.1h1.2v1.2h-1.2zM119.3 299.0h1.2v1.2h-1.2zM115.4 303.9h1.2v1.2h-1.2zM115.7 298.9h1.2v1.2h-1.2zM116.2 303.8h1.2v1.2h-1.2zM117.4 295.1h1.2v1.2h-1.2zM114.9 304.7h1.2v1.2h-1.2zM111.7 299.7h1.2v1.2h-1.2zM115.7 298.2h1.2v1.2h-1.2zM113.4 304.3h1.2v1.2h-1.2zM121.1 295.1h1.2v1.2h-1.2zM127.9 288.9h1.2v1.2h-1.2zM122.1 289.3h1.2v1.2h-1.2zM122.1 291.2h1.2v1.2h-1.2zM116.6 299.6h1.2v1.2h-1.2zM116.8 297.6h1.2v1.2h-1.2zM115.7 297.2h1.2v1.2h-1.2zM125.0 289.1h1.2v1.2h-1.2zM124.7 288.3h1.2v1.2h-1.2zM116.7 304.8h1.2v1.2h-1.2zM126.0 288.4h1.2v1.2h-1.2zM117.3 304.9h1.2v1.2h-1.2zM120.0 295.5h1.2v1.2h-1.2zM114.1 299.0h1.2v1.2h-1.2zM119.3 292.5h1.2v1.2h-1.2zM116.9 304.9h1.2v1.2h-1.2zM125.2 287.9h1.2v1.2h-1.2zM119.8 291.9h1.2v1.2h-1.2zM116.4 302.0h1.2v1.2h-1.2zM113.8 304.9h1.2v1.2h-1.2zM116.3 297.7h1.2v1.2h-1.2zM115.6 298.9h1.2v1.2h-1.2zM119.0 300.2h1.2v1.2h-1.2zM115.4 303.4h1.2v1.2h-1.2zM113.2 304.2h1.2v1.2h-1.2zM111.2 303.2h1.2v1.2h-1.2zM115.7 302.2h1.2v1.2h-1.2zM113.7 303.3h1.2v1.2h-1.2zM115.8 299.0h1.2v1.2h-1.2zM115.6 303.2h1.2v1.2h-1.2zM113.6 303.4h1.2v1.2h-1.2zM113.5 302.6h1.2v1.2h-1.2zM121.8 295.8h1.2v1.2h-1.2zM119.9 293.0h1.2v1.2h-1.2zM120.1 293.7h1.2v1.2h-1.2zM115.0 303.3h1.2v1.2h-1.2zM126.0 287.4h1.2v1.2h-1.2zM112.8 301.6h1.2v1.2h-1.2zM127.4 287.4h1.2v1.2h-1.2zM118.1 301.4h1.2v1.2h-1.2zM123.2 293.2h1.2v1.2h-1.2zM115.8 302.1h1.2v1.2h-1.2zM113.0 302.8h1.2v1.2h-1.2zM117.8 297.6h1.2v1.2h-1.2zM118.8 292.2h1.2v1.2h-1.2zM111.7 304.9h1.2v1.2h-1.2zM113.7 304.7h1.2v1.2h-1.2zM123.5 289.6h1.2v1.2h-1.2zM123.1 290.6h1.2v1.2h-1.2zM125.1 288.3h1.2v1.2h-1.2zM122.2 289.2h1.2v1.2h-1.2zM112.9 304.3h1.2v1.2h-1.2zM111.8 303.8h1.2v1.2h-1.2zM112.2 304.3h1.2v1.2h-1.2zM116.0 294.6h1.2v1.2h-1.2zM121.4 288.6h1.2v1.2h-1.2zM114.5 304.4h1.2v1.2h-1.2zM115.5 302.9h1.2v1.2h-1.2zM113.9 303.9h1.2v1.2h-1.2zM117.0 301.9h1.2v1.2h-1.2zM114.7 303.9h1.2v1.2h-1.2zM111.5 304.4h1.2v1.2h-1.2zM117.2 298.1h1.2v1.2h-1.2zM115.5 293.7h1.2v1.2h-1.2zM113.0 304.6h1.2v1.2h-1.2zM116.0 303.5h1.2v1.2h-1.2zM121.0 293.7h1.2v1.2h-1.2zM121.6 289.3h1.2v1.2h-1.2zM115.2 302.2h1.2v1.2h-1.2zM116.7 298.1h1.2v1.2h-1.2zM127.1 287.9h1.2v1.2h-1.2zM113.3 300.1h1.2v1.2h-1.2zM114.2 300.1h1.2v1.2h-1.2zM119.4 303.8h1.2v1.2h-1.2zM111.7 304.9h1.2v1.2h-1.2zM119.7 293.7h1.2v1.2h-1.2zM114.5 304.1h1.2v1.2h-1.2zM114.0 304.0h1.2v1.2h-1.2zM112.3 304.9h1.2v1.2h-1.2zM115.1 303.5h1.2v1.2h-1.2zM116.5 296.3h1.2v1.2h-1.2zM116.6 300.1h1.2v1.2h-1.2zM115.3 302.5h1.2v1.2h-1.2zM113.5 304.8h1.2v1.2h-1.2zM118.3 301.6h1.2v1.2h-1.2zM115.3 299.9h1.2v1.2h-1.2zM114.2 301.8h1.2v1.2h-1.2zM120.3 290.5h1.2v1.2h-1.2zM116.3 298.7h1.2v1.2h-1.2zM114.2 300.1h1.2v1.2h-1.2zM118.4 303.4h1.2v1.2h-1.2zM125.5 289.0h1.2v1.2h-1.2zM110.8 304.1h1.2v1.2h-1.2zM118.6 299.3h1.2v1.2h-1.2zM114.0 304.0h1.2v1.2h-1.2zM119.9 294.6h1.2v1.2h-1.2zM116.7 304.1h1.2v1.2h-1.2zM123.0 288.7h1.2v1.2h-1.2zM120.1 295.5h1.2v1.2h-1.2zM113.2 302.0h1.2v1.2h-1.2zM121.9 289.4h1.2v1.2h-1.2zM116.9 299.2h1.2v1.2h-1.2zM116.9 299.5h1.2v1.2h-1.2zM112.2 303.0h1.2v1.2h-1.2zM115.2 300.1h1.2v1.2h-1.2zM111.5 304.6h1.2v1.2h-1.2zM118.6 296.5h1.2v1.2h-1.2zM123.2 288.0h1.2v1.2h-1.2zM115.9 304.6h1.2v1.2h-1.2zM121.2 292.7h1.2v1.2h-1.2zM124.5 292.8h1.2v1.2h-1.2zM116.6 303.2h1.2v1.2h-1.2zM114.7 300.7h1.2v1.2h-1.2zM119.7 298.4h1.2v1.2h-1.2zM115.9 299.7h1.2v1.2h-1.2zM116.2 302.7h1.2v1.2h-1.2zM113.3 302.0h1.2v1.2h-1.2zM115.1 303.8h1.2v1.2h-1.2zM124.6 292.6h1.2v1.2h-1.2zM126.4 287.8h1.2v1.2h-1.2zM119.3 292.8h1.2v1.2h-1.2zM120.8 294.9h1.2v1.2h-1.2zM110.8 304.0h1.2v1.2h-1.2zM120.6 292.3h1.2v1.2h-1.2zM124.2 289.5h1.2v1.2h-1.2zM111.8 304.9h1.2v1.2h-1.2zM120.6 292.9h1.2v1.2h-1.2zM122.1 297.2h1.2v1.2h-1.2zM116.1 296.5h1.2v1.2h-1.2zM113.3 304.7h1.2v1.2h-1.2zM123.0 287.6h1.2v1.2h-1.2zM121.5 290.8h1.2v1.2h-1.2zM120.5 295.3h1.2v1.2h-1.2zM123.0 293.8h1.2v1.2h-1.2zM113.7 304.4h1.2v1.2h-1.2zM123.5 294.6h1.2v1.2h-1.2zM121.8 293.5h1.2v1.2h-1.2zM122.4 293.1h1.2v1.2h-1.2zM121.3 288.8h1.2v1.2h-1.2zM116.6 296.6h1.2v1.2h-1.2zM115.5 301.9h1.2v1.2h-1.2zM115.5 304.9h1.2v1.2h-1.2zM117.5 303.4h1.2v1.2h-1.2zM119.2 296.3h1.2v1.2h-1.2zM114.0 299.1h1.2v1.2h-1.2zM114.9 302.4h1.2v1.2h-1.2zM119.9 296.4h1.2v1.2h-1.2zM120.8 295.5h1.2v1.2h-1.2zM122.2 289.3h1.2v1.2h-1.2zM121.4 289.7h1.2v1.2h-1.2zM123.1 297.0h1.2v1.2h-1.2zM123.7 288.2h1.2v1.2h-1.2zM113.1 302.9h1.2v1.2h-1.2zM116.6 299.0h1.2v1.2h-1.2zM121.8 291.1h1.2v1.2h-1.2zM114.0 298.7h1.2v1.2h-1.2zM115.2 303.2h1.2v1.2h-1.2zM113.0 303.7h1.2v1.2h-1.2zM114.5 302.2h1.2v1.2h-1.2zM115.5 304.7h1.2v1.2h-1.2zM117.8 298.9h1.2v1.2h-1.2zM121.9 288.6h1.2v1.2h-1.2zM114.3 301.0h1.2v1.2h-1.2zM111.9 303.4h1.2v1.2h-1.2zM114.8 304.4h1.2v1.2h-1.2zM114.8 300.6h1.2v1.2h-1.2zM114.4 298.4h1.2v1.2h-1.2zM122.6 296.5h1.2v1.2h-1.2zM113.0 303.2h1.2v1.2h-1.2zM119.8 298.6h1.2v1.2h-1.2zM114.2 303.8h1.2v1.2h-1.2zM121.4 293.6h1.2v1.2h-1.2zM117.8 298.4h1.2v1.2h-1.2zM114.2 302.9h1.2v1.2h-1.2zM112.0 302.3h1.2v1.2h-1.2zM118.4 293.6h1.2v1.2h-1.2zM113.9 300.2h1.2v1.2h-1.2zM117.9 300.6h1.2v1.2h-1.2zM124.8 288.5h1.2v1.2h-1.2zM122.9 290.4h1.2v1.2h-1.2zM115.0 303.0h1.2v1.2h-1.2zM118.3 295.3h1.2v1.2h-1.2zM116.5 300.7h1.2v1.2h-1.2zM117.6 298.0h1.2v1.2h-1.2zM116.6 296.4h1.2v1.2h-1.2zM118.6 295.6h1.2v1.2h-1.2zM119.1 294.9h1.2v1.2h-1.2zM116.1 304.4h1.2v1.2h-1.2zM114.4 304.9h1.2v1.2h-1.2zM112.0 304.7h1.2v1.2h-1.2zM115.3 304.5h1.2v1.2h-1.2zM124.7 288.5h1.2v1.2h-1.2zM116.0 297.7h1.2v1.2h-1.2zM116.1 302.4h1.2v1.2h-1.2zM114.9 302.5h1.2v1.2h-1.2zM116.0 303.5h1.2v1.2h-1.2zM114.2 301.0h1.2v1.2h-1.2zM117.0 301.2h1.2v1.2h-1.2zM119.7 293.0h1.2v1.2h-1.2zM117.7 295.0h1.2v1.2h-1.2zM116.8 300.5h1.2v1.2h-1.2zM115.2 300.3h1.2v1.2h-1.2zM118.5 301.0h1.2v1.2h-1.2zM115.3 302.5h1.2v1.2h-1.2zM114.4 299.9h1.2v1.2h-1.2zM120.2 290.6h1.2v1.2h-1.2zM122.9 290.1h1.2v1.2h-1.2zM124.2 287.8h1.2v1.2h-1.2zM117.0 295.9h1.2v1.2h-1.2zM119.0 294.2h1.2v1.2h-1.2zM126.3 288.6h1.2v1.2h-1.2zM117.7 296.2h1.2v1.2h-1.2zM116.9 296.3h1.2v1.2h-1.2zM114.8 303.5h1.2v1.2h-1.2zM121.3 287.7h1.2v1.2h-1.2zM115.2 302.0h1.2v1.2h-1.2zM115.6 300.9h1.2v1.2h-1.2zM120.2 293.6h1.2v1.2h-1.2zM117.2 303.5h1.2v1.2h-1.2zM117.2 301.2h1.2v1.2h-1.2zM122.6 289.7h1.2v1.2h-1.2zM110.9 304.7h1.2v1.2h-1.2zM119.6 291.7h1.2v1.2h-1.2zM113.1 301.3h1.2v1.2h-1.2zM118.5 293.7h1.2v1.2h-1.2zM118.7 294.1h1.2v1.2h-1.2zM118.7 295.1h1.2v1.2h-1.2zM111.9 298.2h1.2v1.2h-1.2zM112.4 304.3h1.2v1.2h-1.2zM119.1 293.2h1.2v1.2h-1.2zM126.1 288.6h1.2v1.2h-1.2zM112.6 302.9h1.2v1.2h-1.2zM115.8 299.5h1.2v1.2h-1.2zM111.1 304.0h1.2v1.2h-1.2zM115.9 296.0h1.2v1.2h-1.2zM115.6 302.7h1.2v1.2h-1.2zM112.1 304.2h1.2v1.2h-1.2zM115.7 297.3h1.2v1.2h-1.2zM124.6 287.4h1.2v1.2h-1.2zM119.5 298.1h1.2v1.2h-1.2zM119.7 293.8h1.2v1.2h-1.2zM112.8 304.7h1.2v1.2h-1.2zM122.1 295.4h1.2v1.2h-1.2zM120.1 292.0h1.2v1.2h-1.2zM116.6 301.8h1.2v1.2h-1.2zM119.2 298.7h1.2v1.2h-1.2zM119.1 296.2h1.2v1.2h-1.2zM112.5 304.2h1.2v1.2h-1.2zM126.7 289.1h1.2v1.2h-1.2zM115.1 303.2h1.2v1.2h-1.2zM114.7 304.6h1.2v1.2h-1.2zM120.6 292.9h1.2v1.2h-1.2zM115.2 299.6h1.2v1.2h-1.2zM122.9 295.3h1.2v1.2h-1.2zM122.4 291.1h1.2v1.2h-1.2zM113.5 303.6h1.2v1.2h-1.2zM112.3 302.1h1.2v1.2h-1.2zM122.5 290.6h1.2v1.2h-1.2zM117.3 302.4h1.2v1.2h-1.2zM127.9 280.7h1.2v1.2h-1.2zM127.4 276.2h1.2v1.2h-1.2zM129.4 259.3h1.2v1.2h-1.2zM123.4 287.5h1.2v1.2h-1.2zM126.4 289.4h1.2v1.2h-1.2zM122.7 284.0h1.2v1.2h-1.2zM127.9 281.1h1.2v1.2h-1.2zM133.0 262.4h1.2v1.2h-1.2zM120.0 288.9h1.2v1.2h-1.2zM125.1 271.0h1.2v1.2h-1.2zM134.5 263.8h1.2v1.2h-1.2zM120.7 287.4h1.2v1.2h-1.2zM124.5 287.4h1.2v1.2h-1.2zM122.7 291.7h1.2v1.2h-1.2zM124.4 291.4h1.2v1.2h-1.2zM126.7 277.1h1.2v1.2h-1.2zM116.0 290.7h1.2v1.2h-1.2zM128.7 283.6h1.2v1.2h-1.2zM130.4 275.0h1.2v1.2h-1.2zM116.4 291.4h1.2v1.2h-1.2zM122.6 292.1h1.2v1.2h-1.2zM119.2 288.8h1.2v1.2h-1.2zM129.6 272.5h1.2v1.2h-1.2zM122.8 284.6h1.2v1.2h-1.2zM123.4 285.6h1.2v1.2h-1.2zM122.0 283.5h1.2v1.2h-1.2zM120.1 286.8h1.2v1.2h-1.2zM117.3 286.4h1.2v1.2h-1.2zM124.0 285.0h1.2v1.2h-1.2zM118.4 286.2h1.2v1.2h-1.2zM129.8 265.3h1.2v1.2h-1.2zM123.4 278.3h1.2v1.2h-1.2zM133.4 263.6h1.2v1.2h-1.2zM128.6 274.2h1.2v1.2h-1.2zM127.9 271.5h1.2v1.2h-1.2zM123.0 281.7h1.2v1.2h-1.2zM125.0 278.5h1.2v1.2h-1.2zM126.0 277.6h1.2v1.2h-1.2zM133.4 267.7h1.2v1.2h-1.2zM117.0 287.5h1.2v1.2h-1.2zM117.9 285.3h1.2v1.2h-1.2zM130.6 267.4h1.2v1.2h-1.2zM119.4 285.7h1.2v1.2h-1.2zM134.0 264.4h1.2v1.2h-1.2zM129.8 271.8h1.2v1.2h-1.2zM128.1 269.4h1.2v1.2h-1.2zM124.6 282.2h1.2v1.2h-1.2zM135.7 263.9h1.2v1.2h-1.2zM134.7 262.3h1.2v1.2h-1.2zM118.1 291.2h1.2v1.2h-1.2zM132.5 260.0h1.2v1.2h-1.2zM123.5 278.2h1.2v1.2h-1.2zM130.5 264.7h1.2v1.2h-1.2zM127.9 259.2h1.2v1.2h-1.2zM127.3 259.1h1.2v1.2h-1.2zM120.2 289.5h1.2v1.2h-1.2zM123.0 273.5h1.2v1.2h-1.2zM130.7 276.4h1.2v1.2h-1.2zM127.3 280.9h1.2v1.2h-1.2zM127.4 275.3h1.2v1.2h-1.2zM121.2 288.9h1.2v1.2h-1.2zM132.7 263.0h1.2v1.2h-1.2zM121.5 287.7h1.2v1.2h-1.2zM124.1 277.1h1.2v1.2h-1.2zM127.7 275.9h1.2v1.2h-1.2zM117.4 292.1h1.2v1.2h-1.2zM124.4 272.9h1.2v1.2h-1.2zM123.6 291.2h1.2v1.2h-1.2zM128.2 284.2h1.2v1.2h-1.2zM121.8 276.6h1.2v1.2h-1.2zM124.6 273.6h1.2v1.2h-1.2zM132.0 266.6h1.2v1.2h-1.2zM124.2 268.9h1.2v1.2h-1.2zM123.7 291.9h1.2v1.2h-1.2zM118.1 289.7h1.2v1.2h-1.2zM116.9 291.9h1.2v1.2h-1.2zM129.8 279.6h1.2v1.2h-1.2zM120.6 284.6h1.2v1.2h-1.2zM126.6 266.1h1.2v1.2h-1.2zM128.3 273.7h1.2v1.2h-1.2zM126.7 261.6h1.2v1.2h-1.2zM124.9 276.4h1.2v1.2h-1.2zM127.2 266.2h1.2v1.2h-1.2zM124.9 270.6h1.2v1.2h-1.2zM130.2 278.9h1.2v1.2h-1.2zM119.9 287.1h1.2v1.2h-1.2zM133.0 262.3h1.2v1.2h-1.2zM117.4 291.3h1.2v1.2h-1.2zM120.0 287.1h1.2v1.2h-1.2zM132.2 265.4h1.2v1.2h-1.2zM133.9 259.6h1.2v1.2h-1.2zM125.8 274.0h1.2v1.2h-1.2zM128.2 270.5h1.2v1.2h-1.2zM120.6 291.5h1.2v1.2h-1.2zM124.2 282.6h1.2v1.2h-1.2zM135.2 246.6h1.2v1.2h-1.2zM140.6 247.6h1.2v1.2h-1.2zM137.9 246.1h1.2v1.2h-1.2zM141.3 273.0h1.2v1.2h-1.2zM142.6 286.2h1.2v1.2h-1.2z" fill="#f5cf55"/>
<rect x="126.80" y="209.50" width="1.00" height="1.00" fill="#e2573f" />
<text x="135.20" y="213.00" font-size="8" fill="#111" text-anchor="start" font-weight="normal" font-style="normal"  stroke="#111" stroke-width="0.240">Down</text>
<rect x="126.80" y="222.30" width="1.00" height="1.00" fill="#6fb4ee" />
<text x="135.20" y="225.20" font-size="8" fill="#111" text-anchor="start" font-weight="normal" font-style="normal"  stroke="#111" stroke-width="0.240">Ns</text>
<rect x="126.80" y="234.30" width="1.00" height="1.00" fill="#f5cf55" />
<text x="135.20" y="237.40" font-size="8" fill="#111" text-anchor="start" font-weight="normal" font-style="normal"  stroke="#111" stroke-width="0.240">Up</text>
<text x="285.30" y="208.75" font-size="5.55" fill="#111" text-anchor="end" font-weight="normal" font-style="normal"  stroke="#111" stroke-width="0.166">Xenobiotics biodegradation and metabolism</text>
<line x1="285.30" y1="206.80" x2="287.00" y2="206.80" stroke="#222" stroke-width="0.5" />
<rect x="287.00" y="205.10" width="2.70" height="3.40" fill="#e0523c" />
<text x="285.30" y="214.67" font-size="5.55" fill="#111" text-anchor="end" font-weight="normal" font-style="normal"  stroke="#111" stroke-width="0.166">Nucleotide metabolism</text>
<line x1="285.30" y1="212.72" x2="287.00" y2="212.72" stroke="#222" stroke-width="0.5" />
<rect x="287.00" y="211.02" width="5.80" height="3.40" fill="#e0523c" />
<text x="285.30" y="220.58" font-size="5.55" fill="#111" text-anchor="end" font-weight="normal" font-style="normal"  stroke="#111" stroke-width="0.166">Metabolism of terpenoids and polyketides</text>
<line x1="285.30" y1="218.63" x2="287.00" y2="218.63" stroke="#222" stroke-width="0.5" />
<rect x="287.00" y="216.93" width="2.70" height="3.40" fill="#e0523c" />
<text x="285.30" y="226.50" font-size="5.55" fill="#111" text-anchor="end" font-weight="normal" font-style="normal"  stroke="#111" stroke-width="0.166">Metabolism of other amino acids</text>
<line x1="285.30" y1="224.55" x2="287.00" y2="224.55" stroke="#222" stroke-width="0.5" />
<rect x="287.00" y="222.85" width="2.50" height="3.40" fill="#e0523c" />
<text x="285.30" y="232.41" font-size="5.55" fill="#111" text-anchor="end" font-weight="normal" font-style="normal"  stroke="#111" stroke-width="0.166">Metabolism of cofactors and vitamins</text>
<line x1="285.30" y1="230.46" x2="287.00" y2="230.46" stroke="#222" stroke-width="0.5" />
<rect x="287.00" y="228.76" width="6.60" height="3.40" fill="#e0523c" />
<text x="285.30" y="238.33" font-size="5.55" fill="#111" text-anchor="end" font-weight="normal" font-style="normal"  stroke="#111" stroke-width="0.166">Lipid metabolism</text>
<line x1="285.30" y1="236.38" x2="287.00" y2="236.38" stroke="#222" stroke-width="0.5" />
<rect x="287.00" y="234.68" width="4.80" height="3.40" fill="#e0523c" />
<text x="285.30" y="244.25" font-size="5.55" fill="#111" text-anchor="end" font-weight="normal" font-style="normal"  stroke="#111" stroke-width="0.166">Glycan biosynthesis and metabolism</text>
<line x1="285.30" y1="242.30" x2="287.00" y2="242.30" stroke="#222" stroke-width="0.5" />
<rect x="287.00" y="240.60" width="0.40" height="3.40" fill="#e0523c" />
<text x="285.30" y="250.16" font-size="5.55" fill="#111" text-anchor="end" font-weight="normal" font-style="normal"  stroke="#111" stroke-width="0.166">Global and overview maps</text>
<line x1="285.30" y1="248.21" x2="287.00" y2="248.21" stroke="#222" stroke-width="0.5" />
<rect x="287.00" y="246.51" width="39.70" height="3.40" fill="#e0523c" />
<text x="285.30" y="256.08" font-size="5.55" fill="#111" text-anchor="end" font-weight="normal" font-style="normal"  stroke="#111" stroke-width="0.166">Energy metabolism</text>
<line x1="285.30" y1="254.13" x2="287.00" y2="254.13" stroke="#222" stroke-width="0.5" />
<rect x="287.00" y="252.43" width="8.40" height="3.40" fill="#e0523c" />
<text x="285.30" y="261.99" font-size="5.55" fill="#111" text-anchor="end" font-weight="normal" font-style="normal"  stroke="#111" stroke-width="0.166">Carbohydrate metabolism</text>
<line x1="285.30" y1="260.04" x2="287.00" y2="260.04" stroke="#222" stroke-width="0.5" />
<rect x="287.00" y="258.34" width="17.90" height="3.40" fill="#e0523c" />
<text x="285.30" y="267.91" font-size="5.55" fill="#111" text-anchor="end" font-weight="normal" font-style="normal"  stroke="#111" stroke-width="0.166">Biosynthesis of other secondary metabolites</text>
<line x1="285.30" y1="265.96" x2="287.00" y2="265.96" stroke="#222" stroke-width="0.5" />
<rect x="287.00" y="264.26" width="0.70" height="3.40" fill="#e0523c" />
<text x="285.30" y="273.83" font-size="5.55" fill="#111" text-anchor="end" font-weight="normal" font-style="normal"  stroke="#111" stroke-width="0.166">Amino acid metabolism</text>
<line x1="285.30" y1="271.88" x2="287.00" y2="271.88" stroke="#222" stroke-width="0.5" />
<rect x="287.00" y="270.18" width="16.20" height="3.40" fill="#d5d185" />
<text x="285.30" y="279.74" font-size="5.55" fill="#111" text-anchor="end" font-weight="normal" font-style="normal"  stroke="#111" stroke-width="0.166">Translation</text>
<line x1="285.30" y1="277.79" x2="287.00" y2="277.79" stroke="#222" stroke-width="0.5" />
<rect x="287.00" y="276.09" width="12.50" height="3.40" fill="#d5d185" />
<text x="285.30" y="285.66" font-size="5.55" fill="#111" text-anchor="end" font-weight="normal" font-style="normal"  stroke="#111" stroke-width="0.166">Transcription</text>
<line x1="285.30" y1="283.71" x2="287.00" y2="283.71" stroke="#222" stroke-width="0.5" />
<text x="285.30" y="291.57" font-size="5.55" fill="#111" text-anchor="end" font-weight="normal" font-style="normal"  stroke="#111" stroke-width="0.166">Replication and repair</text>
<line x1="285.30" y1="289.62" x2="287.00" y2="289.62" stroke="#222" stroke-width="0.5" />
<rect x="287.00" y="287.92" width="1.40" height="3.40" fill="#d5d185" />
<text x="285.30" y="297.49" font-size="5.55" fill="#111" text-anchor="end" font-weight="normal" font-style="normal"  stroke="#111" stroke-width="0.166">Folding, sorting and degradation</text>
<line x1="285.30" y1="295.54" x2="287.00" y2="295.54" stroke="#222" stroke-width="0.5" />
<rect x="287.00" y="293.84" width="3.00" height="3.40" fill="#d5d185" />
<text x="285.30" y="303.41" font-size="5.55" fill="#111" text-anchor="end" font-weight="normal" font-style="normal"  stroke="#111" stroke-width="0.166">Signal transduction</text>
<line x1="285.30" y1="301.46" x2="287.00" y2="301.46" stroke="#222" stroke-width="0.5" />
<rect x="287.00" y="299.76" width="7.50" height="3.40" fill="#f2a862" />
<text x="285.30" y="309.32" font-size="5.55" fill="#111" text-anchor="end" font-weight="normal" font-style="normal"  stroke="#111" stroke-width="0.166">Membrane transport</text>
<line x1="285.30" y1="307.37" x2="287.00" y2="307.37" stroke="#222" stroke-width="0.5" />
<rect x="287.00" y="305.67" width="13.20" height="3.40" fill="#f2a862" />
<text x="285.30" y="315.24" font-size="5.55" fill="#111" text-anchor="end" font-weight="normal" font-style="normal"  stroke="#111" stroke-width="0.166">Cellular community - prokaryotes</text>
<line x1="285.30" y1="313.29" x2="287.00" y2="313.29" stroke="#222" stroke-width="0.5" />
<rect x="287.00" y="311.59" width="5.70" height="3.40" fill="#6cadf0" />
<text x="285.30" y="321.15" font-size="5.55" fill="#111" text-anchor="end" font-weight="normal" font-style="normal"  stroke="#111" stroke-width="0.166">Cell growth and death</text>
<line x1="285.30" y1="319.20" x2="287.00" y2="319.20" stroke="#222" stroke-width="0.5" />
<line x1="287.00" y1="203.50" x2="287.00" y2="324.00" stroke="#222" stroke-width="0.7" />
<line x1="287.00" y1="324.00" x2="338.30" y2="324.00" stroke="#222" stroke-width="0.7" />
<line x1="287.00" y1="324.00" x2="287.00" y2="325.60" stroke="#222" stroke-width="0.6" />
<text x="287.00" y="330.60" font-size="5.6" fill="#111" text-anchor="middle" font-weight="normal" font-style="normal"  stroke="#111" stroke-width="0.168">0</text>
<line x1="299.93" y1="324.00" x2="299.93" y2="325.60" stroke="#222" stroke-width="0.6" />
<text x="299.93" y="330.60" font-size="5.6" fill="#111" text-anchor="middle" font-weight="normal" font-style="normal"  stroke="#111" stroke-width="0.168">50</text>
<line x1="312.86" y1="324.00" x2="312.86" y2="325.60" stroke="#222" stroke-width="0.6" />
<text x="312.86" y="330.60" font-size="5.6" fill="#111" text-anchor="middle" font-weight="normal" font-style="normal"  stroke="#111" stroke-width="0.168">100</text>
<line x1="325.79" y1="324.00" x2="325.79" y2="325.60" stroke="#222" stroke-width="0.6" />
<text x="325.79" y="330.60" font-size="5.6" fill="#111" text-anchor="middle" font-weight="normal" font-style="normal"  stroke="#111" stroke-width="0.168">150</text>
<line x1="338.72" y1="324.00" x2="338.72" y2="325.60" stroke="#222" stroke-width="0.6" />
<text x="338.72" y="330.60" font-size="5.6" fill="#111" text-anchor="middle" font-weight="normal" font-style="normal"  stroke="#111" stroke-width="0.168">200</text>
<text x="312.00" y="338.00" font-size="5.6" fill="#111" text-anchor="middle" font-weight="normal" font-style="normal"  stroke="#111" stroke-width="0.168">Number of Genes</text>
<text x="298.00" y="205.50" font-size="6.6" fill="#111" text-anchor="start" font-weight="normal" font-style="normal"  stroke="#111" stroke-width="0.198">KEGG Pathway</text>
<rect x="312.60" y="266.70" width="5.20" height="4.80" fill="#6cadf0" />
<text x="320.30" y="270.80" font-size="5.3" fill="#111" text-anchor="start" font-weight="normal" font-style="normal"  stroke="#111" stroke-width="0.159">Cellular Processes</text>
<rect x="312.60" y="274.40" width="5.20" height="4.80" fill="#f2a862" />
<text x="320.30" y="278.50" font-size="5.3" fill="#111" text-anchor="start" font-weight="normal" font-style="normal"  stroke="#111" stroke-width="0.159">Environmental Information Processing</text>
<rect x="312.60" y="281.60" width="5.20" height="4.80" fill="#d5d185" />
<text x="320.30" y="285.70" font-size="5.3" fill="#111" text-anchor="start" font-weight="normal" font-style="normal"  stroke="#111" stroke-width="0.159">Genetic Information</text>
<text x="320.30" y="292.10" font-size="5.3" fill="#111" text-anchor="start" font-weight="normal" font-style="normal"  stroke="#111" stroke-width="0.159">Processing</text>
<rect x="312.60" y="296.20" width="5.20" height="4.80" fill="#e0523c" />
<text x="320.30" y="300.30" font-size="5.3" fill="#111" text-anchor="start" font-weight="normal" font-style="normal"  stroke="#111" stroke-width="0.159">Metabolism of terpenoids and</text>
<text x="320.30" y="306.70" font-size="5.3" fill="#111" text-anchor="start" font-weight="normal" font-style="normal"  stroke="#111" stroke-width="0.159">polyketides</text>
<line x1="438.80" y1="197.20" x2="438.80" y2="249.80" stroke="#333" stroke-width="0.6" />
<line x1="438.80" y1="249.80" x2="473.30" y2="249.80" stroke="#333" stroke-width="0.6" />
<line x1="437.40" y1="249.80" x2="438.80" y2="249.80" stroke="#333" stroke-width="0.5" />
<text x="437.20" y="251.40" font-size="4.6" fill="#222" text-anchor="end" font-weight="normal" font-style="normal"  stroke="#222" stroke-width="0.083">0</text>
<line x1="437.40" y1="239.28" x2="438.80" y2="239.28" stroke="#333" stroke-width="0.5" />
<text x="437.20" y="240.88" font-size="4.6" fill="#222" text-anchor="end" font-weight="normal" font-style="normal"  stroke="#222" stroke-width="0.083">500</text>
<line x1="437.40" y1="228.76" x2="438.80" y2="228.76" stroke="#333" stroke-width="0.5" />
<text x="437.20" y="230.36" font-size="4.6" fill="#222" text-anchor="end" font-weight="normal" font-style="normal"  stroke="#222" stroke-width="0.083">1000</text>
<line x1="437.40" y1="218.24" x2="438.80" y2="218.24" stroke="#333" stroke-width="0.5" />
<text x="437.20" y="219.84" font-size="4.6" fill="#222" text-anchor="end" font-weight="normal" font-style="normal"  stroke="#222" stroke-width="0.083">1500</text>
<line x1="437.40" y1="207.72" x2="438.80" y2="207.72" stroke="#333" stroke-width="0.5" />
<text x="437.20" y="209.32" font-size="4.6" fill="#222" text-anchor="end" font-weight="normal" font-style="normal"  stroke="#222" stroke-width="0.083">2000</text>
<line x1="437.40" y1="197.20" x2="438.80" y2="197.20" stroke="#333" stroke-width="0.5" />
<text x="437.20" y="198.80" font-size="4.6" fill="#222" text-anchor="end" font-weight="normal" font-style="normal"  stroke="#222" stroke-width="0.083">2500</text>
<rect x="443.00" y="217.90" width="10.20" height="31.90" fill="#6bb6f2" />
<rect x="458.60" y="244.20" width="10.20" height="5.60" fill="#e0553c" />
<line x1="448.10" y1="217.90" x2="448.10" y2="206.40" stroke="#5a5a5a" stroke-width="0.75" />
<line x1="445.30" y1="206.40" x2="450.90" y2="206.40" stroke="#5a5a5a" stroke-width="0.9" />
<line x1="463.70" y1="244.20" x2="463.70" y2="241.30" stroke="#5a5a5a" stroke-width="0.75" />
<line x1="460.90" y1="241.30" x2="466.50" y2="241.30" stroke="#5a5a5a" stroke-width="0.9" />
<text x="455.80" y="190.70" font-size="6" fill="#111" text-anchor="middle" font-weight="bold" font-style="italic"  stroke="#111" stroke-width="0.180">hlg</text>
<text transform="translate(422.8,223.5) rotate(-90)" font-size="4.6" fill="#222" text-anchor="middle" stroke="#222" stroke-width="0.083">FPKM</text>
<line x1="448.10" y1="249.80" x2="448.10" y2="251.10" stroke="#333" stroke-width="0.5" />
<text transform="translate(450.3,253.0) rotate(-45)" font-size="5.4" fill="#222" text-anchor="end" stroke="#222" stroke-width="0.162">Control</text>
<line x1="463.70" y1="249.80" x2="463.70" y2="251.10" stroke="#333" stroke-width="0.5" />
<text transform="translate(465.9,253.0) rotate(-45)" font-size="5.4" fill="#222" text-anchor="end" stroke="#222" stroke-width="0.162">HBPL</text>
<line x1="503.60" y1="197.20" x2="503.60" y2="249.80" stroke="#333" stroke-width="0.6" />
<line x1="503.60" y1="249.80" x2="538.70" y2="249.80" stroke="#333" stroke-width="0.6" />
<line x1="502.20" y1="249.80" x2="503.60" y2="249.80" stroke="#333" stroke-width="0.5" />
<text x="502.00" y="251.40" font-size="4.6" fill="#222" text-anchor="end" font-weight="normal" font-style="normal"  stroke="#222" stroke-width="0.083">0</text>
<line x1="502.20" y1="236.65" x2="503.60" y2="236.65" stroke="#333" stroke-width="0.5" />
<text x="502.00" y="238.25" font-size="4.6" fill="#222" text-anchor="end" font-weight="normal" font-style="normal"  stroke="#222" stroke-width="0.083">2000</text>
<line x1="502.20" y1="223.50" x2="503.60" y2="223.50" stroke="#333" stroke-width="0.5" />
<text x="502.00" y="225.10" font-size="4.6" fill="#222" text-anchor="end" font-weight="normal" font-style="normal"  stroke="#222" stroke-width="0.083">4000</text>
<line x1="502.20" y1="210.35" x2="503.60" y2="210.35" stroke="#333" stroke-width="0.5" />
<text x="502.00" y="211.95" font-size="4.6" fill="#222" text-anchor="end" font-weight="normal" font-style="normal"  stroke="#222" stroke-width="0.083">6000</text>
<line x1="502.20" y1="197.20" x2="503.60" y2="197.20" stroke="#333" stroke-width="0.5" />
<text x="502.00" y="198.80" font-size="4.6" fill="#222" text-anchor="end" font-weight="normal" font-style="normal"  stroke="#222" stroke-width="0.083">8000</text>
<rect x="509.20" y="221.80" width="9.60" height="28.00" fill="#6bb6f2" />
<rect x="523.90" y="244.80" width="9.90" height="5.00" fill="#e0553c" />
<line x1="514.00" y1="221.80" x2="514.00" y2="209.90" stroke="#5a5a5a" stroke-width="0.75" />
<line x1="511.20" y1="209.90" x2="516.80" y2="209.90" stroke="#5a5a5a" stroke-width="0.9" />
<line x1="528.85" y1="244.80" x2="528.85" y2="241.80" stroke="#5a5a5a" stroke-width="0.75" />
<line x1="526.05" y1="241.80" x2="531.65" y2="241.80" stroke="#5a5a5a" stroke-width="0.9" />
<text x="520.50" y="190.70" font-size="6" fill="#111" text-anchor="middle" font-weight="bold" font-style="italic"  stroke="#111" stroke-width="0.180">luk</text>
<text transform="translate(488.3,223.5) rotate(-90)" font-size="4.6" fill="#222" text-anchor="middle" stroke="#222" stroke-width="0.083">FPKM</text>
<line x1="514.00" y1="249.80" x2="514.00" y2="251.10" stroke="#333" stroke-width="0.5" />
<text transform="translate(516.2,253.0) rotate(-45)" font-size="5.4" fill="#222" text-anchor="end" stroke="#222" stroke-width="0.162">Control</text>
<line x1="528.85" y1="249.80" x2="528.85" y2="251.10" stroke="#333" stroke-width="0.5" />
<text transform="translate(531.0,253.0) rotate(-45)" font-size="5.4" fill="#222" text-anchor="end" stroke="#222" stroke-width="0.162">HBPL</text>
<line x1="437.60" y1="278.70" x2="437.60" y2="329.40" stroke="#333" stroke-width="0.6" />
<line x1="437.60" y1="329.40" x2="473.00" y2="329.40" stroke="#333" stroke-width="0.6" />
<line x1="436.20" y1="329.40" x2="437.60" y2="329.40" stroke="#333" stroke-width="0.5" />
<text x="436.00" y="331.00" font-size="4.6" fill="#222" text-anchor="end" font-weight="normal" font-style="normal"  stroke="#222" stroke-width="0.083">0</text>
<line x1="436.20" y1="312.50" x2="437.60" y2="312.50" stroke="#333" stroke-width="0.5" />
<text x="436.00" y="314.10" font-size="4.6" fill="#222" text-anchor="end" font-weight="normal" font-style="normal"  stroke="#222" stroke-width="0.083">500</text>
<line x1="436.20" y1="295.60" x2="437.60" y2="295.60" stroke="#333" stroke-width="0.5" />
<text x="436.00" y="297.20" font-size="4.6" fill="#222" text-anchor="end" font-weight="normal" font-style="normal"  stroke="#222" stroke-width="0.083">1000</text>
<line x1="436.20" y1="278.70" x2="437.60" y2="278.70" stroke="#333" stroke-width="0.5" />
<text x="436.00" y="280.30" font-size="4.6" fill="#222" text-anchor="end" font-weight="normal" font-style="normal"  stroke="#222" stroke-width="0.083">1500</text>
<rect x="442.20" y="294.60" width="9.60" height="34.80" fill="#6bb6f2" />
<rect x="456.50" y="321.70" width="9.70" height="7.70" fill="#e0553c" />
<line x1="447.00" y1="294.60" x2="447.00" y2="284.40" stroke="#5a5a5a" stroke-width="0.75" />
<line x1="444.20" y1="284.40" x2="449.80" y2="284.40" stroke="#5a5a5a" stroke-width="0.9" />
<line x1="461.35" y1="321.70" x2="461.35" y2="319.60" stroke="#5a5a5a" stroke-width="0.75" />
<line x1="458.55" y1="319.60" x2="464.15" y2="319.60" stroke="#5a5a5a" stroke-width="0.9" />
<text x="454.60" y="272.20" font-size="6" fill="#111" text-anchor="middle" font-weight="bold" font-style="italic"  stroke="#111" stroke-width="0.180">saeR</text>
<text transform="translate(422.3,304.0) rotate(-90)" font-size="4.6" fill="#222" text-anchor="middle" stroke="#222" stroke-width="0.083">FPKM</text>
<line x1="447.00" y1="329.40" x2="447.00" y2="330.70" stroke="#333" stroke-width="0.5" />
<text transform="translate(449.2,332.6) rotate(-45)" font-size="5.4" fill="#222" text-anchor="end" stroke="#222" stroke-width="0.162">Control</text>
<line x1="461.35" y1="329.40" x2="461.35" y2="330.70" stroke="#333" stroke-width="0.5" />
<text transform="translate(463.6,332.6) rotate(-45)" font-size="5.4" fill="#222" text-anchor="end" stroke="#222" stroke-width="0.162">HBPL</text>
<line x1="505.60" y1="278.40" x2="505.60" y2="329.60" stroke="#333" stroke-width="0.6" />
<line x1="505.60" y1="329.60" x2="539.30" y2="329.60" stroke="#333" stroke-width="0.6" />
<line x1="504.20" y1="329.60" x2="505.60" y2="329.60" stroke="#333" stroke-width="0.5" />
<text x="504.00" y="331.20" font-size="4.6" fill="#222" text-anchor="end" font-weight="normal" font-style="normal"  stroke="#222" stroke-width="0.083">0</text>
<line x1="504.20" y1="312.53" x2="505.60" y2="312.53" stroke="#333" stroke-width="0.5" />
<text x="504.00" y="314.13" font-size="4.6" fill="#222" text-anchor="end" font-weight="normal" font-style="normal"  stroke="#222" stroke-width="0.083">5000</text>
<line x1="504.20" y1="295.47" x2="505.60" y2="295.47" stroke="#333" stroke-width="0.5" />
<text x="504.00" y="297.07" font-size="4.6" fill="#222" text-anchor="end" font-weight="normal" font-style="normal"  stroke="#222" stroke-width="0.083">10000</text>
<line x1="504.20" y1="278.40" x2="505.60" y2="278.40" stroke="#333" stroke-width="0.5" />
<text x="504.00" y="280.00" font-size="4.6" fill="#222" text-anchor="end" font-weight="normal" font-style="normal"  stroke="#222" stroke-width="0.083">15000</text>
<rect x="510.80" y="295.40" width="9.00" height="34.20" fill="#6bb6f2" />
<rect x="525.00" y="319.60" width="9.80" height="10.00" fill="#e0553c" />
<line x1="515.30" y1="295.40" x2="515.30" y2="290.50" stroke="#5a5a5a" stroke-width="0.75" />
<line x1="512.50" y1="290.50" x2="518.10" y2="290.50" stroke="#5a5a5a" stroke-width="0.9" />
<line x1="529.90" y1="319.60" x2="529.90" y2="316.20" stroke="#5a5a5a" stroke-width="0.75" />
<line x1="527.10" y1="316.20" x2="532.70" y2="316.20" stroke="#5a5a5a" stroke-width="0.9" />
<text x="522.80" y="271.90" font-size="6" fill="#111" text-anchor="middle" font-weight="bold" font-style="italic"  stroke="#111" stroke-width="0.180">sucD</text>
<text transform="translate(490,304.0) rotate(-90)" font-size="4.6" fill="#222" text-anchor="middle" stroke="#222" stroke-width="0.083">FPKM</text>
<line x1="515.30" y1="329.60" x2="515.30" y2="330.90" stroke="#333" stroke-width="0.5" />
<text transform="translate(517.5,332.8) rotate(-45)" font-size="5.4" fill="#222" text-anchor="end" stroke="#222" stroke-width="0.162">Control</text>
<line x1="529.90" y1="329.60" x2="529.90" y2="330.90" stroke="#333" stroke-width="0.5" />
<text transform="translate(532.1,332.8) rotate(-45)" font-size="5.4" fill="#222" text-anchor="end" stroke="#222" stroke-width="0.162">HBPL</text></svg></body></html>
